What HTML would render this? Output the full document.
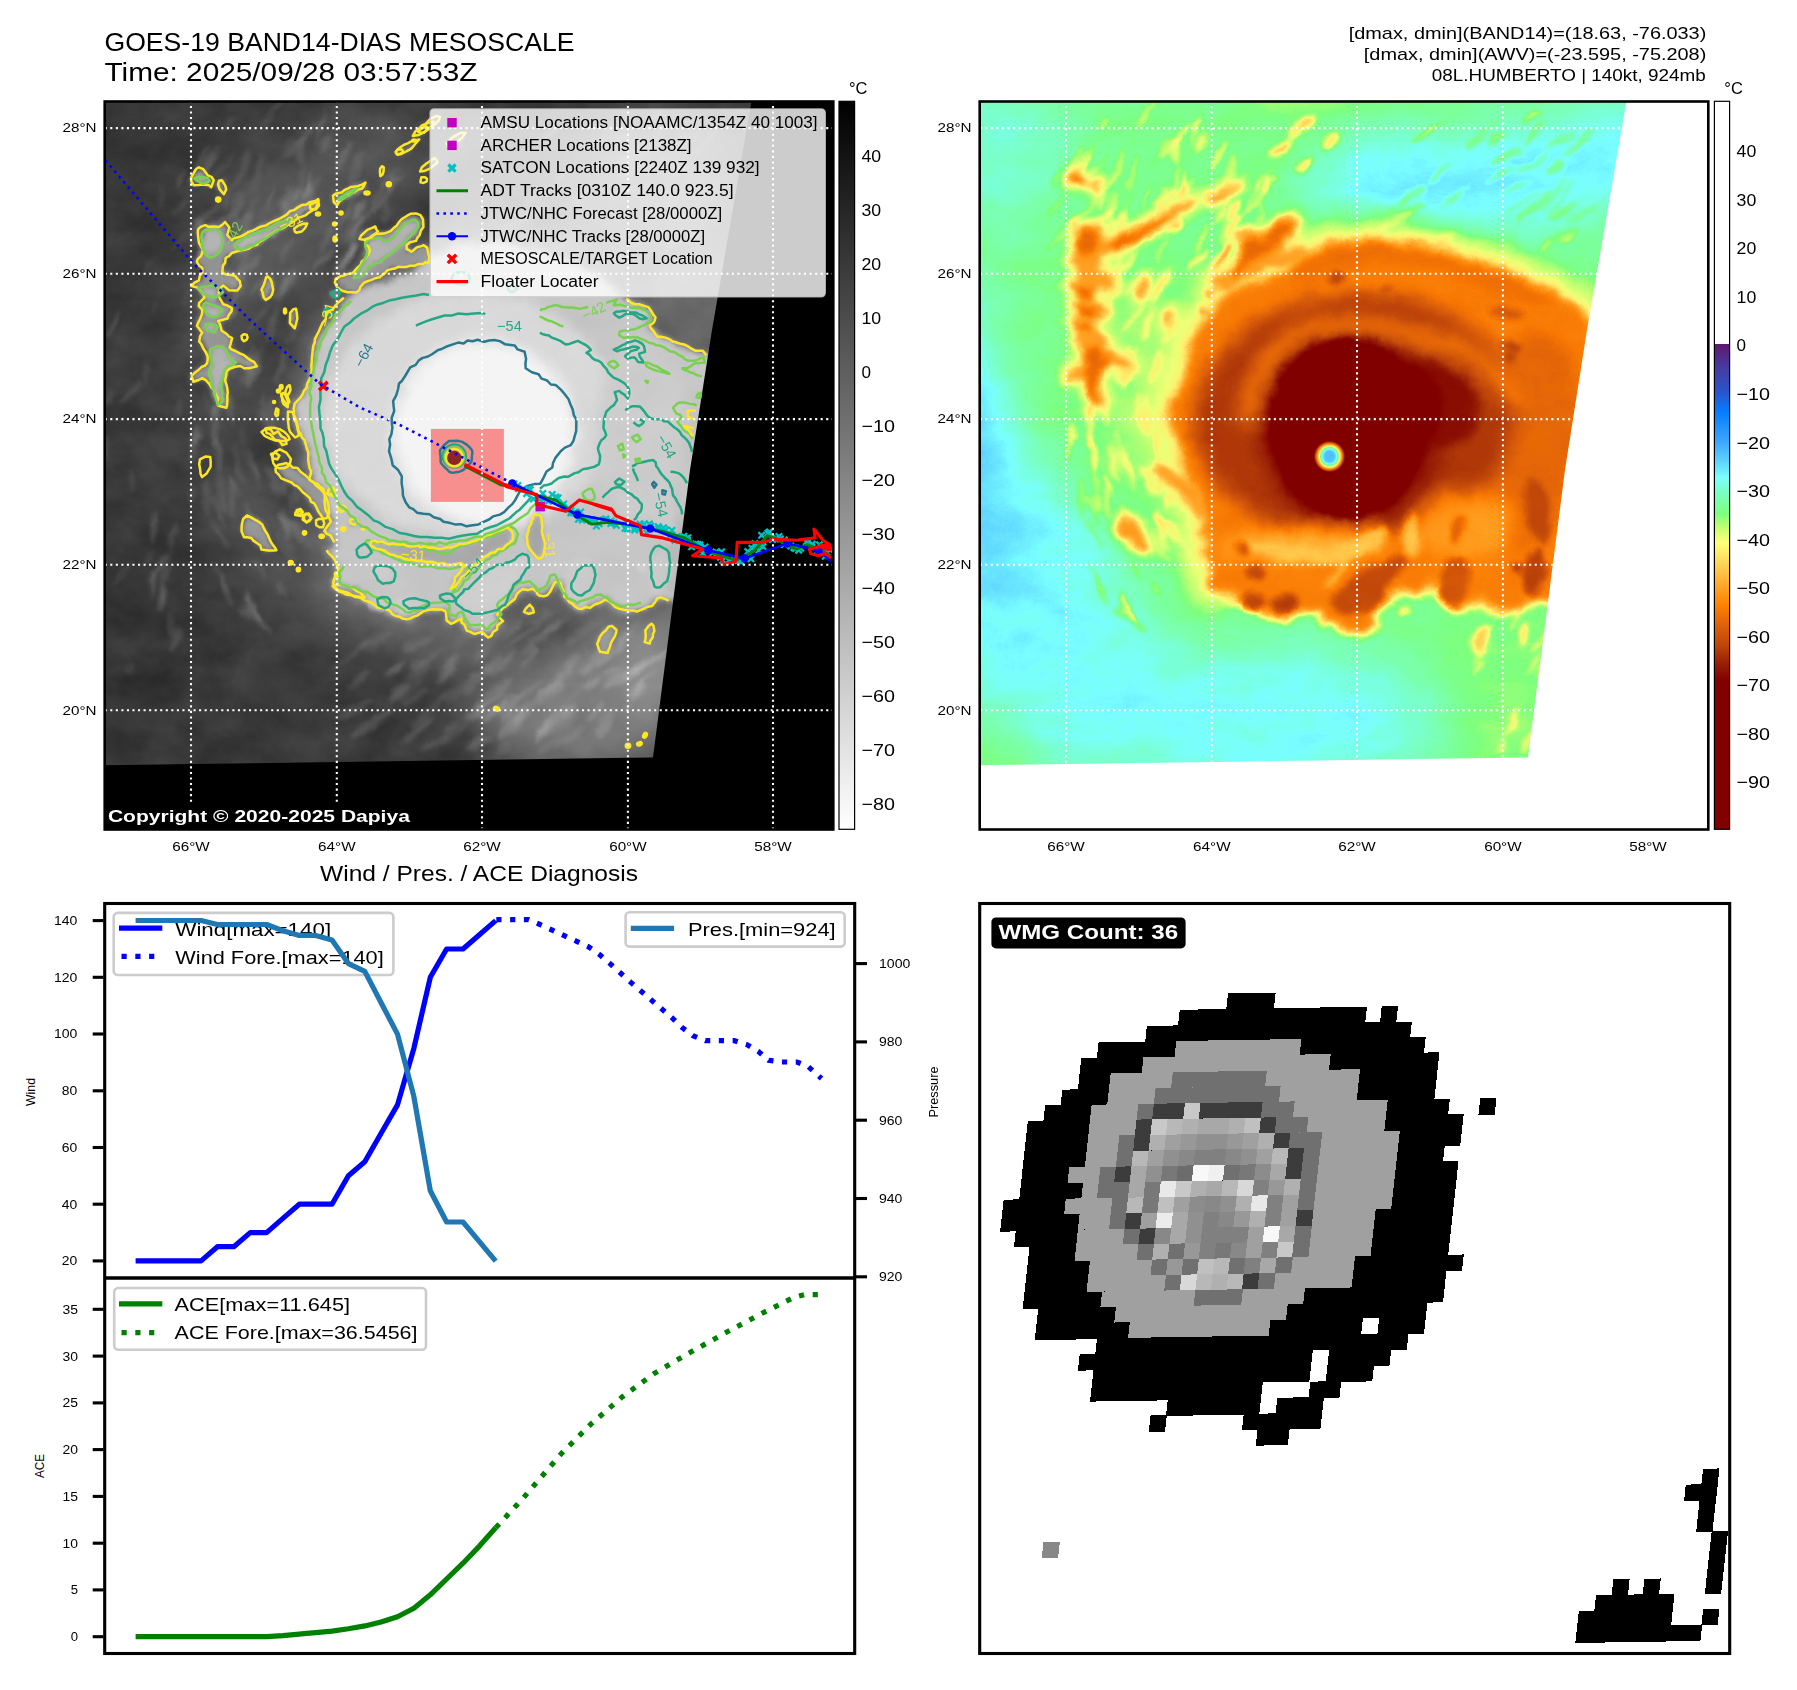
<!DOCTYPE html><html><head><meta charset="utf-8"><title>GOES-19 BAND14-DIAS MESOSCALE</title><style>html,body{margin:0;padding:0;background:#fff}svg{display:block;font-family:"Liberation Sans",sans-serif}</style></head><body>
<svg width="1797" height="1690" viewBox="0 0 1797 1690">
<rect width="1797" height="1690" fill="#fff"/>
<defs>
<filter id="bl1_5" x="-50%" y="-50%" width="200%" height="200%" color-interpolation-filters="sRGB"><feGaussianBlur stdDeviation="1.5"/></filter>
<filter id="bl1_9" x="-50%" y="-50%" width="200%" height="200%" color-interpolation-filters="sRGB"><feGaussianBlur stdDeviation="1.9"/></filter>
<filter id="bl2_2" x="-50%" y="-50%" width="200%" height="200%" color-interpolation-filters="sRGB"><feGaussianBlur stdDeviation="2.2"/></filter>
<filter id="bl2_5" x="-50%" y="-50%" width="200%" height="200%" color-interpolation-filters="sRGB"><feGaussianBlur stdDeviation="2.5"/></filter>
<filter id="bl3" x="-50%" y="-50%" width="200%" height="200%" color-interpolation-filters="sRGB"><feGaussianBlur stdDeviation="3"/></filter>
<filter id="bl3_5" x="-50%" y="-50%" width="200%" height="200%" color-interpolation-filters="sRGB"><feGaussianBlur stdDeviation="3.5"/></filter>
<filter id="bl5" x="-50%" y="-50%" width="200%" height="200%" color-interpolation-filters="sRGB"><feGaussianBlur stdDeviation="5"/></filter>
<filter id="bl6" x="-50%" y="-50%" width="200%" height="200%" color-interpolation-filters="sRGB"><feGaussianBlur stdDeviation="6"/></filter>
<filter id="bl7" x="-50%" y="-50%" width="200%" height="200%" color-interpolation-filters="sRGB"><feGaussianBlur stdDeviation="7"/></filter>
<filter id="bl9" x="-50%" y="-50%" width="200%" height="200%" color-interpolation-filters="sRGB"><feGaussianBlur stdDeviation="9"/></filter>
<filter id="bl12" x="-50%" y="-50%" width="200%" height="200%" color-interpolation-filters="sRGB"><feGaussianBlur stdDeviation="12"/></filter>
<filter id="bl13" x="-50%" y="-50%" width="200%" height="200%" color-interpolation-filters="sRGB"><feGaussianBlur stdDeviation="13"/></filter>
<filter id="bl24" x="-50%" y="-50%" width="200%" height="200%" color-interpolation-filters="sRGB"><feGaussianBlur stdDeviation="24"/></filter>
<filter id="bl30" x="-50%" y="-50%" width="200%" height="200%" color-interpolation-filters="sRGB"><feGaussianBlur stdDeviation="30"/></filter>
<clipPath id="axL"><rect x="104.7" y="101.5" width="728.6" height="728"/></clipPath>
<clipPath id="dat"><path d="M104.0,101.0 L751.5,101.0 L712.0,330.0 L690.0,470.0 L653.0,757.5 L104.0,765.3Z"/></clipPath>
<filter id="fxL" filterUnits="userSpaceOnUse" x="100" y="95" width="740" height="740" color-interpolation-filters="sRGB">
<feTurbulence type="fractalNoise" baseFrequency="0.022 0.03" numOctaves="4" seed="7" result="n"/>
<feColorMatrix in="n" type="matrix" values="1.6 0 0 0 -0.3  1.6 0 0 0 -0.3  1.6 0 0 0 -0.3  0 0 0 0 1" result="ng"/>
<feTurbulence type="fractalNoise" baseFrequency="0.045" numOctaves="3" seed="5" result="dn"/>
<feDisplacementMap in="SourceGraphic" in2="dn" scale="9" xChannelSelector="R" yChannelSelector="G" result="dp"/>
<feComposite in="dp" in2="ng" operator="arithmetic" k1="-0.1" k2="1.05" k3="0.1" k4="-0.05"/></filter>
<filter id="fxR" filterUnits="userSpaceOnUse" x="100" y="95" width="740" height="740" color-interpolation-filters="sRGB">
<feTurbulence type="fractalNoise" baseFrequency="0.02 0.035" numOctaves="4" seed="11" result="n"/>
<feColorMatrix in="n" type="matrix" values="1.6 0 0 0 -0.3  1.6 0 0 0 -0.3  1.6 0 0 0 -0.3  0 0 0 0 1" result="ng"/>
<feTurbulence type="fractalNoise" baseFrequency="0.045" numOctaves="3" seed="5" result="dn"/>
<feDisplacementMap in="SourceGraphic" in2="dn" scale="9" xChannelSelector="R" yChannelSelector="G" result="dp"/>
<feComposite in="dp" in2="ng" operator="arithmetic" k1="-0.04" k2="1.02" k3="0.04" k4="-0.02" result="s"/></filter>
<filter id="cm" filterUnits="userSpaceOnUse" x="100" y="95" width="740" height="740" color-interpolation-filters="sRGB">
<feComponentTransfer><feFuncR type="table" tableValues="0.056 0.145 0.235 0.314 0.392 0.478 0.478 0.484 0.490 0.735 0.928 1.000 1.000 1.000 1.000 1.000 0.968 0.887 0.808 0.725 0.627 0.551 0.502 0.502 0.502 0.502 0.502"/><feFuncG type="table" tableValues="0.516 0.582 0.647 0.755 0.863 1.000 1.000 1.000 1.000 1.000 1.000 0.941 0.843 0.745 0.647 0.556 0.471 0.392 0.325 0.255 0.157 0.067 0.000 0.000 0.000 0.000 0.000"/><feFuncB type="table" tableValues="1.000 1.000 1.000 1.000 1.000 1.000 0.804 0.647 0.490 0.448 0.465 0.431 0.353 0.255 0.157 0.059 0.010 0.034 0.039 0.037 0.025 0.011 0.000 0.000 0.000 0.000 0.000"/></feComponentTransfer></filter>
</defs>
<g clip-path="url(#axL)"><rect x="100" y="95" width="740" height="740" fill="#000"/>
<g clip-path="url(#dat)"><g filter="url(#fxL)"><g><rect x="100" y="95" width="740" height="740" fill="#3a3a3a"/></g>
<g filter="url(#bl24)"><ellipse cx="590.0" cy="705.0" rx="115.0" ry="70.0" fill="#7a7a7a" transform="rotate(-8 590 705)"/><ellipse cx="650.0" cy="640.0" rx="50.0" ry="90.0" fill="#8c8c8c"/><ellipse cx="470.0" cy="650.0" rx="70.0" ry="35.0" fill="#5a5a5a" transform="rotate(5 470 650)"/><ellipse cx="410.0" cy="628.0" rx="85.0" ry="24.0" fill="#626262" transform="rotate(12 410 628)"/><ellipse cx="285.0" cy="560.0" rx="35.0" ry="110.0" fill="#565656" transform="rotate(-38 285 560)"/><ellipse cx="320.0" cy="185.0" rx="130.0" ry="50.0" fill="#565656" transform="rotate(-25 320 185)"/><ellipse cx="285.0" cy="250.0" rx="60.0" ry="40.0" fill="#606060" transform="rotate(-30 285 250)"/><ellipse cx="225.0" cy="330.0" rx="40.0" ry="120.0" fill="#505050"/><ellipse cx="660.0" cy="200.0" rx="90.0" ry="80.0" fill="#646464"/><ellipse cx="140.0" cy="650.0" rx="60.0" ry="100.0" fill="#343434"/><ellipse cx="140.0" cy="200.0" rx="40.0" ry="100.0" fill="#363636"/></g>
<g filter="url(#bl2_2)"><ellipse cx="343.0" cy="155.9" rx="16.1" ry="3.5" fill="#fff" fill-opacity="0.13" transform="rotate(-62.2 343 156)"/><ellipse cx="358.9" cy="187.9" rx="8.0" ry="2.8" fill="#fff" fill-opacity="0.13" transform="rotate(-52.6 359 188)"/><ellipse cx="180.6" cy="207.5" rx="14.9" ry="2.1" fill="#fff" fill-opacity="0.1" transform="rotate(-46.2 181 207)"/><ellipse cx="271.3" cy="199.2" rx="12.2" ry="2.2" fill="#fff" fill-opacity="0.1" transform="rotate(-71.6 271 199)"/><ellipse cx="359.3" cy="210.2" rx="11.3" ry="4.5" fill="#fff" fill-opacity="0.14" transform="rotate(-56.9 359 210)"/><ellipse cx="201.6" cy="169.9" rx="20.8" ry="4.3" fill="#fff" fill-opacity="0.1" transform="rotate(-54.0 202 170)"/><ellipse cx="357.6" cy="230.7" rx="18.6" ry="4.1" fill="#fff" fill-opacity="0.14" transform="rotate(-69.1 358 231)"/><ellipse cx="286.2" cy="216.0" rx="12.4" ry="3.9" fill="#fff" fill-opacity="0.1" transform="rotate(-78.8 286 216)"/><ellipse cx="213.1" cy="208.8" rx="20.1" ry="2.6" fill="#fff" fill-opacity="0.1" transform="rotate(-54.7 213 209)"/><ellipse cx="286.9" cy="250.1" rx="15.1" ry="3.0" fill="#fff" fill-opacity="0.07" transform="rotate(-61.2 287 250)"/><ellipse cx="184.6" cy="236.6" rx="18.7" ry="2.7" fill="#fff" fill-opacity="0.08" transform="rotate(-44.6 185 237)"/><ellipse cx="285.5" cy="286.8" rx="17.7" ry="4.1" fill="#fff" fill-opacity="0.09" transform="rotate(-52.3 285 287)"/><ellipse cx="288.0" cy="281.4" rx="16.3" ry="2.3" fill="#fff" fill-opacity="0.11" transform="rotate(-59.2 288 281)"/><ellipse cx="347.4" cy="257.7" rx="21.3" ry="3.9" fill="#fff" fill-opacity="0.11" transform="rotate(-48.1 347 258)"/><ellipse cx="298.5" cy="186.7" rx="23.7" ry="3.2" fill="#fff" fill-opacity="0.08" transform="rotate(-78.0 298 187)"/><ellipse cx="286.0" cy="197.3" rx="14.2" ry="3.1" fill="#fff" fill-opacity="0.12" transform="rotate(-67.2 286 197)"/><ellipse cx="309.7" cy="192.5" rx="12.1" ry="2.0" fill="#fff" fill-opacity="0.12" transform="rotate(-79.0 310 192)"/><ellipse cx="364.4" cy="253.7" rx="22.7" ry="2.3" fill="#fff" fill-opacity="0.14" transform="rotate(-51.3 364 254)"/><ellipse cx="323.1" cy="125.0" rx="8.3" ry="3.8" fill="#fff" fill-opacity="0.09" transform="rotate(-79.4 323 125)"/><ellipse cx="199.1" cy="222.5" rx="9.3" ry="2.0" fill="#fff" fill-opacity="0.11" transform="rotate(-67.6 199 222)"/><ellipse cx="212.0" cy="159.1" rx="16.2" ry="2.5" fill="#fff" fill-opacity="0.11" transform="rotate(-54.4 212 159)"/><ellipse cx="180.2" cy="179.6" rx="11.4" ry="1.8" fill="#fff" fill-opacity="0.14" transform="rotate(-64.8 180 180)"/><ellipse cx="287.2" cy="147.6" rx="22.7" ry="1.6" fill="#fff" fill-opacity="0.07" transform="rotate(-58.2 287 148)"/><ellipse cx="207.2" cy="239.4" rx="20.7" ry="3.5" fill="#fff" fill-opacity="0.11" transform="rotate(-74.2 207 239)"/><ellipse cx="350.5" cy="203.0" rx="19.7" ry="2.7" fill="#fff" fill-opacity="0.11" transform="rotate(-72.0 351 203)"/><ellipse cx="245.7" cy="223.6" rx="13.4" ry="4.4" fill="#fff" fill-opacity="0.14" transform="rotate(-77.9 246 224)"/><ellipse cx="242.4" cy="264.5" rx="24.9" ry="3.7" fill="#fff" fill-opacity="0.1" transform="rotate(-68.8 242 265)"/><ellipse cx="300.5" cy="140.9" rx="25.5" ry="3.6" fill="#fff" fill-opacity="0.11" transform="rotate(-48.8 300 141)"/><ellipse cx="258.2" cy="172.4" rx="20.1" ry="2.8" fill="#fff" fill-opacity="0.08" transform="rotate(-72.6 258 172)"/><ellipse cx="198.0" cy="229.9" rx="17.0" ry="2.5" fill="#fff" fill-opacity="0.14" transform="rotate(-69.3 198 230)"/><ellipse cx="219.2" cy="169.0" rx="22.1" ry="2.5" fill="#fff" fill-opacity="0.08" transform="rotate(-44.5 219 169)"/><ellipse cx="323.4" cy="260.8" rx="14.2" ry="4.1" fill="#fff" fill-opacity="0.12" transform="rotate(-46.4 323 261)"/><ellipse cx="281.6" cy="287.4" rx="21.1" ry="1.8" fill="#fff" fill-opacity="0.08" transform="rotate(-71.6 282 287)"/><ellipse cx="342.0" cy="218.0" rx="14.6" ry="2.5" fill="#fff" fill-opacity="0.09" transform="rotate(-49.7 342 218)"/><ellipse cx="365.8" cy="218.7" rx="24.0" ry="1.9" fill="#fff" fill-opacity="0.11" transform="rotate(-45.6 366 219)"/><ellipse cx="348.4" cy="259.1" rx="19.1" ry="3.8" fill="#fff" fill-opacity="0.1" transform="rotate(-67.7 348 259)"/><ellipse cx="300.6" cy="150.3" rx="12.8" ry="4.2" fill="#fff" fill-opacity="0.11" transform="rotate(-77.1 301 150)"/><ellipse cx="378.5" cy="192.4" rx="22.2" ry="4.0" fill="#fff" fill-opacity="0.07" transform="rotate(-70.0 379 192)"/><ellipse cx="322.5" cy="126.5" rx="23.9" ry="1.6" fill="#fff" fill-opacity="0.09" transform="rotate(-75.9 322 127)"/><ellipse cx="392.4" cy="185.8" rx="11.0" ry="2.2" fill="#fff" fill-opacity="0.13" transform="rotate(-75.8 392 186)"/><ellipse cx="258.2" cy="284.6" rx="13.3" ry="2.3" fill="#fff" fill-opacity="0.11" transform="rotate(-47.3 258 285)"/><ellipse cx="197.0" cy="227.4" rx="8.2" ry="4.4" fill="#fff" fill-opacity="0.09" transform="rotate(-78.6 197 227)"/><ellipse cx="306.2" cy="191.0" rx="9.1" ry="4.2" fill="#fff" fill-opacity="0.15" transform="rotate(-68.7 306 191)"/><ellipse cx="222.3" cy="221.2" rx="17.8" ry="3.6" fill="#fff" fill-opacity="0.12" transform="rotate(-44.7 222 221)"/><ellipse cx="232.0" cy="207.5" rx="12.4" ry="1.7" fill="#fff" fill-opacity="0.09" transform="rotate(-68.9 232 207)"/><ellipse cx="391.3" cy="190.6" rx="19.6" ry="4.3" fill="#fff" fill-opacity="0.1" transform="rotate(-56.5 391 191)"/><ellipse cx="242.5" cy="168.9" rx="23.2" ry="4.2" fill="#fff" fill-opacity="0.09" transform="rotate(-68.6 242 169)"/><ellipse cx="248.6" cy="208.0" rx="18.7" ry="2.2" fill="#fff" fill-opacity="0.07" transform="rotate(-59.2 249 208)"/><ellipse cx="228.6" cy="123.0" rx="9.3" ry="1.7" fill="#fff" fill-opacity="0.12" transform="rotate(-60.2 229 123)"/><ellipse cx="239.0" cy="252.6" rx="23.5" ry="2.0" fill="#fff" fill-opacity="0.11" transform="rotate(-62.2 239 253)"/><ellipse cx="355.7" cy="167.6" rx="17.3" ry="4.3" fill="#fff" fill-opacity="0.09" transform="rotate(-76.2 356 168)"/><ellipse cx="244.5" cy="272.6" rx="24.3" ry="4.0" fill="#fff" fill-opacity="0.13" transform="rotate(-51.1 245 273)"/><ellipse cx="326.7" cy="142.1" rx="10.8" ry="3.6" fill="#fff" fill-opacity="0.12" transform="rotate(-64.4 327 142)"/><ellipse cx="295.8" cy="207.4" rx="16.2" ry="2.7" fill="#fff" fill-opacity="0.09" transform="rotate(-49.4 296 207)"/><ellipse cx="317.2" cy="185.0" rx="9.1" ry="2.6" fill="#fff" fill-opacity="0.08" transform="rotate(-59.5 317 185)"/><ellipse cx="202.5" cy="156.6" rx="15.2" ry="2.7" fill="#fff" fill-opacity="0.12" transform="rotate(-50.2 203 157)"/><ellipse cx="291.3" cy="200.2" rx="15.9" ry="3.6" fill="#fff" fill-opacity="0.13" transform="rotate(-56.6 291 200)"/><ellipse cx="227.4" cy="199.1" rx="12.1" ry="2.7" fill="#fff" fill-opacity="0.11" transform="rotate(-62.8 227 199)"/><ellipse cx="235.5" cy="226.4" rx="9.3" ry="3.0" fill="#fff" fill-opacity="0.14" transform="rotate(-78.3 236 226)"/><ellipse cx="210.1" cy="247.9" rx="13.6" ry="3.6" fill="#fff" fill-opacity="0.14" transform="rotate(-48.2 210 248)"/><ellipse cx="256.8" cy="236.2" rx="18.7" ry="4.1" fill="#fff" fill-opacity="0.14" transform="rotate(-53.5 257 236)"/><ellipse cx="386.2" cy="212.8" rx="12.5" ry="2.2" fill="#fff" fill-opacity="0.11" transform="rotate(-73.7 386 213)"/><ellipse cx="325.0" cy="239.1" rx="17.3" ry="2.0" fill="#fff" fill-opacity="0.13" transform="rotate(-67.5 325 239)"/><ellipse cx="352.7" cy="223.1" rx="24.4" ry="4.4" fill="#fff" fill-opacity="0.08" transform="rotate(-70.4 353 223)"/><ellipse cx="345.7" cy="261.5" rx="20.6" ry="2.8" fill="#fff" fill-opacity="0.14" transform="rotate(-56.3 346 262)"/><ellipse cx="388.7" cy="178.8" rx="15.8" ry="2.0" fill="#fff" fill-opacity="0.09" transform="rotate(-51.1 389 179)"/><ellipse cx="307.1" cy="183.5" rx="13.3" ry="2.2" fill="#fff" fill-opacity="0.13" transform="rotate(-75.7 307 183)"/><ellipse cx="271.5" cy="113.8" rx="18.9" ry="4.0" fill="#fff" fill-opacity="0.08" transform="rotate(-57.4 272 114)"/><ellipse cx="237.7" cy="207.6" rx="18.5" ry="2.3" fill="#fff" fill-opacity="0.12" transform="rotate(-70.2 238 208)"/><ellipse cx="349.0" cy="255.6" rx="17.8" ry="3.0" fill="#fff" fill-opacity="0.14" transform="rotate(-44.9 349 256)"/><ellipse cx="295.3" cy="530.2" rx="16.5" ry="3.3" fill="#fff" fill-opacity="0.11" transform="rotate(235.8 295 530)"/><ellipse cx="214.0" cy="426.4" rx="21.9" ry="4.3" fill="#fff" fill-opacity="0.11" transform="rotate(-82.5 214 426)"/><ellipse cx="248.4" cy="371.2" rx="14.5" ry="2.5" fill="#fff" fill-opacity="0.1" transform="rotate(-89.9 248 371)"/><ellipse cx="302.0" cy="458.8" rx="8.3" ry="2.5" fill="#fff" fill-opacity="0.08" transform="rotate(252.9 302 459)"/><ellipse cx="256.2" cy="619.6" rx="20.5" ry="3.9" fill="#fff" fill-opacity="0.13" transform="rotate(220.2 256 620)"/><ellipse cx="303.8" cy="539.4" rx="21.7" ry="4.4" fill="#fff" fill-opacity="0.08" transform="rotate(233.8 304 539)"/><ellipse cx="285.5" cy="523.2" rx="14.9" ry="4.3" fill="#fff" fill-opacity="0.11" transform="rotate(245.3 285 523)"/><ellipse cx="294.8" cy="400.3" rx="14.5" ry="3.2" fill="#fff" fill-opacity="0.14" transform="rotate(-68.9 295 400)"/><ellipse cx="281.9" cy="445.4" rx="17.8" ry="2.0" fill="#fff" fill-opacity="0.14" transform="rotate(260.3 282 445)"/><ellipse cx="227.2" cy="589.9" rx="17.9" ry="3.0" fill="#fff" fill-opacity="0.11" transform="rotate(251.4 227 590)"/><ellipse cx="273.2" cy="479.9" rx="15.2" ry="4.3" fill="#fff" fill-opacity="0.12" transform="rotate(247.7 273 480)"/><ellipse cx="282.1" cy="588.6" rx="8.8" ry="3.5" fill="#fff" fill-opacity="0.09" transform="rotate(238.6 282 589)"/><ellipse cx="222.2" cy="577.7" rx="20.0" ry="2.2" fill="#fff" fill-opacity="0.08" transform="rotate(240.9 222 578)"/><ellipse cx="300.7" cy="423.8" rx="13.1" ry="2.0" fill="#fff" fill-opacity="0.12" transform="rotate(-102.1 301 424)"/><ellipse cx="292.6" cy="333.4" rx="13.4" ry="1.6" fill="#fff" fill-opacity="0.15" transform="rotate(-57.0 293 333)"/><ellipse cx="236.3" cy="489.2" rx="12.7" ry="1.6" fill="#fff" fill-opacity="0.1" transform="rotate(244.7 236 489)"/><ellipse cx="286.9" cy="531.6" rx="20.1" ry="3.6" fill="#fff" fill-opacity="0.11" transform="rotate(249.9 287 532)"/><ellipse cx="222.1" cy="504.7" rx="14.3" ry="4.1" fill="#fff" fill-opacity="0.08" transform="rotate(241.9 222 505)"/><ellipse cx="265.2" cy="413.6" rx="21.4" ry="2.3" fill="#fff" fill-opacity="0.12" transform="rotate(-96.3 265 414)"/><ellipse cx="245.4" cy="286.1" rx="8.8" ry="1.6" fill="#fff" fill-opacity="0.08" transform="rotate(-69.3 245 286)"/><ellipse cx="206.5" cy="495.9" rx="21.1" ry="4.5" fill="#fff" fill-opacity="0.09" transform="rotate(271.0 207 496)"/><ellipse cx="248.4" cy="365.3" rx="19.2" ry="3.6" fill="#fff" fill-opacity="0.09" transform="rotate(-70.7 248 365)"/><ellipse cx="245.8" cy="458.9" rx="13.7" ry="1.8" fill="#fff" fill-opacity="0.13" transform="rotate(249.0 246 459)"/><ellipse cx="223.9" cy="313.9" rx="11.0" ry="3.1" fill="#fff" fill-opacity="0.11" transform="rotate(-73.7 224 314)"/><ellipse cx="232.2" cy="498.2" rx="21.5" ry="3.7" fill="#fff" fill-opacity="0.1" transform="rotate(266.8 232 498)"/><ellipse cx="256.4" cy="477.6" rx="15.4" ry="2.0" fill="#fff" fill-opacity="0.07" transform="rotate(255.5 256 478)"/><ellipse cx="291.3" cy="404.5" rx="16.5" ry="2.4" fill="#fff" fill-opacity="0.15" transform="rotate(-69.7 291 405)"/><ellipse cx="239.7" cy="286.5" rx="12.3" ry="4.0" fill="#fff" fill-opacity="0.12" transform="rotate(-71.1 240 286)"/><ellipse cx="196.9" cy="433.5" rx="10.9" ry="3.3" fill="#fff" fill-opacity="0.07" transform="rotate(268.9 197 433)"/><ellipse cx="229.1" cy="406.8" rx="18.6" ry="2.1" fill="#fff" fill-opacity="0.11" transform="rotate(-97.4 229 407)"/><ellipse cx="242.0" cy="437.5" rx="9.7" ry="1.9" fill="#fff" fill-opacity="0.07" transform="rotate(265.0 242 437)"/><ellipse cx="297.0" cy="497.9" rx="8.3" ry="3.5" fill="#fff" fill-opacity="0.13" transform="rotate(255.4 297 498)"/><ellipse cx="281.8" cy="449.3" rx="19.2" ry="2.3" fill="#fff" fill-opacity="0.11" transform="rotate(263.1 282 449)"/><ellipse cx="252.3" cy="604.6" rx="19.7" ry="2.4" fill="#fff" fill-opacity="0.09" transform="rotate(245.5 252 605)"/><ellipse cx="253.7" cy="368.2" rx="20.9" ry="3.3" fill="#fff" fill-opacity="0.13" transform="rotate(-69.4 254 368)"/><ellipse cx="206.5" cy="401.1" rx="13.8" ry="1.7" fill="#fff" fill-opacity="0.07" transform="rotate(-94.6 207 401)"/><ellipse cx="272.8" cy="323.7" rx="17.4" ry="3.5" fill="#fff" fill-opacity="0.1" transform="rotate(-70.9 273 324)"/><ellipse cx="257.9" cy="318.1" rx="18.6" ry="1.8" fill="#fff" fill-opacity="0.11" transform="rotate(-49.8 258 318)"/><ellipse cx="280.8" cy="367.5" rx="17.8" ry="2.7" fill="#fff" fill-opacity="0.15" transform="rotate(-73.7 281 367)"/><ellipse cx="288.9" cy="475.0" rx="8.4" ry="3.3" fill="#fff" fill-opacity="0.14" transform="rotate(255.0 289 475)"/><ellipse cx="216.7" cy="453.5" rx="17.9" ry="4.3" fill="#fff" fill-opacity="0.13" transform="rotate(262.1 217 453)"/><ellipse cx="251.7" cy="607.1" rx="17.2" ry="3.8" fill="#fff" fill-opacity="0.14" transform="rotate(239.6 252 607)"/><ellipse cx="222.0" cy="491.2" rx="21.7" ry="3.4" fill="#fff" fill-opacity="0.07" transform="rotate(261.7 222 491)"/><ellipse cx="250.7" cy="521.9" rx="19.4" ry="1.6" fill="#fff" fill-opacity="0.15" transform="rotate(252.7 251 522)"/><ellipse cx="282.5" cy="486.2" rx="9.4" ry="3.9" fill="#fff" fill-opacity="0.13" transform="rotate(265.7 283 486)"/><ellipse cx="218.9" cy="533.0" rx="19.3" ry="1.9" fill="#fff" fill-opacity="0.12" transform="rotate(239.2 219 533)"/><ellipse cx="247.1" cy="366.3" rx="10.9" ry="4.4" fill="#fff" fill-opacity="0.07" transform="rotate(-75.7 247 366)"/><ellipse cx="195.4" cy="445.0" rx="18.6" ry="3.0" fill="#fff" fill-opacity="0.12" transform="rotate(271.7 195 445)"/><ellipse cx="235.2" cy="370.8" rx="9.1" ry="3.8" fill="#fff" fill-opacity="0.08" transform="rotate(-90.6 235 371)"/><ellipse cx="285.0" cy="546.7" rx="19.0" ry="4.1" fill="#fff" fill-opacity="0.08" transform="rotate(244.3 285 547)"/><ellipse cx="214.5" cy="409.8" rx="8.1" ry="3.2" fill="#fff" fill-opacity="0.15" transform="rotate(-91.8 215 410)"/><ellipse cx="239.0" cy="462.9" rx="20.2" ry="2.4" fill="#fff" fill-opacity="0.12" transform="rotate(260.5 239 463)"/><ellipse cx="253.1" cy="463.1" rx="19.5" ry="2.4" fill="#fff" fill-opacity="0.12" transform="rotate(249.0 253 463)"/><ellipse cx="290.5" cy="502.2" rx="9.3" ry="3.4" fill="#fff" fill-opacity="0.1" transform="rotate(259.4 291 502)"/><ellipse cx="258.7" cy="569.3" rx="12.3" ry="2.2" fill="#fff" fill-opacity="0.1" transform="rotate(241.7 259 569)"/><ellipse cx="222.9" cy="374.3" rx="19.5" ry="2.6" fill="#fff" fill-opacity="0.1" transform="rotate(-89.4 223 374)"/><ellipse cx="233.2" cy="306.3" rx="14.2" ry="2.4" fill="#fff" fill-opacity="0.14" transform="rotate(-73.4 233 306)"/><ellipse cx="305.6" cy="430.3" rx="12.6" ry="1.8" fill="#fff" fill-opacity="0.09" transform="rotate(282.8 306 430)"/><ellipse cx="217.7" cy="510.7" rx="19.1" ry="2.2" fill="#fff" fill-opacity="0.13" transform="rotate(248.6 218 511)"/><ellipse cx="270.9" cy="416.1" rx="20.3" ry="4.3" fill="#fff" fill-opacity="0.11" transform="rotate(-90.9 271 416)"/><ellipse cx="410.9" cy="686.2" rx="20.1" ry="4.5" fill="#fff" fill-opacity="0.07" transform="rotate(-42.7 411 686)"/><ellipse cx="418.2" cy="642.8" rx="17.4" ry="5.3" fill="#fff" fill-opacity="0.11" transform="rotate(-20.2 418 643)"/><ellipse cx="547.3" cy="631.1" rx="25.4" ry="4.1" fill="#fff" fill-opacity="0.13" transform="rotate(-33.1 547 631)"/><ellipse cx="558.3" cy="619.0" rx="19.8" ry="3.2" fill="#fff" fill-opacity="0.07" transform="rotate(-28.7 558 619)"/><ellipse cx="624.3" cy="676.2" rx="25.6" ry="4.9" fill="#fff" fill-opacity="0.14" transform="rotate(-30.1 624 676)"/><ellipse cx="464.3" cy="722.1" rx="26.7" ry="5.5" fill="#fff" fill-opacity="0.07" transform="rotate(-40.0 464 722)"/><ellipse cx="376.2" cy="640.4" rx="16.7" ry="4.5" fill="#fff" fill-opacity="0.09" transform="rotate(-21.2 376 640)"/><ellipse cx="502.5" cy="664.0" rx="19.7" ry="4.3" fill="#fff" fill-opacity="0.14" transform="rotate(-43.4 502 664)"/><ellipse cx="561.9" cy="740.1" rx="27.8" ry="4.7" fill="#fff" fill-opacity="0.08" transform="rotate(-25.2 562 740)"/><ellipse cx="637.6" cy="689.7" rx="12.2" ry="5.3" fill="#fff" fill-opacity="0.11" transform="rotate(-30.3 638 690)"/><ellipse cx="426.9" cy="618.9" rx="27.8" ry="2.4" fill="#fff" fill-opacity="0.13" transform="rotate(-25.3 427 619)"/><ellipse cx="469.6" cy="631.1" rx="23.4" ry="5.5" fill="#fff" fill-opacity="0.07" transform="rotate(-45.4 470 631)"/><ellipse cx="538.9" cy="616.3" rx="14.6" ry="5.5" fill="#fff" fill-opacity="0.15" transform="rotate(-30.1 539 616)"/><ellipse cx="501.8" cy="749.8" rx="9.5" ry="4.4" fill="#fff" fill-opacity="0.07" transform="rotate(-44.9 502 750)"/><ellipse cx="397.1" cy="667.1" rx="11.1" ry="2.2" fill="#fff" fill-opacity="0.14" transform="rotate(-34.0 397 667)"/><ellipse cx="436.7" cy="744.2" rx="15.6" ry="3.8" fill="#fff" fill-opacity="0.11" transform="rotate(-23.7 437 744)"/><ellipse cx="548.9" cy="693.4" rx="20.4" ry="5.8" fill="#fff" fill-opacity="0.11" transform="rotate(-35.9 549 693)"/><ellipse cx="476.6" cy="710.8" rx="14.0" ry="5.9" fill="#fff" fill-opacity="0.11" transform="rotate(-47.4 477 711)"/><ellipse cx="516.5" cy="611.6" rx="19.6" ry="2.1" fill="#fff" fill-opacity="0.12" transform="rotate(-41.1 516 612)"/><ellipse cx="544.9" cy="618.4" rx="17.3" ry="4.7" fill="#fff" fill-opacity="0.1" transform="rotate(-33.4 545 618)"/><ellipse cx="570.4" cy="713.3" rx="9.2" ry="4.7" fill="#fff" fill-opacity="0.15" transform="rotate(-55.2 570 713)"/><ellipse cx="415.4" cy="673.9" rx="14.4" ry="3.5" fill="#fff" fill-opacity="0.09" transform="rotate(-34.7 415 674)"/><ellipse cx="455.5" cy="693.4" rx="15.5" ry="5.1" fill="#fff" fill-opacity="0.07" transform="rotate(-45.2 456 693)"/><ellipse cx="523.5" cy="712.9" rx="12.5" ry="5.2" fill="#fff" fill-opacity="0.09" transform="rotate(-44.8 524 713)"/><ellipse cx="393.7" cy="670.9" rx="10.0" ry="3.3" fill="#fff" fill-opacity="0.09" transform="rotate(-30.9 394 671)"/><ellipse cx="613.4" cy="671.4" rx="11.4" ry="3.3" fill="#fff" fill-opacity="0.12" transform="rotate(-25.2 613 671)"/><ellipse cx="630.9" cy="673.2" rx="10.4" ry="4.1" fill="#fff" fill-opacity="0.08" transform="rotate(-47.9 631 673)"/><ellipse cx="604.3" cy="727.4" rx="13.6" ry="5.2" fill="#fff" fill-opacity="0.12" transform="rotate(-49.4 604 727)"/><ellipse cx="604.1" cy="658.3" rx="13.8" ry="5.2" fill="#fff" fill-opacity="0.09" transform="rotate(-51.3 604 658)"/><ellipse cx="447.8" cy="668.4" rx="16.2" ry="5.7" fill="#fff" fill-opacity="0.08" transform="rotate(-40.9 448 668)"/><ellipse cx="477.7" cy="743.0" rx="12.4" ry="5.0" fill="#fff" fill-opacity="0.14" transform="rotate(-22.6 478 743)"/><ellipse cx="555.4" cy="682.7" rx="14.8" ry="2.9" fill="#fff" fill-opacity="0.07" transform="rotate(-45.6 555 683)"/><ellipse cx="530.2" cy="650.2" rx="8.9" ry="5.6" fill="#fff" fill-opacity="0.12" transform="rotate(-26.8 530 650)"/><ellipse cx="635.9" cy="690.8" rx="22.9" ry="2.7" fill="#fff" fill-opacity="0.09" transform="rotate(-55.5 636 691)"/><ellipse cx="555.4" cy="683.5" rx="26.8" ry="4.4" fill="#fff" fill-opacity="0.09" transform="rotate(-41.1 555 683)"/><ellipse cx="415.8" cy="730.6" rx="23.6" ry="3.4" fill="#fff" fill-opacity="0.08" transform="rotate(-38.8 416 731)"/><ellipse cx="511.8" cy="724.4" rx="23.8" ry="5.7" fill="#fff" fill-opacity="0.13" transform="rotate(-49.8 512 724)"/><ellipse cx="543.7" cy="730.8" rx="13.4" ry="3.1" fill="#fff" fill-opacity="0.11" transform="rotate(-54.2 544 731)"/><ellipse cx="473.8" cy="676.2" rx="8.0" ry="2.2" fill="#fff" fill-opacity="0.08" transform="rotate(-28.0 474 676)"/><ellipse cx="359.3" cy="680.3" rx="14.3" ry="3.4" fill="#fff" fill-opacity="0.12" transform="rotate(-44.6 359 680)"/><ellipse cx="529.4" cy="660.5" rx="14.6" ry="2.5" fill="#fff" fill-opacity="0.11" transform="rotate(-49.1 529 661)"/><ellipse cx="573.5" cy="663.2" rx="11.6" ry="3.5" fill="#fff" fill-opacity="0.12" transform="rotate(-53.1 573 663)"/><ellipse cx="596.1" cy="663.2" rx="20.5" ry="3.7" fill="#fff" fill-opacity="0.1" transform="rotate(-27.2 596 663)"/><ellipse cx="498.7" cy="708.4" rx="21.9" ry="3.8" fill="#fff" fill-opacity="0.09" transform="rotate(-40.9 499 708)"/><ellipse cx="512.2" cy="707.3" rx="16.5" ry="3.7" fill="#fff" fill-opacity="0.14" transform="rotate(-53.4 512 707)"/><ellipse cx="648.4" cy="662.4" rx="23.8" ry="3.0" fill="#fff" fill-opacity="0.1" transform="rotate(-23.7 648 662)"/><ellipse cx="371.9" cy="723.9" rx="25.7" ry="5.2" fill="#fff" fill-opacity="0.12" transform="rotate(-32.2 372 724)"/><ellipse cx="579.5" cy="688.9" rx="19.8" ry="2.0" fill="#fff" fill-opacity="0.08" transform="rotate(-52.3 579 689)"/><ellipse cx="629.4" cy="635.1" rx="24.8" ry="2.5" fill="#fff" fill-opacity="0.14" transform="rotate(-55.2 629 635)"/><ellipse cx="559.0" cy="727.1" rx="19.6" ry="5.2" fill="#fff" fill-opacity="0.07" transform="rotate(-21.7 559 727)"/><ellipse cx="590.9" cy="681.6" rx="10.1" ry="5.0" fill="#fff" fill-opacity="0.14" transform="rotate(-30.3 591 682)"/><ellipse cx="350.8" cy="655.4" rx="24.6" ry="3.0" fill="#fff" fill-opacity="0.08" transform="rotate(-35.7 351 655)"/><ellipse cx="415.0" cy="696.2" rx="15.9" ry="3.5" fill="#fff" fill-opacity="0.1" transform="rotate(-28.9 415 696)"/><ellipse cx="449.1" cy="668.6" rx="18.0" ry="5.9" fill="#fff" fill-opacity="0.1" transform="rotate(-53.0 449 669)"/><ellipse cx="584.1" cy="632.5" rx="23.1" ry="4.7" fill="#fff" fill-opacity="0.11" transform="rotate(-31.1 584 632)"/><ellipse cx="494.5" cy="700.0" rx="11.0" ry="2.4" fill="#fff" fill-opacity="0.13" transform="rotate(-23.7 494 700)"/><ellipse cx="641.6" cy="682.4" rx="22.4" ry="2.7" fill="#fff" fill-opacity="0.09" transform="rotate(-40.1 642 682)"/><ellipse cx="397.7" cy="692.0" rx="12.6" ry="4.8" fill="#fff" fill-opacity="0.15" transform="rotate(-44.7 398 692)"/><ellipse cx="430.6" cy="708.7" rx="25.1" ry="4.3" fill="#fff" fill-opacity="0.09" transform="rotate(-41.1 431 709)"/><ellipse cx="493.0" cy="663.6" rx="15.2" ry="3.3" fill="#fff" fill-opacity="0.13" transform="rotate(-49.8 493 664)"/><ellipse cx="493.1" cy="693.9" rx="24.7" ry="5.3" fill="#fff" fill-opacity="0.11" transform="rotate(-39.2 493 694)"/><ellipse cx="493.6" cy="710.9" rx="16.0" ry="4.9" fill="#fff" fill-opacity="0.15" transform="rotate(-25.2 494 711)"/><ellipse cx="488.9" cy="642.1" rx="22.4" ry="4.7" fill="#fff" fill-opacity="0.15" transform="rotate(-47.5 489 642)"/><ellipse cx="620.3" cy="643.9" rx="13.2" ry="2.7" fill="#fff" fill-opacity="0.13" transform="rotate(-49.2 620 644)"/><ellipse cx="416.7" cy="731.1" rx="16.5" ry="4.9" fill="#fff" fill-opacity="0.07" transform="rotate(-44.7 417 731)"/><ellipse cx="429.2" cy="659.9" rx="21.5" ry="2.0" fill="#fff" fill-opacity="0.09" transform="rotate(-35.1 429 660)"/><ellipse cx="478.3" cy="678.0" rx="19.7" ry="5.8" fill="#fff" fill-opacity="0.1" transform="rotate(-48.4 478 678)"/><ellipse cx="515.1" cy="626.7" rx="21.3" ry="2.5" fill="#fff" fill-opacity="0.14" transform="rotate(-46.1 515 627)"/><ellipse cx="650.0" cy="662.4" rx="23.1" ry="3.2" fill="#fff" fill-opacity="0.12" transform="rotate(-28.2 650 662)"/><ellipse cx="552.4" cy="722.8" rx="23.1" ry="5.8" fill="#fff" fill-opacity="0.12" transform="rotate(-46.4 552 723)"/><ellipse cx="512.3" cy="625.9" rx="15.0" ry="4.9" fill="#fff" fill-opacity="0.12" transform="rotate(-38.2 512 626)"/><ellipse cx="522.6" cy="635.5" rx="20.6" ry="2.7" fill="#fff" fill-opacity="0.14" transform="rotate(-32.8 523 635)"/><ellipse cx="552.8" cy="627.2" rx="10.8" ry="3.3" fill="#fff" fill-opacity="0.13" transform="rotate(-22.5 553 627)"/><ellipse cx="533.1" cy="687.7" rx="17.2" ry="3.2" fill="#fff" fill-opacity="0.08" transform="rotate(-32.7 533 688)"/><ellipse cx="353.3" cy="710.2" rx="18.9" ry="5.0" fill="#fff" fill-opacity="0.1" transform="rotate(-28.8 353 710)"/><ellipse cx="420.4" cy="663.7" rx="8.8" ry="4.0" fill="#fff" fill-opacity="0.09" transform="rotate(-24.6 420 664)"/><ellipse cx="591.4" cy="659.6" rx="16.1" ry="4.2" fill="#fff" fill-opacity="0.13" transform="rotate(-44.0 591 660)"/><ellipse cx="450.0" cy="728.6" rx="13.4" ry="2.4" fill="#fff" fill-opacity="0.08" transform="rotate(-52.0 450 729)"/><ellipse cx="594.9" cy="711.8" rx="11.8" ry="3.7" fill="#fff" fill-opacity="0.13" transform="rotate(-49.3 595 712)"/><ellipse cx="607.4" cy="714.8" rx="10.9" ry="3.6" fill="#fff" fill-opacity="0.08" transform="rotate(-34.7 607 715)"/><ellipse cx="561.9" cy="126.5" rx="10.5" ry="1.7" fill="#fff" fill-opacity="0.1" transform="rotate(-38.1 562 127)"/><ellipse cx="678.3" cy="145.5" rx="12.4" ry="1.9" fill="#fff" fill-opacity="0.07" transform="rotate(-33.9 678 146)"/><ellipse cx="692.4" cy="239.1" rx="11.1" ry="2.3" fill="#fff" fill-opacity="0.12" transform="rotate(-26.0 692 239)"/><ellipse cx="671.0" cy="246.7" rx="9.4" ry="3.0" fill="#fff" fill-opacity="0.12" transform="rotate(-23.6 671 247)"/><ellipse cx="621.3" cy="138.4" rx="9.4" ry="3.8" fill="#fff" fill-opacity="0.14" transform="rotate(-35.8 621 138)"/><ellipse cx="630.5" cy="158.0" rx="17.2" ry="3.7" fill="#fff" fill-opacity="0.14" transform="rotate(-22.7 630 158)"/><ellipse cx="621.8" cy="176.2" rx="14.9" ry="1.9" fill="#fff" fill-opacity="0.09" transform="rotate(-32.0 622 176)"/><ellipse cx="520.2" cy="210.2" rx="16.6" ry="2.7" fill="#fff" fill-opacity="0.09" transform="rotate(-41.6 520 210)"/><ellipse cx="600.8" cy="142.4" rx="12.4" ry="2.4" fill="#fff" fill-opacity="0.13" transform="rotate(-31.0 601 142)"/><ellipse cx="580.5" cy="199.4" rx="9.6" ry="1.7" fill="#fff" fill-opacity="0.09" transform="rotate(-22.9 581 199)"/><ellipse cx="678.3" cy="208.5" rx="13.3" ry="1.9" fill="#fff" fill-opacity="0.1" transform="rotate(-42.9 678 208)"/><ellipse cx="519.4" cy="221.6" rx="23.3" ry="3.3" fill="#fff" fill-opacity="0.15" transform="rotate(-23.1 519 222)"/><ellipse cx="600.3" cy="260.9" rx="21.1" ry="2.2" fill="#fff" fill-opacity="0.08" transform="rotate(-31.4 600 261)"/><ellipse cx="607.7" cy="131.8" rx="23.4" ry="2.3" fill="#fff" fill-opacity="0.07" transform="rotate(-38.6 608 132)"/><ellipse cx="682.4" cy="168.0" rx="9.6" ry="4.0" fill="#fff" fill-opacity="0.1" transform="rotate(-41.3 682 168)"/><ellipse cx="658.9" cy="133.9" rx="15.9" ry="2.1" fill="#fff" fill-opacity="0.15" transform="rotate(-48.8 659 134)"/><ellipse cx="536.9" cy="194.7" rx="14.5" ry="4.0" fill="#fff" fill-opacity="0.11" transform="rotate(-26.8 537 195)"/><ellipse cx="563.2" cy="175.7" rx="14.7" ry="2.1" fill="#fff" fill-opacity="0.14" transform="rotate(-48.9 563 176)"/><ellipse cx="692.8" cy="189.8" rx="12.1" ry="2.1" fill="#fff" fill-opacity="0.08" transform="rotate(-49.1 693 190)"/><ellipse cx="560.9" cy="249.2" rx="8.8" ry="3.8" fill="#fff" fill-opacity="0.11" transform="rotate(-45.7 561 249)"/><ellipse cx="708.2" cy="214.6" rx="19.9" ry="2.7" fill="#fff" fill-opacity="0.07" transform="rotate(-26.3 708 215)"/><ellipse cx="556.4" cy="249.8" rx="22.8" ry="2.3" fill="#fff" fill-opacity="0.12" transform="rotate(-23.0 556 250)"/><ellipse cx="685.9" cy="212.8" rx="16.4" ry="3.1" fill="#fff" fill-opacity="0.12" transform="rotate(-25.6 686 213)"/><ellipse cx="569.0" cy="257.6" rx="9.2" ry="3.9" fill="#fff" fill-opacity="0.15" transform="rotate(-21.3 569 258)"/><ellipse cx="657.0" cy="117.1" rx="10.0" ry="3.9" fill="#fff" fill-opacity="0.12" transform="rotate(-23.0 657 117)"/><ellipse cx="649.7" cy="201.1" rx="22.8" ry="2.0" fill="#fff" fill-opacity="0.07" transform="rotate(-27.6 650 201)"/><ellipse cx="688.2" cy="235.3" rx="16.8" ry="3.7" fill="#fff" fill-opacity="0.08" transform="rotate(-23.7 688 235)"/><ellipse cx="657.7" cy="162.9" rx="20.4" ry="2.7" fill="#fff" fill-opacity="0.11" transform="rotate(-23.2 658 163)"/><ellipse cx="640.8" cy="188.2" rx="17.7" ry="1.8" fill="#fff" fill-opacity="0.1" transform="rotate(-24.1 641 188)"/><ellipse cx="678.9" cy="193.7" rx="21.4" ry="3.6" fill="#fff" fill-opacity="0.07" transform="rotate(-49.7 679 194)"/><ellipse cx="629.5" cy="171.0" rx="13.0" ry="2.1" fill="#fff" fill-opacity="0.11" transform="rotate(-26.4 630 171)"/><ellipse cx="535.2" cy="209.4" rx="16.2" ry="2.6" fill="#fff" fill-opacity="0.14" transform="rotate(-23.4 535 209)"/><ellipse cx="703.9" cy="141.3" rx="21.4" ry="2.6" fill="#fff" fill-opacity="0.13" transform="rotate(-40.9 704 141)"/><ellipse cx="548.8" cy="133.9" rx="13.4" ry="2.9" fill="#fff" fill-opacity="0.14" transform="rotate(-35.2 549 134)"/><ellipse cx="578.6" cy="197.2" rx="19.4" ry="2.7" fill="#fff" fill-opacity="0.07" transform="rotate(-35.4 579 197)"/><ellipse cx="564.0" cy="245.6" rx="20.3" ry="4.0" fill="#fff" fill-opacity="0.12" transform="rotate(-39.3 564 246)"/><ellipse cx="658.9" cy="207.5" rx="22.6" ry="2.7" fill="#fff" fill-opacity="0.14" transform="rotate(-40.6 659 208)"/><ellipse cx="577.2" cy="248.8" rx="17.8" ry="2.6" fill="#fff" fill-opacity="0.08" transform="rotate(-26.4 577 249)"/><ellipse cx="679.6" cy="167.9" rx="10.1" ry="1.7" fill="#fff" fill-opacity="0.08" transform="rotate(-30.1 680 168)"/><ellipse cx="688.0" cy="138.4" rx="14.0" ry="2.9" fill="#fff" fill-opacity="0.1" transform="rotate(-22.9 688 138)"/><ellipse cx="161.1" cy="565.1" rx="15.4" ry="3.0" fill="#fff" fill-opacity="0.14" transform="rotate(-55.2 161 565)"/><ellipse cx="107.6" cy="399.4" rx="12.5" ry="3.3" fill="#fff" fill-opacity="0.08" transform="rotate(-47.8 108 399)"/><ellipse cx="147.2" cy="267.9" rx="11.7" ry="1.5" fill="#fff" fill-opacity="0.08" transform="rotate(-67.8 147 268)"/><ellipse cx="130.2" cy="669.8" rx="7.6" ry="3.1" fill="#fff" fill-opacity="0.08" transform="rotate(-56.7 130 670)"/><ellipse cx="160.6" cy="196.0" rx="14.7" ry="1.9" fill="#fff" fill-opacity="0.08" transform="rotate(-94.9 161 196)"/><ellipse cx="153.5" cy="526.7" rx="15.4" ry="2.9" fill="#fff" fill-opacity="0.15" transform="rotate(-84.8 154 527)"/><ellipse cx="185.4" cy="299.3" rx="7.7" ry="1.8" fill="#fff" fill-opacity="0.07" transform="rotate(-76.9 185 299)"/><ellipse cx="132.1" cy="481.9" rx="12.8" ry="2.2" fill="#fff" fill-opacity="0.09" transform="rotate(-94.8 132 482)"/><ellipse cx="178.7" cy="408.4" rx="10.8" ry="2.9" fill="#fff" fill-opacity="0.07" transform="rotate(-79.2 179 408)"/><ellipse cx="172.5" cy="626.9" rx="13.9" ry="2.2" fill="#fff" fill-opacity="0.11" transform="rotate(-94.1 172 627)"/><ellipse cx="122.7" cy="573.4" rx="15.4" ry="2.2" fill="#fff" fill-opacity="0.1" transform="rotate(-48.5 123 573)"/><ellipse cx="152.2" cy="585.4" rx="13.5" ry="3.1" fill="#fff" fill-opacity="0.14" transform="rotate(-89.6 152 585)"/><ellipse cx="113.2" cy="324.4" rx="15.2" ry="2.2" fill="#fff" fill-opacity="0.14" transform="rotate(-64.5 113 324)"/><ellipse cx="154.1" cy="307.5" rx="7.8" ry="1.7" fill="#fff" fill-opacity="0.08" transform="rotate(-79.2 154 307)"/><ellipse cx="193.8" cy="440.1" rx="8.4" ry="2.7" fill="#fff" fill-opacity="0.14" transform="rotate(-74.7 194 440)"/><ellipse cx="146.0" cy="373.1" rx="15.2" ry="1.6" fill="#fff" fill-opacity="0.11" transform="rotate(-92.2 146 373)"/><ellipse cx="161.7" cy="592.8" rx="10.3" ry="1.8" fill="#fff" fill-opacity="0.14" transform="rotate(-89.7 162 593)"/><ellipse cx="131.5" cy="391.9" rx="14.5" ry="3.5" fill="#fff" fill-opacity="0.1" transform="rotate(-45.0 132 392)"/><ellipse cx="148.9" cy="557.7" rx="8.9" ry="2.3" fill="#fff" fill-opacity="0.08" transform="rotate(-71.0 149 558)"/><ellipse cx="191.4" cy="496.2" rx="9.4" ry="1.7" fill="#fff" fill-opacity="0.09" transform="rotate(-70.0 191 496)"/><ellipse cx="175.4" cy="640.4" rx="13.9" ry="3.0" fill="#fff" fill-opacity="0.12" transform="rotate(-76.9 175 640)"/><ellipse cx="164.8" cy="575.8" rx="13.0" ry="2.1" fill="#fff" fill-opacity="0.11" transform="rotate(-76.8 165 576)"/><ellipse cx="174.3" cy="534.5" rx="15.5" ry="2.8" fill="#fff" fill-opacity="0.11" transform="rotate(-80.3 174 535)"/><ellipse cx="106.0" cy="448.2" rx="12.7" ry="2.4" fill="#fff" fill-opacity="0.13" transform="rotate(-82.5 106 448)"/><ellipse cx="163.3" cy="598.6" rx="12.4" ry="3.0" fill="#fff" fill-opacity="0.14" transform="rotate(-77.6 163 599)"/></g>
<g filter="url(#bl12)"><path d="M319.0,341.0C322.3,333.8 327.3,325.7 332.0,319.0C336.7,312.3 341.8,306.2 347.0,301.0C352.2,295.8 356.7,291.3 363.0,288.0C369.3,284.7 377.7,283.3 385.0,281.0C392.3,278.7 399.8,277.8 407.0,274.0C414.2,270.2 417.5,263.3 428.0,258.0C438.5,252.7 454.7,244.0 470.0,242.0C485.3,240.0 505.0,243.7 520.0,246.0C535.0,248.3 546.7,251.2 560.0,256.0C573.3,260.8 588.9,267.9 600.0,275.0C611.1,282.1 621.5,293.9 626.6,298.5C631.8,303.1 628.8,301.6 630.9,302.7C633.0,303.8 636.5,304.1 639.4,304.9C642.2,305.7 645.6,306.2 648.0,307.7C650.4,309.2 652.4,311.9 653.6,314.1C654.8,316.4 655.6,319.3 655.0,321.2C654.4,323.1 650.3,323.9 650.1,325.5C649.9,327.1 652.3,329.2 653.6,331.1C654.9,333.0 656.0,335.7 657.9,336.8C659.8,337.9 662.6,336.8 665.0,337.5C667.4,338.2 669.7,340.2 672.1,341.1C674.5,342.1 676.6,342.4 679.2,343.2C681.8,344.0 685.1,344.9 687.7,346.1C690.3,347.3 692.2,349.5 694.8,350.3C697.4,351.1 700.5,350.1 703.4,351.0C706.3,351.9 707.6,347.8 712.0,356.0C716.4,364.2 728.7,376.0 730.0,400.0C731.3,424.0 725.0,469.2 720.0,500.0C715.0,530.8 708.4,568.1 700.0,585.0C691.6,601.9 676.1,599.3 669.5,601.3C662.9,603.3 664.3,595.7 660.6,596.8C656.9,598.0 652.4,605.6 647.2,608.0C642.1,610.4 634.6,611.3 629.4,611.3C624.2,611.3 619.8,610.0 616.1,608.0C612.4,605.9 610.9,599.4 607.2,599.1C603.5,598.7 598.6,604.3 593.8,605.7C589.0,607.2 582.7,609.1 578.2,608.0C573.8,606.9 570.5,603.5 567.1,599.1C563.8,594.6 561.5,582.0 558.2,581.3C554.9,580.5 550.0,592.0 547.1,594.6C544.1,597.2 542.3,597.6 540.4,596.8C538.5,596.1 538.9,591.3 535.9,590.2C533.0,589.1 526.7,588.3 522.6,590.2C518.5,592.0 515.5,597.4 511.5,601.3C507.4,605.2 499.6,610.2 498.1,613.5C496.6,616.9 502.6,619.3 502.6,621.3C502.6,623.4 500.3,623.2 498.1,625.8C495.9,628.4 491.8,635.8 489.2,636.9C486.6,638.0 485.9,633.2 482.5,632.5C479.2,631.7 472.9,634.7 469.2,632.5C465.5,630.2 462.9,620.6 460.3,619.1C457.7,617.6 455.8,623.2 453.6,623.6C451.4,623.9 448.4,623.6 446.9,621.3C445.4,619.1 448.4,611.9 444.7,610.2C441.0,608.5 431.0,609.8 424.7,611.3C418.3,612.8 412.8,619.1 406.8,619.1C400.9,619.1 395.0,613.9 389.0,611.3C383.1,608.7 377.5,606.3 371.2,603.5C364.9,600.7 357.5,597.6 351.2,594.6C344.9,591.7 335.6,590.2 333.4,585.7C331.2,581.3 339.0,573.8 337.8,567.9C336.7,562.0 327.2,554.3 326.7,550.1C326.2,545.9 334.3,545.4 335.0,543.0C335.7,540.6 332.7,538.1 331.0,536.0C329.3,533.9 325.0,533.2 325.0,530.6C325.0,528.0 330.7,523.5 331.0,520.6C331.3,517.8 327.6,516.6 326.6,513.5C325.6,510.4 325.5,505.3 325.0,502.0C324.5,498.7 325.2,496.4 323.8,493.6C322.4,490.8 319.1,487.4 316.7,485.0C314.3,482.6 310.6,481.2 309.6,479.0C308.7,476.8 311.3,475.2 311.0,472.0C310.7,468.8 308.7,463.5 308.0,459.5C307.3,455.5 307.7,451.8 306.8,448.0C305.9,444.2 304.2,440.3 302.5,436.8C300.8,433.3 298.2,430.6 296.8,427.0C295.4,423.4 294.2,419.3 294.0,415.5C293.8,411.7 294.0,407.6 295.4,404.0C296.8,400.4 300.1,398.0 302.5,394.0C304.9,390.0 308.0,385.3 309.6,380.0C311.2,374.7 310.4,368.5 312.0,362.0C313.6,355.5 315.7,348.2 319.0,341.0Z" fill="none" stroke="#696969" stroke-width="34" stroke-linecap="round" stroke-linejoin="round"/></g>
<g filter="url(#bl3_5)"><path d="M319.0,341.0C322.3,333.8 327.3,325.7 332.0,319.0C336.7,312.3 341.8,306.2 347.0,301.0C352.2,295.8 356.7,291.3 363.0,288.0C369.3,284.7 377.7,283.3 385.0,281.0C392.3,278.7 399.8,277.8 407.0,274.0C414.2,270.2 417.5,263.3 428.0,258.0C438.5,252.7 454.7,244.0 470.0,242.0C485.3,240.0 505.0,243.7 520.0,246.0C535.0,248.3 546.7,251.2 560.0,256.0C573.3,260.8 588.9,267.9 600.0,275.0C611.1,282.1 621.5,293.9 626.6,298.5C631.8,303.1 628.8,301.6 630.9,302.7C633.0,303.8 636.5,304.1 639.4,304.9C642.2,305.7 645.6,306.2 648.0,307.7C650.4,309.2 652.4,311.9 653.6,314.1C654.8,316.4 655.6,319.3 655.0,321.2C654.4,323.1 650.3,323.9 650.1,325.5C649.9,327.1 652.3,329.2 653.6,331.1C654.9,333.0 656.0,335.7 657.9,336.8C659.8,337.9 662.6,336.8 665.0,337.5C667.4,338.2 669.7,340.2 672.1,341.1C674.5,342.1 676.6,342.4 679.2,343.2C681.8,344.0 685.1,344.9 687.7,346.1C690.3,347.3 692.2,349.5 694.8,350.3C697.4,351.1 700.5,350.1 703.4,351.0C706.3,351.9 707.6,347.8 712.0,356.0C716.4,364.2 728.7,376.0 730.0,400.0C731.3,424.0 725.0,469.2 720.0,500.0C715.0,530.8 708.4,568.1 700.0,585.0C691.6,601.9 676.1,599.3 669.5,601.3C662.9,603.3 664.3,595.7 660.6,596.8C656.9,598.0 652.4,605.6 647.2,608.0C642.1,610.4 634.6,611.3 629.4,611.3C624.2,611.3 619.8,610.0 616.1,608.0C612.4,605.9 610.9,599.4 607.2,599.1C603.5,598.7 598.6,604.3 593.8,605.7C589.0,607.2 582.7,609.1 578.2,608.0C573.8,606.9 570.5,603.5 567.1,599.1C563.8,594.6 561.5,582.0 558.2,581.3C554.9,580.5 550.0,592.0 547.1,594.6C544.1,597.2 542.3,597.6 540.4,596.8C538.5,596.1 538.9,591.3 535.9,590.2C533.0,589.1 526.7,588.3 522.6,590.2C518.5,592.0 515.5,597.4 511.5,601.3C507.4,605.2 499.6,610.2 498.1,613.5C496.6,616.9 502.6,619.3 502.6,621.3C502.6,623.4 500.3,623.2 498.1,625.8C495.9,628.4 491.8,635.8 489.2,636.9C486.6,638.0 485.9,633.2 482.5,632.5C479.2,631.7 472.9,634.7 469.2,632.5C465.5,630.2 462.9,620.6 460.3,619.1C457.7,617.6 455.8,623.2 453.6,623.6C451.4,623.9 448.4,623.6 446.9,621.3C445.4,619.1 448.4,611.9 444.7,610.2C441.0,608.5 431.0,609.8 424.7,611.3C418.3,612.8 412.8,619.1 406.8,619.1C400.9,619.1 395.0,613.9 389.0,611.3C383.1,608.7 377.5,606.3 371.2,603.5C364.9,600.7 357.5,597.6 351.2,594.6C344.9,591.7 335.6,590.2 333.4,585.7C331.2,581.3 339.0,573.8 337.8,567.9C336.7,562.0 327.2,554.3 326.7,550.1C326.2,545.9 334.3,545.4 335.0,543.0C335.7,540.6 332.7,538.1 331.0,536.0C329.3,533.9 325.0,533.2 325.0,530.6C325.0,528.0 330.7,523.5 331.0,520.6C331.3,517.8 327.6,516.6 326.6,513.5C325.6,510.4 325.5,505.3 325.0,502.0C324.5,498.7 325.2,496.4 323.8,493.6C322.4,490.8 319.1,487.4 316.7,485.0C314.3,482.6 310.6,481.2 309.6,479.0C308.7,476.8 311.3,475.2 311.0,472.0C310.7,468.8 308.7,463.5 308.0,459.5C307.3,455.5 307.7,451.8 306.8,448.0C305.9,444.2 304.2,440.3 302.5,436.8C300.8,433.3 298.2,430.6 296.8,427.0C295.4,423.4 294.2,419.3 294.0,415.5C293.8,411.7 294.0,407.6 295.4,404.0C296.8,400.4 300.1,398.0 302.5,394.0C304.9,390.0 308.0,385.3 309.6,380.0C311.2,374.7 310.4,368.5 312.0,362.0C313.6,355.5 315.7,348.2 319.0,341.0Z" fill="#c6c6c6"/></g>
<g filter="url(#bl6)"><ellipse cx="468.0" cy="415.0" rx="146.0" ry="123.0" fill="#d9d9d9" transform="rotate(-4 468 415)"/><ellipse cx="640.0" cy="430.0" rx="45.0" ry="90.0" fill="#cccccc" transform="rotate(5 640 430)"/><ellipse cx="706.0" cy="298.0" rx="55.0" ry="48.0" fill="#686868" transform="rotate(20 706 298)"/><ellipse cx="690.0" cy="560.0" rx="30.0" ry="40.0" fill="#b9b9b9"/></g>
<g filter="url(#bl7)"><ellipse cx="484.0" cy="433.0" rx="91.0" ry="93.0" fill="#f4f4f4"/></g>
<g filter="url(#bl2_5)"><path d="M192.0,176.6 L198.5,166.8 L204.0,170.1 L207.3,175.5 L213.8,179.9 L211.7,186.5 L202.9,184.3 L194.1,185.4Z" fill="#9d9d9d" fill-opacity="0.9"/><path d="M218.2,179.9 L222.6,181.0 L225.9,189.8 L223.7,194.1 L219.3,189.8Z" fill="#9d9d9d" fill-opacity="0.9"/><path d="M198.5,229.2 L205.1,225.9 L218.2,227.0 L224.8,222.6 L229.2,227.0 L227.0,235.7 L231.4,240.1 L248.9,231.4 L262.0,227.0 L275.1,220.4 L286.1,213.8 L297.0,207.3 L310.2,202.9 L318.9,198.5 L314.6,209.5 L301.4,216.0 L292.7,222.6 L275.1,231.4 L262.0,240.1 L253.3,246.7 L240.1,251.1 L231.4,253.3 L224.8,262.0 L222.6,273.0 L231.4,275.1 L240.1,281.7 L237.9,290.5 L229.2,290.5 L222.6,286.1 L218.2,292.7 L222.6,303.6 L231.4,308.0 L227.0,318.9 L218.2,321.1 L222.6,329.9 L231.4,338.6 L229.2,347.4 L240.1,354.0 L253.3,361.6 L257.6,366.0 L248.9,368.2 L235.7,366.0 L227.0,371.5 L225.9,384.6 L228.1,395.6 L225.9,408.7 L219.3,406.5 L216.0,393.4 L209.5,384.6 L202.9,378.0 L194.1,382.4 L192.0,375.9 L198.5,369.3 L207.3,362.7 L206.2,351.8 L198.5,340.8 L202.9,332.1 L196.3,325.5 L202.9,314.6 L198.5,303.6 L205.1,297.0 L196.3,288.3 L190.9,286.1 L198.5,279.5 L202.9,268.6 L196.3,262.0 L202.9,253.3 L198.5,242.3Z" fill="#9d9d9d" fill-opacity="0.9"/><path d="M334.3,202.9 L333.2,196.3 L340.8,192.0 L351.8,187.6 L364.9,183.2 L363.8,186.5 L354.0,192.0 L343.0,197.4 L336.4,205.1Z" fill="#9d9d9d" fill-opacity="0.9"/><path d="M335.4,278.4 L340.8,275.1 L351.8,273.0 L362.7,262.0 L369.3,251.1 L366.0,240.1 L375.9,233.5 L391.2,231.4 L402.1,219.3 L410.9,213.8 L419.6,216.0 L424.0,222.6 L421.8,231.4 L415.3,240.1 L406.5,244.5 L410.9,251.1 L424.0,244.5 L428.4,253.3 L428.4,262.0 L406.5,266.4 L391.2,268.6 L382.4,275.1 L371.5,279.5 L360.5,286.1 L356.2,292.7 L343.0,290.5 L336.4,286.1Z" fill="#9d9d9d" fill-opacity="0.9"/><path d="M264.2,281.7 L268.6,276.2 L273.0,286.1 L270.8,297.0 L265.3,300.3 L262.0,292.7Z" fill="#9d9d9d" fill-opacity="0.9"/><path d="M290.5,313.5 L295.9,309.1 L298.1,318.9 L294.9,327.7 L290.5,323.3Z" fill="#9d9d9d" fill-opacity="0.9"/><path d="M310.2,204.0 L318.9,202.5 L315.6,209.5 L310.6,209.0Z" fill="#9d9d9d" fill-opacity="0.9"/><path d="M241.7,527.5 L246.2,516.2 L255.2,519.6 L261.9,525.2 L267.5,534.2 L272.0,543.2 L276.5,551.1 L268.7,549.9 L261.9,548.8 L257.4,543.2 L250.7,538.7 L243.9,536.5Z" fill="#9d9d9d" fill-opacity="0.9"/><path d="M275.4,469.0 L282.1,463.4 L293.4,466.7 L302.4,473.5 L311.4,480.2 L322.6,489.2 L327.1,500.5 L329.4,514.0 L322.6,518.5 L315.9,507.2 L309.1,498.2 L300.1,489.2 L291.1,482.5 L282.1,478.0Z" fill="#9d9d9d" fill-opacity="0.9"/><path d="M281.2,394.2 L284.0,393.5 L288.3,401.3 L287.6,407.0 L284.0,404.1Z" fill="#979797" fill-opacity="0.7"/><path d="M265.6,428.3 L270.5,429.7 L274.1,434.0 L278.4,431.1 L281.2,436.1 L285.5,438.2 L286.9,443.9 L282.6,444.6 L279.8,440.4 L275.5,439.7 L272.0,436.1 L267.0,432.6Z" fill="#979797" fill-opacity="0.7"/><path d="M271.2,453.9 L275.5,452.4 L279.8,456.0 L277.6,459.5 L272.7,458.8Z" fill="#979797" fill-opacity="0.7"/><path d="M333.0,586.0 L342.3,584.5 L353.6,588.8 L362.2,594.5 L365.0,597.3 L353.6,595.9 L342.3,593.1 L335.2,588.8Z" fill="#979797" fill-opacity="0.7"/><path d="M296.1,510.7 L300.4,509.3 L302.5,512.8 L298.2,514.9Z" fill="#979797" fill-opacity="0.7"/><path d="M303.2,514.9 L308.9,513.5 L311.0,518.5 L306.8,522.0 L303.2,519.9Z" fill="#979797" fill-opacity="0.7"/><path d="M328.1,490.1 L332.3,488.0 L335.2,492.2 L332.3,495.1 L328.8,493.6Z" fill="#979797" fill-opacity="0.7"/><path d="M350.1,519.9 L355.1,518.5 L357.9,522.0 L354.3,524.9 L350.8,523.5Z" fill="#979797" fill-opacity="0.7"/><path d="M202.9,231.4 L218.2,230.3 L222.6,240.1 L220.4,251.1 L209.5,257.6 L202.9,248.9Z" fill="#b7b7b7" fill-opacity="0.9"/><path d="M233.5,244.5 L248.9,235.7 L266.4,229.2 L281.7,221.5 L292.7,218.2 L288.3,223.7 L273.0,233.5 L257.6,242.3 L242.3,250.0Z" fill="#b7b7b7" fill-opacity="0.9"/><path d="M198.5,288.3 L213.8,286.1 L222.6,292.7 L218.2,297.0 L205.1,294.9Z" fill="#b7b7b7" fill-opacity="0.9"/><path d="M209.5,349.6 L222.6,347.4 L229.2,358.3 L235.7,362.7 L224.8,369.3 L221.5,384.6 L222.6,402.1 L218.2,404.3 L213.8,391.2 L209.5,373.7 L211.7,362.7Z" fill="#b7b7b7" fill-opacity="0.9"/><path d="M202.9,303.6 L213.8,305.8 L222.6,310.2 L216.0,316.7 L207.3,314.6Z" fill="#b7b7b7" fill-opacity="0.9"/><path d="M205.1,323.3 L218.2,325.5 L213.8,332.1 L207.3,329.9Z" fill="#b7b7b7" fill-opacity="0.9"/><path d="M366.0,242.3 L375.9,237.9 L389.0,240.1 L404.3,224.8 L415.3,220.4 L418.5,227.0 L410.9,235.7 L402.1,244.5 L391.2,253.3 L380.2,262.0 L369.3,266.4 L362.7,275.1 L354.0,277.3 L360.5,266.4 L367.1,255.4Z" fill="#b7b7b7" fill-opacity="0.9"/><path d="M194.1,178.8 L202.9,176.6 L209.5,181.0 L202.9,183.2Z" fill="#b7b7b7" fill-opacity="0.9"/><path d="M337.5,199.6 L347.4,193.0 L358.3,187.6 L351.8,193.0 L340.8,199.6Z" fill="#b7b7b7" fill-opacity="0.9"/><ellipse cx="369.0" cy="233.5" rx="10.0" ry="3.0" fill="#8e8e8e" fill-opacity="0.8" transform="rotate(-30 369 234)"/><ellipse cx="424.0" cy="128.5" rx="12.0" ry="3.0" fill="#848484" fill-opacity="0.8" transform="rotate(-35 424 128)"/><ellipse cx="406.5" cy="148.0" rx="12.0" ry="3.0" fill="#848484" fill-opacity="0.8" transform="rotate(-35 406 148)"/><ellipse cx="432.8" cy="122.0" rx="8.0" ry="3.0" fill="#848484" fill-opacity="0.8" transform="rotate(-35 433 122)"/><ellipse cx="428.4" cy="165.7" rx="10.0" ry="3.0" fill="#7b7b7b" fill-opacity="0.8" transform="rotate(-35 428 166)"/><ellipse cx="455.0" cy="140.0" rx="10.0" ry="3.0" fill="#7b7b7b" fill-opacity="0.8" transform="rotate(-35 455 140)"/><ellipse cx="300.0" cy="228.0" rx="6.0" ry="3.0" fill="#848484" fill-opacity="0.8" transform="rotate(-30 300 228)"/><ellipse cx="366.7" cy="548.8" rx="8.0" ry="8.0" fill="#c8c8c8" fill-opacity="0.8"/><ellipse cx="381.5" cy="572.5" rx="10.0" ry="8.0" fill="#cccccc" fill-opacity="0.8"/><ellipse cx="340.0" cy="587.0" rx="4.0" ry="3.0" fill="#bdbdbd" fill-opacity="0.8"/><ellipse cx="378.6" cy="602.0" rx="14.0" ry="7.0" fill="#cccccc" fill-opacity="0.8" transform="rotate(10 379 602)"/><ellipse cx="411.0" cy="603.6" rx="14.0" ry="9.0" fill="#cccccc" fill-opacity="0.8"/><ellipse cx="579.7" cy="581.4" rx="16.0" ry="24.0" fill="#cccccc" fill-opacity="0.8" transform="rotate(10 580 581)"/><ellipse cx="641.9" cy="568.0" rx="5.0" ry="4.0" fill="#d4d4d4" fill-opacity="0.8"/><ellipse cx="659.6" cy="572.5" rx="11.0" ry="24.0" fill="#cccccc" fill-opacity="0.8" transform="rotate(8 660 572)"/><ellipse cx="662.6" cy="510.0" rx="13.0" ry="34.0" fill="#cccccc" fill-opacity="0.8" transform="rotate(-12 663 510)"/><ellipse cx="582.7" cy="528.0" rx="7.0" ry="14.0" fill="#c8c8c8" fill-opacity="0.8" transform="rotate(15 583 528)"/><ellipse cx="636.0" cy="347.6" rx="10.0" ry="5.0" fill="#d0d0d0" fill-opacity="0.8" transform="rotate(15 636 348)"/><ellipse cx="634.5" cy="358.0" rx="6.0" ry="4.0" fill="#d0d0d0" fill-opacity="0.8"/><ellipse cx="633.0" cy="313.6" rx="18.0" ry="5.0" fill="#cccccc" fill-opacity="0.8" transform="rotate(10 633 314)"/><ellipse cx="461.4" cy="278.0" rx="8.0" ry="5.0" fill="#d0d0d0" fill-opacity="0.8"/><ellipse cx="511.7" cy="288.5" rx="3.0" ry="3.0" fill="#d0d0d0" fill-opacity="0.8"/><ellipse cx="335.7" cy="294.4" rx="3.0" ry="3.0" fill="#c6c6c6" fill-opacity="0.8"/><ellipse cx="328.0" cy="311.5" rx="3.0" ry="3.0" fill="#c6c6c6" fill-opacity="0.8"/><path d="M371.2,541.2C373.8,540.5 383.1,542.7 389.0,543.4C395.0,544.2 400.9,545.1 406.8,545.6C412.8,546.2 418.7,546.2 424.7,546.8C430.6,547.3 437.3,549.2 442.5,549.0C447.7,548.8 451.4,546.6 455.8,545.6C460.3,544.7 464.7,544.7 469.2,543.4C473.6,542.1 478.1,539.7 482.5,537.9C487.0,536.0 491.8,534.0 495.9,532.3C500.0,530.6 504.0,527.5 507.0,527.8C510.0,528.2 513.3,531.9 513.7,534.5C514.1,537.1 511.8,540.8 509.2,543.4C506.6,546.0 502.2,547.9 498.1,550.1C494.0,552.3 488.5,554.6 484.8,556.8C481.0,559.0 479.2,560.5 475.8,563.5C472.5,566.4 468.1,570.9 464.7,574.6C461.4,578.3 458.0,583.5 455.8,585.7C453.6,587.9 451.4,589.4 451.4,587.9C451.4,586.5 453.6,580.5 455.8,576.8C458.0,573.1 464.7,567.9 464.7,565.7C464.7,563.5 458.8,563.6 455.8,563.5C452.8,563.3 450.6,564.8 446.9,564.6C443.2,564.4 438.7,562.9 433.6,562.3C428.4,561.8 421.7,562.2 415.7,561.2C409.8,560.3 403.1,558.4 397.9,556.8C392.7,555.1 388.7,552.7 384.6,551.2C380.5,549.7 375.7,549.5 373.5,547.9C371.2,546.2 368.6,541.9 371.2,541.2Z" fill="#a5a5a5" fill-opacity="0.9"/><path d="M533.7,514.5C532.1,516.7 530.4,523.4 529.3,527.8C528.2,532.3 526.3,536.7 527.0,541.2C527.8,545.6 531.5,551.6 533.7,554.6C535.9,557.5 538.5,560.1 540.4,559.0C542.3,557.9 544.5,552.0 544.9,547.9C545.2,543.8 543.2,538.6 542.6,534.5C542.1,530.4 542.1,526.7 541.5,523.4C541.0,520.1 540.6,516.0 539.3,514.5C538.0,513.0 535.4,512.3 533.7,514.5Z" fill="#a0a0a0" fill-opacity="0.9"/><path d="M455.8,601.3C456.2,604.3 461.0,608.2 464.7,610.2C468.4,612.2 473.3,613.4 478.1,613.5C482.9,613.7 488.8,613.4 493.7,611.3C498.5,609.3 504.0,605.2 507.0,601.3C510.0,597.4 509.2,591.7 511.5,587.9C513.7,584.2 517.4,583.1 520.4,579.0C523.3,575.0 528.2,567.5 529.3,563.5C530.4,559.4 528.9,555.7 527.0,554.6C525.2,553.4 521.5,555.3 518.1,556.8C514.8,558.3 510.7,562.0 507.0,563.5C503.3,564.9 500.0,563.8 495.9,565.7C491.8,567.5 486.2,571.6 482.5,574.6C478.8,577.6 477.0,580.5 473.6,583.5C470.3,586.5 465.5,589.4 462.5,592.4C459.5,595.4 455.4,598.3 455.8,601.3Z" fill="#d0d0d0" fill-opacity="0.8"/><path d="M597.2,643.6C597.5,640.3 600.3,635.4 602.7,632.5C605.1,629.5 609.4,626.2 611.6,625.8C613.9,625.4 616.1,627.3 616.1,630.2C616.1,633.2 613.1,639.7 611.6,643.6C610.1,647.5 609.0,652.1 607.2,653.6C605.3,655.1 602.2,654.2 600.5,652.5C598.8,650.8 596.8,646.9 597.2,643.6Z" fill="#9d9d9d" fill-opacity="0.85"/><path d="M645.0,641.4C644.5,639.1 645.0,633.2 646.1,630.2C647.2,627.3 650.4,623.6 651.7,623.6C653.0,623.6 654.3,626.9 653.9,630.2C653.6,633.6 651.0,641.7 649.5,643.6C648.0,645.4 645.6,643.6 645.0,641.4Z" fill="#9d9d9d" fill-opacity="0.85"/><path d="M523.7,612.4C523.0,611.1 527.6,604.6 529.3,604.6C530.9,604.7 534.7,611.6 533.7,612.9C532.8,614.2 524.4,613.8 523.7,612.4Z" fill="#9d9d9d" fill-opacity="0.85"/></g></g><g filter="url(#bl1_5)"><ellipse cx="454.5" cy="457.5" rx="6.0" ry="6.5" fill="#505050"/></g></g>
<rect x="430.9" y="428.9" width="73" height="73" fill="#ff0000" fill-opacity="0.41"/><path d="M191.3,177.3 L194.0,172.5 L196.1,169.0 L198.8,167.3 L203.3,169.2 L207.9,175.4 L211.4,176.8 L213.7,180.3 L211.2,187.3 L208.4,184.9 L202.0,184.4 L198.9,185.0 L193.6,185.2 L191.2,181.2Z" fill="none" stroke="#fde725" stroke-width="2.5" stroke-linejoin="round"/>
<path d="M219.0,180.7 L221.8,180.3 L225.3,185.6 L226.2,189.4 L223.9,194.3 L219.5,189.1 L218.1,184.3Z" fill="none" stroke="#fde725" stroke-width="2.5" stroke-linejoin="round"/>
<path d="M198.0,229.3 L200.7,226.8 L205.3,225.1 L208.3,226.7 L213.7,226.4 L219.1,226.9 L222.7,224.5 L225.0,222.0 L229.4,227.6 L228.1,231.8 L227.3,235.0 L231.8,240.3 L233.7,238.3 L238.3,237.3 L241.9,235.9 L245.8,233.8 L248.7,231.9 L253.5,230.4 L258.5,227.7 L261.4,226.5 L266.2,225.4 L268.9,223.5 L272.0,221.9 L274.9,220.6 L279.1,219.0 L282.9,216.8 L286.7,214.7 L290.0,211.0 L293.9,210.1 L297.8,207.4 L301.8,205.1 L306.6,204.4 L309.8,202.1 L316.3,200.6 L318.2,199.1 L318.6,200.6 L316.8,206.1 L315.2,208.6 L312.0,210.6 L308.7,212.7 L305.3,215.4 L301.4,216.9 L298.2,217.4 L296.2,219.4 L292.1,222.4 L289.8,223.6 L285.3,226.6 L281.9,228.6 L279.2,229.4 L275.1,231.4 L271.7,233.8 L268.1,236.1 L265.7,238.1 L261.9,240.5 L258.5,242.2 L257.2,244.8 L253.3,245.8 L248.9,248.5 L243.5,250.1 L240.4,250.3 L235.6,251.8 L231.7,253.0 L229.2,256.0 L225.7,257.9 L225.1,262.8 L222.9,265.7 L222.5,269.6 L222.4,272.6 L226.1,274.5 L231.0,274.9 L235.2,276.1 L238.1,279.6 L239.8,281.2 L240.7,286.0 L237.4,290.4 L234.2,290.6 L228.9,290.2 L226.2,287.8 L223.2,285.5 L219.4,288.7 L218.9,292.6 L218.4,295.5 L220.5,299.7 L223.2,304.2 L227.0,305.4 L231.9,308.2 L231.6,311.2 L228.6,315.3 L227.5,318.5 L221.8,320.0 L218.1,321.0 L220.1,324.5 L221.7,330.7 L226.3,333.7 L229.0,336.5 L232.1,338.1 L230.6,343.8 L229.5,347.4 L231.4,349.4 L235.3,351.0 L240.3,353.6 L244.0,355.1 L247.8,358.3 L251.3,360.6 L254.0,361.8 L256.8,366.4 L253.8,367.1 L249.2,368.2 L244.5,368.3 L240.2,366.0 L235.3,366.7 L230.6,368.3 L226.7,370.9 L226.0,375.9 L225.1,380.6 L226.6,385.2 L227.1,387.5 L227.8,392.5 L227.3,395.1 L227.4,400.4 L227.0,405.3 L226.4,407.8 L218.5,405.8 L217.4,402.0 L218.1,398.5 L215.3,393.4 L213.8,389.7 L211.5,387.5 L209.6,384.4 L205.8,380.2 L202.2,378.1 L198.6,380.0 L193.4,381.8 L191.7,376.0 L195.1,372.4 L199.1,369.5 L201.5,367.0 L205.0,365.6 L207.1,363.1 L207.8,358.9 L207.5,355.9 L205.4,351.6 L203.5,348.7 L201.2,344.1 L199.2,341.4 L200.2,336.1 L202.2,332.6 L199.8,329.6 L196.9,325.8 L198.4,322.3 L200.3,318.5 L202.0,313.9 L202.3,309.9 L198.8,306.2 L199.2,303.0 L201.2,300.8 L204.4,297.7 L203.5,294.6 L200.4,290.9 L196.9,287.4 L191.3,286.1 L194.5,282.6 L199.0,280.3 L199.8,275.7 L202.5,272.7 L202.4,268.0 L199.0,265.4 L196.8,261.8 L197.7,259.1 L200.8,256.3 L202.1,253.3 L202.9,249.7 L200.5,245.6 L198.9,242.8 L198.3,237.8 L197.8,233.2Z" fill="none" stroke="#fde725" stroke-width="2.5" stroke-linejoin="round"/>
<path d="M333.8,202.2 L333.0,195.7 L335.5,193.8 L341.6,192.5 L344.6,190.0 L347.9,188.6 L351.2,186.9 L356.0,186.6 L362.1,184.6 L365.5,182.6 L363.5,186.7 L361.6,188.8 L358.3,189.3 L354.2,192.3 L350.2,193.1 L346.3,194.7 L343.8,198.1 L339.3,201.4 L337.2,205.2Z" fill="none" stroke="#fde725" stroke-width="2.5" stroke-linejoin="round"/>
<path d="M335.6,278.9 L341.4,275.9 L344.5,275.4 L347.1,274.2 L352.6,273.2 L355.3,270.1 L357.5,267.6 L360.4,265.1 L361.8,261.5 L365.2,259.1 L368.5,254.1 L369.8,250.4 L368.6,246.6 L365.6,244.1 L365.5,239.6 L369.0,238.1 L371.3,236.1 L375.9,233.9 L378.9,233.7 L383.8,233.6 L388.2,232.1 L390.9,230.8 L393.6,228.1 L396.7,225.7 L398.8,222.4 L401.8,219.0 L407.2,215.7 L410.6,213.8 L415.9,213.4 L420.5,215.2 L423.0,219.5 L423.2,223.1 L423.4,227.0 L420.9,230.5 L419.5,235.3 L417.2,238.0 L416.0,240.9 L409.9,242.2 L406.6,245.0 L406.6,248.9 L411.4,251.7 L412.9,250.8 L416.7,247.4 L421.3,246.1 L423.7,245.3 L427.1,247.6 L428.1,252.7 L429.3,257.3 L428.7,262.9 L425.3,262.2 L423.4,263.9 L418.2,264.1 L414.3,265.8 L409.9,265.7 L405.7,267.1 L401.2,267.0 L398.6,266.7 L394.8,268.6 L391.4,269.1 L387.1,270.4 L384.6,273.6 L382.1,275.1 L379.8,277.3 L376.1,277.9 L371.5,279.9 L367.5,281.2 L363.5,283.2 L360.3,287.0 L359.3,290.2 L356.2,292.4 L351.4,292.3 L347.7,292.3 L342.8,291.0 L339.5,289.0 L336.7,286.6 L334.9,282.6Z" fill="none" stroke="#fde725" stroke-width="2.5" stroke-linejoin="round"/>
<path d="M264.7,282.3 L266.2,277.2 L267.7,276.5 L270.2,278.8 L271.8,282.6 L272.5,286.6 L273.2,289.8 L272.1,294.2 L270.2,297.1 L265.8,299.9 L263.7,297.7 L262.6,292.4 L261.5,289.6 L263.7,285.0Z" fill="none" stroke="#fde725" stroke-width="2.5" stroke-linejoin="round"/>
<path d="M290.2,312.8 L293.3,309.3 L296.0,308.8 L296.8,313.2 L297.3,318.8 L296.1,323.5 L294.7,328.3 L289.8,322.8 L290.1,319.2Z" fill="none" stroke="#fde725" stroke-width="2.5" stroke-linejoin="round"/>
<path d="M309.7,204.8 L314.1,202.8 L318.2,202.0 L319.1,205.4 L315.9,209.4 L310.5,209.0Z" fill="none" stroke="#fde725" stroke-width="2.5" stroke-linejoin="round"/>
<path d="M241.6,527.2 L241.9,524.0 L243.2,519.0 L246.9,515.5 L250.6,517.1 L254.3,519.4 L259.1,522.0 L262.3,524.6 L263.4,527.3 L265.8,531.8 L267.7,534.7 L269.6,539.2 L271.3,542.8 L275.4,548.2 L276.4,550.3 L272.9,550.6 L268.3,550.5 L261.4,549.5 L260.3,545.4 L257.2,543.2 L253.3,540.6 L251.4,538.0 L247.2,537.2 L244.1,537.2 L241.6,531.6Z" fill="none" stroke="#fde725" stroke-width="2.5" stroke-linejoin="round"/>
<path d="M275.5,468.9 L277.8,464.9 L282.7,464.0 L285.9,463.1 L289.7,464.7 L292.9,467.6 L297.4,467.9 L300.1,471.3 L302.2,473.1 L305.6,475.6 L308.5,478.1 L310.7,480.7 L315.1,483.1 L317.5,483.6 L319.3,486.1 L323.4,488.9 L324.5,493.4 L325.7,496.6 L327.0,499.7 L328.5,505.8 L328.7,509.6 L329.2,513.1 L326.6,518.3 L322.9,518.5 L321.0,515.2 L318.2,511.2 L316.1,506.5 L314.2,503.3 L310.9,501.7 L309.9,498.1 L306.1,494.7 L302.8,492.3 L299.6,488.5 L297.1,486.1 L294.4,485.1 L291.6,482.5 L286.2,480.3 L281.3,478.4 L278.9,474.9 L275.8,471.8Z" fill="none" stroke="#fde725" stroke-width="2.5" stroke-linejoin="round"/>
<path d="M281.1,394.3 L284.5,393.5 L286.4,397.1 L288.0,401.3 L287.7,407.3 L283.6,404.0 L282.4,401.3 L281.9,396.6Z" fill="none" stroke="#fde725" stroke-width="2.5" stroke-linejoin="round"/>
<path d="M265.5,428.5 L270.7,429.4 L273.6,433.9 L278.1,431.4 L281.4,436.2 L285.5,438.4 L286.5,443.9 L282.3,445.0 L279.3,440.7 L275.1,439.8 L271.8,436.0 L269.7,433.9 L266.5,433.0Z" fill="none" stroke="#fde725" stroke-width="2.5" stroke-linejoin="round"/>
<path d="M271.0,454.0 L275.7,452.8 L279.5,455.7 L277.3,459.3 L272.9,458.5Z" fill="none" stroke="#fde725" stroke-width="2.5" stroke-linejoin="round"/>
<path d="M332.6,586.2 L335.3,585.6 L338.4,584.3 L342.5,584.7 L344.8,585.4 L347.9,586.5 L350.6,587.2 L354.0,588.7 L356.7,591.0 L360.0,592.4 L362.2,594.7 L364.7,597.5 L361.9,597.1 L357.5,596.4 L354.1,595.8 L350.2,595.1 L345.9,594.5 L342.5,592.7 L338.2,591.1 L334.9,588.4Z" fill="none" stroke="#fde725" stroke-width="2.5" stroke-linejoin="round"/>
<path d="M296.6,510.2 L300.6,508.9 L303.0,512.3 L298.6,515.1Z" fill="none" stroke="#fde725" stroke-width="2.5" stroke-linejoin="round"/>
<path d="M303.1,514.9 L308.8,513.5 L310.9,518.7 L306.5,522.2 L302.7,519.7Z" fill="none" stroke="#fde725" stroke-width="2.5" stroke-linejoin="round"/>
<path d="M328.1,490.4 L332.8,487.7 L335.4,492.4 L332.5,494.7 L328.3,493.5Z" fill="none" stroke="#fde725" stroke-width="2.5" stroke-linejoin="round"/>
<path d="M349.8,520.1 L354.9,518.2 L357.9,522.0 L354.3,524.8 L350.6,523.2Z" fill="none" stroke="#fde725" stroke-width="2.5" stroke-linejoin="round"/>
<path d="M203.1,231.8 L205.9,229.7 L210.1,229.8 L214.5,228.9 L217.9,229.9 L220.5,232.4 L221.5,236.1 L222.3,240.2 L222.3,243.2 L221.6,247.8 L220.3,251.4 L217.7,254.0 L212.6,257.1 L209.8,257.5 L206.9,255.9 L205.0,253.5 L203.3,249.5 L201.9,245.7 L202.0,242.1 L201.3,237.1 L202.0,233.4Z" fill="none" stroke="#7ad151" stroke-width="2.5" stroke-linejoin="round"/>
<path d="M234.1,244.8 L235.4,243.5 L237.5,241.3 L242.0,239.8 L245.4,236.9 L248.8,236.4 L251.7,234.0 L256.5,232.9 L259.0,231.5 L263.6,230.3 L266.3,229.3 L270.9,227.2 L273.9,225.2 L277.6,222.6 L281.3,221.8 L286.0,220.0 L289.8,218.0 L292.0,218.5 L292.6,219.7 L287.9,223.0 L286.1,225.1 L282.4,227.6 L279.8,229.4 L275.7,231.8 L273.0,233.5 L269.4,236.0 L267.3,237.4 L264.5,239.0 L260.5,240.1 L257.8,242.3 L253.6,245.3 L250.0,246.5 L246.2,248.3 L242.5,249.7 L236.3,248.9Z" fill="none" stroke="#7ad151" stroke-width="2.5" stroke-linejoin="round"/>
<path d="M198.1,288.5 L201.2,287.2 L204.8,286.8 L210.4,285.9 L213.9,285.7 L217.0,287.5 L221.0,289.7 L223.0,292.3 L217.8,296.4 L214.9,297.3 L209.8,296.3 L204.4,294.6 L200.0,291.0Z" fill="none" stroke="#7ad151" stroke-width="2.5" stroke-linejoin="round"/>
<path d="M210.1,349.1 L212.3,348.3 L217.7,346.2 L222.8,347.2 L225.8,349.9 L227.9,354.4 L229.3,358.9 L233.8,361.4 L236.0,362.1 L233.6,364.5 L228.3,365.9 L225.3,369.4 L223.9,372.8 L223.0,376.4 L222.1,380.6 L221.2,385.3 L221.3,388.6 L222.5,392.4 L221.8,396.6 L222.9,399.1 L222.0,402.2 L217.6,404.9 L216.8,401.3 L215.2,396.7 L214.4,390.9 L212.7,388.0 L211.5,384.3 L210.8,380.3 L210.2,376.9 L208.9,374.4 L209.7,369.5 L210.9,366.9 L212.3,362.7 L210.5,357.5 L209.8,352.8Z" fill="none" stroke="#7ad151" stroke-width="2.5" stroke-linejoin="round"/>
<path d="M203.5,304.2 L206.0,302.7 L209.9,304.3 L213.9,305.3 L218.9,307.6 L222.2,310.1 L219.7,313.3 L216.3,316.6 L211.5,317.1 L207.1,313.9 L205.3,311.2 L203.3,306.8Z" fill="none" stroke="#7ad151" stroke-width="2.5" stroke-linejoin="round"/>
<path d="M205.4,323.8 L208.5,323.9 L214.1,324.4 L217.7,325.9 L216.8,329.3 L214.2,332.4 L207.2,330.4Z" fill="none" stroke="#7ad151" stroke-width="2.5" stroke-linejoin="round"/>
<path d="M365.8,242.9 L368.8,239.6 L372.4,238.8 L375.2,238.6 L379.6,238.5 L384.2,240.6 L388.5,240.4 L391.9,238.5 L394.5,236.1 L397.2,232.4 L399.3,229.7 L401.4,227.6 L404.5,224.2 L408.7,222.0 L411.9,220.2 L415.2,219.8 L418.2,222.9 L418.0,227.5 L416.2,229.3 L414.4,232.3 L410.8,235.8 L408.0,238.6 L405.3,241.6 L401.5,244.9 L399.2,246.1 L396.7,249.3 L394.1,251.0 L391.2,252.9 L388.6,255.3 L385.1,257.4 L382.4,260.4 L380.8,262.4 L376.0,263.1 L373.2,264.6 L368.8,266.5 L367.0,269.3 L364.8,272.3 L362.7,275.1 L357.8,277.4 L353.8,278.0 L354.5,275.0 L357.7,271.0 L360.8,266.5 L363.2,262.4 L364.8,259.6 L366.8,254.9 L367.3,251.0 L365.2,246.1Z" fill="none" stroke="#7ad151" stroke-width="2.5" stroke-linejoin="round"/>
<path d="M194.5,178.4 L197.1,177.3 L202.3,177.0 L207.5,177.9 L209.7,181.0 L203.1,183.8 L198.2,181.2Z" fill="none" stroke="#7ad151" stroke-width="2.5" stroke-linejoin="round"/>
<path d="M337.8,199.9 L340.5,197.4 L342.9,195.9 L347.2,192.9 L352.1,190.3 L356.5,188.5 L357.7,188.2 L356.5,189.0 L352.2,193.4 L348.5,195.6 L344.8,197.2 L341.5,199.8Z" fill="none" stroke="#7ad151" stroke-width="2.5" stroke-linejoin="round"/>
<ellipse cx="218.2" cy="199.6" rx="3.3" ry="3.3" fill="#fde725" transform="rotate(0 218.2 199.6)"/>
<path d="M247.6,337.4 L246.5,339.9 L243.7,341.3 L242.0,339.3 L241.5,335.9 L243.7,334.2 L246.7,334.7Z" fill="none" stroke="#fde725" stroke-width="2.5" stroke-linejoin="round"/>
<path d="M290.5,390.3 L288.3,394.6 L286.5,394.3 L285.1,392.4 L286.9,387.4 L288.8,385.2 L290.0,385.5Z" fill="none" stroke="#fde725" stroke-width="2.5" stroke-linejoin="round"/>
<ellipse cx="278.5" cy="391.0" rx="2.8" ry="2.8" fill="#fde725" transform="rotate(0 278.5 391.0)"/>
<ellipse cx="285.0" cy="311.0" rx="2.3" ry="3.8" fill="#fde725" transform="rotate(0 285.0 311.0)"/>
<path d="M383.6,171.5 L382.4,174.7 L380.3,176.1 L379.9,172.2 L380.1,168.7 L381.9,166.2 L383.7,167.1Z" fill="none" stroke="#fde725" stroke-width="2.5" stroke-linejoin="round"/>
<ellipse cx="388.8" cy="184.2" rx="3.3" ry="3.3" fill="#fde725" transform="rotate(0 388.8 184.2)"/>
<path d="M426.9,178.8 L426.7,181.3 L423.4,183.0 L420.5,182.4 L420.7,180.2 L421.4,177.3 L425.1,177.2Z" fill="none" stroke="#fde725" stroke-width="2.5" stroke-linejoin="round"/>
<path d="M402.2,149.8 L403.1,151.7 L400.1,153.8 L396.4,153.9 L395.7,152.1 L397.5,149.5 L400.4,149.2Z" fill="none" stroke="#fde725" stroke-width="2.5" stroke-linejoin="round"/>
<ellipse cx="414.0" cy="140.5" rx="2.8" ry="2.3" fill="#fde725" transform="rotate(0 414.0 140.5)"/>
<path d="M427.5,126.9 L426.7,129.5 L423.7,132.8 L420.6,132.5 L418.2,131.7 L420.7,128.9 L424.5,126.8Z" fill="none" stroke="#fde725" stroke-width="2.5" stroke-linejoin="round"/>
<ellipse cx="367.0" cy="193.0" rx="3.8" ry="2.8" fill="#fde725" transform="rotate(0 367.0 193.0)"/>
<ellipse cx="318.0" cy="214.0" rx="3.3" ry="2.8" fill="#fde725" transform="rotate(0 318.0 214.0)"/>
<ellipse cx="341.0" cy="213.0" rx="2.8" ry="2.8" fill="#fde725" transform="rotate(0 341.0 213.0)"/>
<ellipse cx="334.6" cy="224.0" rx="2.8" ry="2.8" fill="#fde725" transform="rotate(0 334.6 224.0)"/>
<ellipse cx="335.0" cy="239.0" rx="2.8" ry="3.8" fill="#fde725" transform="rotate(0 335.0 239.0)"/>
<path d="M287.5,396.5 L289.4,401.7 L287.4,404.8 L283.7,400.6 L281.4,396.3 L282.6,393.2 L284.4,392.8Z" fill="none" stroke="#fde725" stroke-width="2.5" stroke-linejoin="round"/>
<path d="M296.8,422.8 L297.7,427.4 L298.5,432.0 L298.8,435.7 L295.1,437.5 L290.0,431.8 L288.8,428.1 L288.3,423.0 L287.8,419.3 L288.0,411.6 L292.4,412.0 L293.6,414.3 L295.8,418.9Z" fill="none" stroke="#fde725" stroke-width="2.5" stroke-linejoin="round"/>
<path d="M289.6,439.1 L286.1,440.9 L280.5,440.9 L275.5,440.6 L269.7,438.3 L264.5,435.8 L261.5,431.9 L266.4,428.3 L270.2,427.7 L274.0,427.8 L279.6,429.1 L284.5,432.0 L288.3,436.0Z" fill="none" stroke="#fde725" stroke-width="2.5" stroke-linejoin="round"/>
<path d="M290.9,458.9 L290.1,462.9 L287.8,466.5 L283.4,468.3 L279.1,468.2 L275.8,466.8 L273.3,463.1 L272.5,459.1 L272.7,454.4 L275.6,451.3 L279.9,449.3 L286.6,452.9Z" fill="none" stroke="#fde725" stroke-width="2.5" stroke-linejoin="round"/>
<path d="M210.6,466.7 L206.7,473.4 L202.0,477.1 L200.6,474.0 L200.2,469.8 L199.2,464.2 L199.9,459.4 L205.8,456.4 L210.2,456.9 L210.7,461.7Z" fill="none" stroke="#fde725" stroke-width="2.5" stroke-linejoin="round"/>
<path d="M301.5,513.3 L300.8,515.9 L298.4,515.5 L295.1,515.0 L295.6,512.3 L298.5,511.1 L301.0,511.6Z" fill="none" stroke="#fde725" stroke-width="2.5" stroke-linejoin="round"/>
<path d="M311.5,517.8 L309.8,520.6 L306.5,522.5 L304.0,519.4 L304.1,516.0 L306.1,513.6 L309.9,515.3Z" fill="none" stroke="#fde725" stroke-width="2.5" stroke-linejoin="round"/>
<path d="M334.3,492.0 L333.2,495.4 L330.0,495.4 L327.2,493.9 L328.2,490.7 L330.1,488.1 L334.0,488.2Z" fill="none" stroke="#fde725" stroke-width="2.5" stroke-linejoin="round"/>
<path d="M346.1,508.6 L343.4,510.9 L341.0,512.1 L338.7,510.0 L338.1,507.4 L340.5,506.1 L344.2,505.8Z" fill="none" stroke="#fde725" stroke-width="2.5" stroke-linejoin="round"/>
<path d="M324.3,523.3 L322.9,527.3 L319.5,527.3 L316.2,525.3 L316.0,520.3 L318.8,519.0 L322.9,518.9Z" fill="none" stroke="#fde725" stroke-width="2.5" stroke-linejoin="round"/>
<ellipse cx="290.7" cy="563.0" rx="2.8" ry="2.8" fill="#fde725" transform="rotate(0 290.7 563.0)"/>
<ellipse cx="298.3" cy="569.7" rx="2.8" ry="2.8" fill="#fde725" transform="rotate(0 298.3 569.7)"/>
<ellipse cx="304.2" cy="533.0" rx="2.3" ry="2.8" fill="#fde725" transform="rotate(0 304.2 533.0)"/>
<ellipse cx="321.5" cy="536.5" rx="2.8" ry="2.8" fill="#fde725" transform="rotate(0 321.5 536.5)"/>
<ellipse cx="304.6" cy="532.7" rx="2.8" ry="2.8" fill="#fde725" transform="rotate(0 304.6 532.7)"/>
<ellipse cx="321.7" cy="536.2" rx="3.3" ry="2.6" fill="#fde725" transform="rotate(0 321.7 536.2)"/>
<ellipse cx="290.7" cy="562.5" rx="3.1" ry="2.8" fill="#fde725" transform="rotate(0 290.7 562.5)"/>
<ellipse cx="298.5" cy="569.2" rx="2.6" ry="2.8" fill="#fde725" transform="rotate(0 298.5 569.2)"/>
<ellipse cx="336.9" cy="574.3" rx="3.3" ry="3.3" fill="#fde725" transform="rotate(0 336.9 574.3)"/>
<ellipse cx="343.3" cy="528.9" rx="3.3" ry="2.8" fill="#fde725" transform="rotate(0 343.3 528.9)"/>
<ellipse cx="362.9" cy="528.9" rx="2.3" ry="2.0" fill="#fde725" transform="rotate(0 362.9 528.9)"/>
<ellipse cx="274.1" cy="402.0" rx="2.3" ry="2.3" fill="#fde725" transform="rotate(0 274.1 402.0)"/>
<path d="M278.2,412.6 L277.9,415.3 L276.3,416.0 L275.2,414.3 L275.7,411.3 L276.4,408.4 L278.4,409.5Z" fill="none" stroke="#fde725" stroke-width="2.5" stroke-linejoin="round"/>
<ellipse cx="281.2" cy="387.1" rx="2.6" ry="3.3" fill="#fde725" transform="rotate(0 281.2 387.1)"/>
<ellipse cx="496.5" cy="708.8" rx="3.8" ry="3.0" fill="#fde725" transform="rotate(20 496.5 708.8)"/>
<ellipse cx="628.0" cy="745.7" rx="3.4" ry="3.2" fill="#fde725" transform="rotate(0 628.0 745.7)"/>
<ellipse cx="639.4" cy="743.8" rx="3.6" ry="2.8" fill="#fde725" transform="rotate(-20 639.4 743.8)"/>
<ellipse cx="645.0" cy="735.3" rx="2.8" ry="3.8" fill="#fde725" transform="rotate(30 645.0 735.3)"/>
<path d="M376.2,229.1 L377.9,231.5 L374.8,234.3 L371.4,237.4 L364.0,239.7 L359.5,238.9 L361.3,235.3 L367.3,229.8 L371.6,228.1 L375.3,226.5Z" fill="none" stroke="#fde725" stroke-width="2.5" stroke-linejoin="round"/>
<path d="M433.4,121.8 L433.0,125.2 L430.1,128.3 L426.1,131.1 L421.4,133.6 L418.3,135.1 L412.8,136.1 L415.2,131.6 L418.6,129.1 L422.1,125.3 L426.3,124.0 L429.3,122.5Z" fill="none" stroke="#fde725" stroke-width="2.5" stroke-linejoin="round"/>
<path d="M419.3,139.4 L415.0,144.3 L411.8,148.1 L408.7,150.2 L401.3,154.0 L397.3,154.8 L395.8,151.8 L398.9,148.2 L403.7,145.0 L408.2,143.1 L412.1,140.9Z" fill="none" stroke="#fde725" stroke-width="2.5" stroke-linejoin="round"/>
<path d="M440.0,116.9 L438.7,120.7 L434.6,124.5 L428.5,128.6 L425.3,127.8 L425.5,124.2 L430.6,118.7 L436.6,115.9Z" fill="none" stroke="#fde725" stroke-width="2.5" stroke-linejoin="round"/>
<path d="M436.7,160.3 L437.4,162.5 L434.3,165.1 L429.9,168.6 L423.9,171.1 L420.1,171.5 L421.9,167.3 L426.8,163.2 L430.6,160.8 L434.4,158.0Z" fill="none" stroke="#fde725" stroke-width="2.5" stroke-linejoin="round"/>
<path d="M465.6,132.7 L461.9,138.1 L456.3,142.5 L452.9,145.5 L448.9,147.6 L447.5,145.7 L446.7,143.0 L452.5,137.4 L456.6,135.2 L459.8,133.0Z" fill="none" stroke="#fde725" stroke-width="2.5" stroke-linejoin="round"/>
<path d="M307.3,223.5 L305.1,228.0 L301.8,231.5 L296.1,232.7 L294.8,231.5 L294.3,228.6 L298.5,225.6 L303.0,223.8Z" fill="none" stroke="#fde725" stroke-width="2.5" stroke-linejoin="round"/>
<path d="M469.9,278.1 L469.0,281.8 L464.9,284.8 L458.9,284.5 L453.3,281.9 L451.2,279.0 L453.7,274.5 L457.4,272.2 L464.6,272.4 L467.9,274.7Z" fill="none" stroke="#22a884" stroke-width="2.5" stroke-linejoin="round"/>
<path d="M517.3,288.5 L515.1,290.6 L512.2,292.1 L509.9,291.3 L508.3,289.5 L508.1,287.7 L509.2,286.2 L511.5,285.6 L513.3,285.6 L514.8,287.5Z" fill="none" stroke="#22a884" stroke-width="2.5" stroke-linejoin="round"/>
<path d="M339.9,293.6 L338.0,296.2 L335.9,297.8 L335.4,297.9 L333.8,297.2 L330.7,293.4 L331.7,292.5 L334.4,291.3 L337.5,289.1 L339.5,291.9Z" fill="none" stroke="#22a884" stroke-width="2.5" stroke-linejoin="round"/>
<path d="M333.0,311.5 L332.2,313.9 L330.4,315.4 L326.7,314.6 L323.2,313.5 L324.2,310.9 L324.9,309.2 L326.3,308.6 L328.7,309.0 L330.4,308.9Z" fill="none" stroke="#22a884" stroke-width="2.5" stroke-linejoin="round"/>
<path d="M334.2,542.4 L333.2,540.1 L330.4,535.4 L326.9,533.9 L324.4,531.0 L326.8,526.9 L329.4,523.8 L330.9,521.4 L328.6,516.4 L327.3,513.3 L325.4,509.6 L325.2,506.5 L324.5,501.5 L324.9,497.7 L324.5,494.1 L321.6,490.2 L319.8,488.5 L315.9,485.4 L313.2,482.1 L309.1,479.5 L310.4,475.4 L311.2,471.6 L309.5,467.9 L308.8,463.6 L308.2,460.0 L308.3,456.3 L308.2,452.2 L306.5,447.5 L305.8,444.3 L304.4,439.8 L302.0,437.5 L300.8,433.8 L297.9,430.2 L297.5,427.2 L296.3,422.8 L294.4,419.9 L293.9,416.0 L294.0,411.0 L293.7,408.5 L294.8,403.5 L297.1,401.0 L300.5,397.5 L302.5,394.5 L304.0,390.7 L306.5,387.7 L307.4,383.3 L309.0,380.4 L310.7,377.5 L311.3,372.9 L311.7,370.4 L311.3,365.1 L311.8,361.7 L311.9,357.6 L312.3,354.8 L312.7,350.2 L313.4,345.5 L314.8,342.3 L314.6,340.2" fill="none" stroke="#fde725" stroke-width="2.5" stroke-linejoin="round"/>
<path d="M668.7,600.7 L665.5,599.2 L660.6,597.3 L656.9,598.7 L655.2,602.0 L651.9,606.1 L647.0,607.0 L644.4,608.5 L639.2,610.7 L637.1,611.5 L633.7,610.6 L628.6,610.6 L625.4,610.1 L619.4,608.8 L615.2,607.1 L612.7,604.2 L609.9,601.9 L606.5,599.7 L604.7,599.9 L601.1,602.3 L597.6,603.5 L593.5,605.2 L589.8,607.9 L585.7,607.0 L581.8,608.9 L578.1,608.4 L574.3,605.9 L572.6,603.9 L569.2,602.0 L566.5,598.1 L564.2,596.5 L563.9,592.0 L561.8,587.5 L560.8,583.2 L558.3,581.3 L554.9,582.4 L552.9,586.1 L550.3,591.4 L547.3,595.3 L543.6,596.3 L539.9,595.8 L537.6,594.5 L536.1,591.1 L532.6,588.9 L528.1,589.9 L522.5,589.3 L519.3,591.5 L516.8,594.1 L514.8,599.1 L510.9,601.9 L508.8,603.7 L506.2,606.1 L502.9,608.0 L500.6,610.7 L497.1,614.3 L500.2,618.3 L503.1,621.1 L497.3,625.4 L497.1,629.4 L493.3,631.8 L491.3,635.9 L488.2,637.6 L485.7,635.5 L481.8,631.6 L479.2,632.6 L474.5,634.0 L469.7,631.6 L466.8,630.6 L464.3,624.6 L461.6,622.5 L461.2,618.6 L456.4,621.1 L453.6,622.9 L450.9,623.7 L446.6,620.4 L446.5,618.3 L445.9,612.5 L445.1,611.0 L441.5,609.5 L438.1,609.5 L432.6,609.3 L428.2,609.9 L423.8,611.1 L420.4,613.4 L417.0,615.6 L414.5,616.3 L409.7,618.6 L406.8,619.2 L402.5,618.6 L400.2,617.0 L395.7,616.0 L392.2,614.1 L389.4,610.3 L385.4,609.1 L382.6,608.1 L377.7,607.6 L375.5,605.4 L371.4,602.7 L369.0,601.7 L364.7,600.6 L361.2,598.2 L358.6,597.6 L354.2,596.8 L351.9,595.1 L348.0,592.7 L342.1,591.2 L339.0,590.5 L336.0,588.3 L333.6,586.0 L333.3,581.8 L334.4,578.8 L335.3,575.7 L338.3,571.2 L338.2,568.2 L336.8,564.8 L334.4,559.1 L331.3,555.6 L328.3,552.9 L326.7,550.1" fill="none" stroke="#fde725" stroke-width="2.5" stroke-linejoin="round"/>
<path d="M641.1,603.0 L639.4,602.9 L634.7,604.7 L631.1,604.6 L626.9,605.2 L622.8,606.2 L619.8,605.8 L614.7,603.7 L610.3,601.4 L607.9,598.6 L604.1,596.7 L601.1,594.6 L599.0,594.7 L595.8,595.0 L592.7,597.4 L588.4,598.7 L583.8,600.3 L579.8,601.2 L578.0,603.2 L573.4,600.4 L570.1,599.0 L567.0,598.5 L565.4,594.3 L562.6,592.2 L560.5,588.0 L558.7,583.5 L557.7,580.4 L555.8,576.2 L554.8,574.4 L550.3,575.7 L549.4,579.0 L546.3,585.5 L544.2,587.5 L536.8,590.6 L535.7,587.2 L531.7,583.2 L529.5,581.2 L523.5,582.5 L520.1,582.4 L517.2,583.9 L514.1,586.3 L512.0,589.5 L510.6,594.7 L506.5,595.5 L502.7,598.9 L498.8,601.9 L497.1,604.5 L498.2,609.3 L501.3,614.5 L497.4,618.6 L495.2,621.7 L490.5,625.0 L487.8,629.0 L485.4,628.5 L481.6,623.5 L478.8,624.9 L472.7,624.9 L469.6,625.3 L468.0,622.6 L465.2,618.7 L463.1,613.0 L460.4,612.0 L458.4,613.0 L456.2,616.0 L448.1,614.0 L449.4,609.2 L449.6,605.3 L445.6,602.5 L444.6,601.8 L439.6,602.5 L434.8,602.7 L431.2,603.2 L427.6,603.3 L423.2,606.1 L420.4,606.8 L417.4,610.2 L412.7,611.1 L409.5,612.6 L405.8,612.3 L403.7,610.1 L400.3,607.7 L396.6,605.4 L393.0,604.8 L390.3,602.7 L386.9,602.5 L384.0,599.0 L379.8,598.0 L377.1,597.5 L373.0,596.3 L370.0,593.9 L367.7,592.1 L362.1,591.3 L359.1,590.1 L357.2,588.8 L354.2,587.1 L350.0,587.4 L345.0,585.5 L340.6,584.1 L339.5,580.3 L340.4,577.3 L339.1,572.4 L342.6,568.7 L343.8,564.8 L344.4,563.4" fill="none" stroke="#7ad151" stroke-width="2.5" stroke-linejoin="round"/>
<path d="M367.1,540.3 L369.5,540.3 L371.8,542.0 L375.7,541.9 L379.5,543.6 L385.0,542.6 L386.8,543.7 L391.2,544.8 L394.4,545.0 L397.6,544.7 L401.0,545.8 L405.4,546.3 L409.5,545.8 L411.7,546.4 L416.5,546.4 L419.3,547.2 L423.4,547.6 L426.0,549.6 L430.7,550.4 L433.5,550.9 L437.5,552.1 L442.7,554.0 L445.8,553.0 L449.9,553.0 L453.4,549.9 L457.7,547.4 L460.8,545.6 L466.1,544.8 L469.0,543.2 L474.4,542.4 L477.8,541.3 L480.9,540.0 L484.4,537.9 L487.3,537.3 L490.4,536.5 L495.2,534.9 L498.5,533.4 L500.9,531.9 L504.6,528.3 L509.4,528.0 L511.4,526.4 L515.7,529.8 L518.0,534.4 L516.6,538.4 L514.8,543.3 L510.4,544.9 L507.6,547.3 L502.7,550.7 L499.4,551.5 L496.8,554.7 L492.9,555.4 L489.6,559.0 L486.3,559.9 L484.3,562.5 L480.3,565.1 L478.7,568.3 L475.5,570.5 L472.6,573.1 L470.3,574.9 L468.4,578.9 L464.1,581.0 L462.7,584.7 L459.1,588.5 L458.6,590.1 L452.8,592.9 L453.6,590.2 L456.3,586.4 L458.8,581.7 L461.3,578.5 L464.7,574.8 L467.7,570.4 L467.9,569.2 L465.0,566.6 L459.4,566.7 L456.4,567.5 L453.4,568.4 L449.5,568.9 L445.5,568.3 L440.8,568.2 L437.1,568.2 L432.0,566.3 L428.0,566.0 L423.1,566.4 L419.8,566.5 L416.3,563.9 L412.5,564.1 L408.7,562.6 L403.8,562.3 L399.6,560.5 L396.1,559.1 L393.2,558.1 L390.1,556.0 L385.4,554.4 L381.7,552.8 L379.3,551.0 L375.4,549.6 L372.0,550.4 L368.7,547.5 L364.8,543.3Z" fill="none" stroke="#7ad151" stroke-width="2.5" stroke-linejoin="round"/>
<path d="M371.4,541.5 L374.1,540.6 L377.2,542.2 L381.8,541.5 L385.5,543.1 L389.0,544.4 L392.7,543.8 L397.0,544.6 L399.3,544.5 L403.3,544.4 L407.1,546.1 L410.3,546.6 L414.8,546.2 L417.9,545.5 L420.2,547.4 L424.2,546.2 L429.1,547.7 L431.2,547.5 L435.1,548.0 L438.2,548.9 L442.1,548.8 L446.6,547.5 L450.6,547.6 L456.3,545.8 L459.5,544.2 L464.0,544.0 L468.3,543.0 L471.9,541.7 L476.2,540.8 L479.1,539.0 L482.6,538.4 L485.5,535.6 L489.3,534.8 L493.3,532.8 L496.6,531.3 L500.0,530.2 L503.3,529.2 L507.4,527.2 L511.3,530.6 L512.8,533.7 L512.8,539.4 L509.2,543.3 L506.1,545.3 L503.0,548.9 L498.1,549.1 L494.6,552.4 L490.9,552.7 L487.2,555.5 L485.0,556.4 L481.8,559.4 L479.7,561.6 L475.7,564.1 L474.0,566.7 L470.8,568.9 L467.4,572.4 L465.0,575.0 L461.7,576.8 L459.4,580.9 L457.8,583.0 L455.2,586.6 L450.5,588.8 L452.6,585.4 L454.7,581.4 L454.8,577.7 L458.0,574.7 L461.7,570.0 L462.7,566.9 L465.3,566.3 L460.8,563.0 L455.5,564.1 L452.1,564.7 L447.8,565.1 L443.6,563.1 L437.5,563.9 L433.8,562.0 L429.5,561.8 L426.4,562.0 L423.0,561.3 L418.5,561.1 L415.0,560.4 L411.9,559.8 L409.0,559.8 L404.7,559.1 L400.7,556.8 L397.1,556.5 L394.0,554.9 L390.5,554.6 L386.7,552.4 L384.4,550.8 L380.8,549.5 L375.5,548.5 L374.4,547.6 L369.8,545.1Z" fill="none" stroke="#fde725" stroke-width="2.5" stroke-linejoin="round"/>
<path d="M533.8,514.6 L533.0,517.5 L531.9,520.1 L530.9,524.1 L529.0,527.2 L528.1,531.7 L526.7,536.9 L527.5,541.6 L527.4,544.0 L529.4,548.5 L532.4,552.3 L534.4,554.7 L537.4,558.0 L540.1,558.5 L542.4,556.7 L544.1,552.2 L544.7,547.5 L545.1,543.6 L543.9,539.4 L542.3,533.9 L541.9,531.2 L542.4,526.7 L542.0,523.1 L541.3,517.6 L539.7,515.3Z" fill="none" stroke="#fde725" stroke-width="2.5" stroke-linejoin="round"/>
<path d="M597.2,644.0 L598.6,640.5 L600.0,636.7 L602.8,632.9 L606.0,630.2 L608.5,626.8 L612.0,625.9 L616.5,630.0 L616.3,632.2 L614.8,636.4 L612.2,640.6 L610.9,643.2 L609.9,647.0 L608.3,650.5 L607.7,652.9 L600.0,651.8 L598.7,648.7Z" fill="none" stroke="#fde725" stroke-width="2.5" stroke-linejoin="round"/>
<path d="M644.7,642.1 L645.5,638.8 L645.7,634.5 L645.3,630.4 L648.4,626.2 L651.6,623.7 L653.5,625.8 L654.4,631.0 L653.0,634.0 L652.7,637.3 L650.1,641.2 L649.9,643.6Z" fill="none" stroke="#fde725" stroke-width="2.5" stroke-linejoin="round"/>
<path d="M524.0,611.8 L525.8,608.5 L529.8,604.7 L532.7,608.1 L533.8,612.2 L528.9,613.8Z" fill="none" stroke="#fde725" stroke-width="2.5" stroke-linejoin="round"/>
<path d="M455.7,602.1 L456.5,604.0 L461.8,608.0 L464.0,609.9 L469.5,611.8 L472.4,613.8 L477.3,613.8 L482.1,613.5 L486.8,612.6 L490.1,611.8 L494.6,610.6 L497.4,610.1 L501.8,606.2 L505.1,604.9 L506.6,601.8 L508.1,597.4 L508.8,594.2 L510.9,591.0 L512.4,588.7 L513.5,584.8 L516.4,582.5 L520.6,579.2 L521.5,576.5 L523.7,573.6 L526.4,568.7 L529.2,567.1 L528.9,564.3 L528.8,558.0 L527.2,555.1 L522.3,553.8 L517.4,556.5 L515.2,559.3 L510.0,561.9 L506.4,562.5 L503.3,565.1 L500.6,564.5 L496.5,565.1 L491.9,568.4 L489.4,569.1 L485.3,572.7 L481.6,574.0 L479.9,577.0 L476.4,580.4 L473.6,583.1 L470.4,586.3 L468.4,588.8 L464.1,589.5 L463.2,592.0 L459.9,595.0 L456.5,598.7Z" fill="none" stroke="#22a884" stroke-width="2.5" stroke-linejoin="round"/>
<path d="M356.6,549.7 L359.6,546.4 L364.7,543.7 L367.4,545.2 L370.2,549.2 L371.7,552.6 L367.3,556.7 L362.2,557.5 L359.3,557.4 L357.1,554.7Z" fill="none" stroke="#22a884" stroke-width="2.5" stroke-linejoin="round"/>
<path d="M374.8,567.1 L378.5,565.4 L385.0,566.0 L389.3,566.5 L392.8,568.9 L395.3,572.4 L395.2,576.6 L393.7,581.3 L389.8,583.0 L386.6,582.9 L382.8,583.8 L378.1,580.3 L376.4,576.5 L373.4,571.4Z" fill="none" stroke="#22a884" stroke-width="2.5" stroke-linejoin="round"/>
<path d="M377.2,599.4 L381.5,597.1 L387.1,597.3 L389.9,599.8 L390.5,603.4 L388.4,606.9 L384.7,608.4 L380.7,606.4 L378.5,605.1Z" fill="none" stroke="#22a884" stroke-width="2.5" stroke-linejoin="round"/>
<path d="M403.4,601.4 L406.8,599.5 L410.5,598.5 L415.1,598.3 L420.2,599.7 L426.7,601.2 L428.9,602.3 L429.0,605.1 L424.0,608.5 L421.5,607.9 L416.2,608.1 L413.3,607.9 L409.3,608.7 L403.8,604.6Z" fill="none" stroke="#22a884" stroke-width="2.5" stroke-linejoin="round"/>
<path d="M439.9,595.7 L442.4,594.5 L446.9,593.5 L451.0,594.0 L454.7,597.7 L455.1,600.4 L452.4,601.6 L448.9,601.1 L445.2,601.6 L440.4,598.5Z" fill="none" stroke="#22a884" stroke-width="2.5" stroke-linejoin="round"/>
<path d="M574.4,578.9 L575.7,575.7 L577.3,571.1 L580.6,568.6 L583.4,565.2 L588.0,565.5 L592.1,565.1 L594.3,569.1 L595.5,574.9 L594.3,579.8 L593.9,582.6 L591.9,586.3 L589.8,590.2 L585.3,592.5 L581.8,595.5 L577.9,595.1 L573.8,592.1 L571.3,588.5 L571.3,583.4Z" fill="none" stroke="#22a884" stroke-width="2.5" stroke-linejoin="round"/>
<path d="M650.3,556.7 L651.7,552.0 L653.7,548.6 L655.4,546.6 L659.0,545.7 L663.6,548.2 L667.2,550.2 L669.1,553.4 L669.2,555.9 L669.6,560.0 L670.4,563.5 L669.3,568.2 L669.1,572.3 L668.4,576.1 L667.2,581.1 L664.3,583.2 L660.4,587.2 L656.2,587.5 L654.4,586.3 L653.5,582.3 L651.2,577.2 L651.6,573.4 L651.0,568.6 L650.8,564.1 L650.4,559.9Z" fill="none" stroke="#22a884" stroke-width="2.5" stroke-linejoin="round"/>
<path d="M343.9,297.7 L342.9,298.5 L337.3,303.4 L332.7,309.6 L326.2,312.2 L325.8,318.8 L322.4,323.3 L318.5,332.0 L315.3,338.1 L314.6,340.2" fill="none" stroke="#fde725" stroke-width="2.5" stroke-linejoin="round"/>
<path d="M351.0,300.9 L348.7,303.6 L345.5,305.4 L339.2,311.7 L335.4,314.7 L333.5,320.4 L330.5,324.4 L327.5,327.8 L325.1,334.3 L322.5,338.8 L320.8,341.9 L319.2,348.4 L316.2,352.0 L316.3,358.6 L314.6,365.2 L313.5,371.0 L311.6,376.4 L311.0,382.5 L311.6,385.9 L309.2,392.0 L311.3,398.2 L310.3,403.6 L310.2,409.5 L310.1,415.8 L311.2,422.3 L312.1,428.0 L313.4,433.5 L313.7,436.5 L315.2,443.8 L316.4,447.8 L317.2,451.7 L318.9,457.7 L318.9,461.1 L322.1,468.6 L321.8,472.9 L324.6,476.1 L326.3,482.7 L330.1,485.6 L331.7,490.2 L334.5,495.5 L337.5,501.4 L339.7,505.8 L342.6,507.2 L347.0,510.7 L349.6,515.2 L354.7,517.8 L357.1,522.9 L361.9,526.4 L367.7,527.8 L370.8,531.1 L375.8,534.0 L380.1,536.4 L385.8,538.1 L389.2,540.4 L393.6,540.5 L400.7,542.1 L404.7,541.5 L409.6,543.6 L413.9,544.1 L420.4,542.8 L425.4,544.0 L430.7,543.6 L435.9,544.4 L439.1,542.2 L446.0,544.3 L449.6,542.4 L456.0,541.3 L460.6,540.4 L465.8,540.2 L470.7,538.5 L476.9,536.4 L481.1,537.0 L486.1,533.9 L492.9,532.0 L496.5,530.6 L503.0,527.5 L506.7,525.8 L513.7,523.0 L519.0,518.9 L522.3,516.8 L528.0,513.0 L530.9,507.9 L535.4,504.1 L537.9,502.2" fill="none" stroke="#7ad151" stroke-width="2.5" stroke-linejoin="round"/>
<path d="M429.0,294.9 L423.8,294.1 L416.2,295.5 L409.6,296.5 L401.9,297.8 L395.8,299.3 L390.4,300.2 L383.7,302.7 L376.8,304.7 L372.1,306.9 L366.4,310.9 L360.9,313.7 L354.1,318.5 L350.4,322.2 L344.4,326.5 L341.3,332.0 L338.0,338.5 L333.0,344.9 L330.1,352.0 L328.5,357.7 L325.7,364.8 L324.2,372.4 L321.2,378.3 L321.2,385.3 L320.4,391.9 L320.5,399.8 L318.9,407.1 L319.4,413.2 L320.3,420.0 L320.5,428.5 L322.4,432.7 L323.7,438.6 L324.1,446.2 L326.3,450.9 L327.6,456.9 L329.1,463.8 L331.3,468.4 L335.2,474.0 L338.5,479.4 L341.5,486.2 L344.2,491.5 L347.3,496.3 L352.6,501.2 L356.9,506.8 L362.1,510.4 L368.3,515.2 L373.6,520.3 L379.1,522.4 L385.5,526.9 L392.6,529.1 L399.6,533.0 L406.0,534.0 L414.1,536.0 L419.9,536.9 L427.4,537.0 L434.3,537.7 L442.1,537.8 L449.0,538.7 L456.8,536.7 L463.4,535.5 L469.9,534.4 L477.2,533.7 L483.5,529.6 L490.7,527.0 L496.2,525.5 L502.1,522.4 L509.3,518.5 L516.0,512.3 L519.7,509.7 L527.1,501.9 L531.3,497.0" fill="none" stroke="#22a884" stroke-width="2.5" stroke-linejoin="round"/>
<path d="M415.9,325.6 L420.3,323.6 L426.0,321.4 L432.1,319.2 L437.9,317.5 L444.6,315.5 L452.1,315.4 L458.4,313.5 L466.4,314.3 L474.0,313.4 L481.4,313.1 L485.3,313.9" fill="none" stroke="#22a884" stroke-width="2.5" stroke-linejoin="round"/>
<path d="M626.2,298.9 L628.6,300.2 L630.9,302.7 L635.1,304.2 L638.9,304.3 L644.3,305.9 L648.3,307.1 L651.2,310.9 L653.3,314.6 L655.5,317.2 L654.5,321.2 L653.0,323.3 L649.7,325.4 L650.7,327.9 L653.6,331.1 L655.2,334.0 L657.6,336.8 L661.0,336.7 L665.4,337.6 L668.7,338.8 L672.7,341.5 L675.1,342.0 L679.5,343.5 L684.0,344.4 L688.1,346.3 L691.0,348.4 L695.3,350.7 L699.4,350.8 L702.8,350.7 L706.2,355.3" fill="none" stroke="#fde725" stroke-width="2.5" stroke-linejoin="round"/>
<path d="M540.5,311.1 L541.4,309.3 L545.1,308.9 L548.0,307.1 L551.3,306.3 L554.3,305.2 L557.7,305.5 L561.8,306.9 L565.6,307.2 L568.3,307.4 L572.0,307.6 L576.3,308.2 L579.6,308.9 L584.8,307.8 L588.3,307.0" fill="none" stroke="#7ad151" stroke-width="2.5" stroke-linejoin="round"/>
<path d="M606.4,302.8 L610.9,301.4 L616.9,299.4 L614.7,303.1 L613.6,305.2 L620.1,304.8 L623.9,305.8 L628.2,306.6 L631.9,307.9 L635.8,308.0 L639.6,307.9 L643.0,309.6 L645.4,310.4 L648.4,312.6 L650.5,316.7 L651.1,320.3 L648.4,322.4 L645.0,324.6 L642.3,325.8 L637.6,328.0 L635.4,329.1 L631.5,329.7 L628.1,330.3 L623.1,330.8 L619.6,331.6 L619.1,335.2 L624.2,338.1 L627.0,337.0 L630.8,337.5 L634.2,336.9 L638.2,337.6 L642.7,339.7 L644.6,340.1 L648.0,342.2 L650.0,343.1 L653.5,343.5 L656.1,345.3 L659.7,345.5 L662.4,346.7 L665.4,348.2 L668.3,350.2 L670.9,351.6 L673.5,351.9 L676.5,353.3 L678.8,355.2 L682.3,356.5 L684.6,359.0 L687.8,360.6 L691.0,360.8 L694.4,360.8 L697.8,359.7 L700.9,358.2 L703.9,357.4 L704.7,362.7 L701.9,362.8 L698.9,363.3 L694.9,363.2 L690.9,366.1 L687.2,368.2 L682.2,368.3 L683.9,369.7 L687.2,370.8 L690.8,372.6 L692.9,372.9 L697.0,375.2 L699.5,375.8 L701.9,376.6" fill="none" stroke="#7ad151" stroke-width="2.5" stroke-linejoin="round"/>
<path d="M539.7,316.5 L542.1,317.4 L544.8,319.0 L549.0,320.8 L551.8,321.4 L554.4,322.7 L556.7,323.6 L560.4,325.8 L563.4,326.2" fill="none" stroke="#7ad151" stroke-width="2.5" stroke-linejoin="round"/>
<path d="M697.8,393.9 L700.9,392.7 L700.1,398.4 L696.4,397.1Z" fill="none" stroke="#7ad151" stroke-width="2.5" stroke-linejoin="round"/>
<path d="M696.6,405.4 L694.0,404.2 L690.1,403.9 L687.0,403.1 L683.3,402.6 L680.4,402.5 L677.5,403.3 L674.9,405.8 L673.2,407.9 L674.5,410.6 L676.7,413.7 L680.1,414.7 L681.6,416.7 L680.3,418.9 L677.3,421.7 L679.1,424.1 L681.6,426.9 L683.1,429.3 L685.7,431.7 L689.0,433.1 L690.7,435.1 L692.7,439.1" fill="none" stroke="#7ad151" stroke-width="2.5" stroke-linejoin="round"/>
<path d="M696.0,411.0 L692.1,410.2 L687.8,410.5 L687.9,416.4 L691.5,418.4 L695.5,419.9" fill="none" stroke="#fde725" stroke-width="2.5" stroke-linejoin="round"/>
<path d="M693.8,428.3 L690.3,427.4 L685.7,426.1 L684.1,426.0 L685.5,427.9 L689.1,430.6 L691.3,434.1 L693.4,436.2" fill="none" stroke="#fde725" stroke-width="2.5" stroke-linejoin="round"/>
<path d="M540.0,332.4 L541.8,333.9 L544.8,334.8 L549.0,335.6 L551.4,337.4 L553.7,338.3 L557.3,339.6 L560.2,340.8 L562.5,342.4 L565.6,344.4 L569.4,343.9 L572.5,342.8 L577.9,340.8 L582.1,343.1 L585.4,344.8 L588.7,347.2 L590.9,350.0 L586.5,352.9 L589.4,354.6 L592.4,358.1 L594.7,359.7 L598.8,360.9 L601.2,362.6 L604.3,366.7 L606.4,368.9 L608.2,372.4 L610.4,374.7 L613.6,377.6 L616.6,378.9 L619.7,380.4 L623.5,382.7 L626.8,385.7 L629.0,389.4 L629.3,393.7 L627.8,398.5 L624.4,394.6 L621.9,393.2 L619.2,390.9 L614.7,392.1 L616.1,396.4 L617.0,400.2 L613.7,405.4 L611.2,406.9 L608.1,409.8 L606.2,411.8 L605.0,416.2 L604.0,419.6 L603.7,423.9 L603.4,427.9 L605.2,432.0 L606.2,435.2 L604.6,437.7 L601.3,440.2 L599.5,443.8 L597.9,448.2 L598.7,451.6 L600.1,456.0 L599.8,460.4 L598.7,464.4 L594.1,466.9 L589.3,468.0 L587.6,468.6 L583.5,469.0 L580.8,470.5 L578.5,472.3 L574.7,473.1 L571.6,474.9 L567.9,476.8 L564.3,476.5 L559.8,477.7 L557.3,478.9 L554.6,480.9 L551.6,483.5 L548.0,484.7 L543.8,485.4 L540.0,488.8" fill="none" stroke="#22a884" stroke-width="2.5" stroke-linejoin="round"/>
<path d="M613.9,313.3 L616.0,311.8 L619.9,311.6 L623.1,310.8 L626.9,311.2 L630.6,312.5 L635.6,312.4 L639.4,314.4 L642.1,315.3 L646.7,318.3 L642.5,319.3 L639.3,318.2 L637.3,316.7 L633.9,314.3 L628.7,313.5 L625.8,313.9 L622.0,316.4 L619.3,317.7 L615.2,315.0Z" fill="none" stroke="#22a884" stroke-width="2.5" stroke-linejoin="round"/>
<path d="M613.8,349.7 L616.5,348.3 L619.6,346.9 L621.7,345.4 L625.2,344.1 L627.6,342.3 L630.9,341.9 L635.1,340.4 L638.6,341.6 L642.0,343.6 L644.0,346.2 L645.1,351.9 L639.1,353.6 L639.8,356.6 L642.2,360.0 L643.7,362.6 L638.0,361.9 L635.8,358.7 L634.3,357.3 L631.2,357.8 L627.8,358.5 L625.0,356.2 L627.7,353.8 L631.3,350.9 L636.5,349.8 L638.8,347.8 L637.4,347.1 L632.9,346.6 L627.6,348.2 L624.1,349.3 L619.4,350.4 L617.3,351.3Z" fill="none" stroke="#22a884" stroke-width="2.5" stroke-linejoin="round"/>
<path d="M625.2,410.2 L628.5,407.8 L631.7,406.3 L635.7,406.2 L639.7,406.5 L642.4,409.1 L644.7,412.0 L647.3,415.7 L650.3,418.2 L653.4,419.0 L657.3,419.2 L661.1,419.3 L663.9,421.3 L667.9,421.6 L670.8,424.2 L672.1,425.5 L674.5,427.5 L677.5,429.5 L679.9,431.8 L681.7,435.2 L684.5,437.5 L687.2,440.4 L689.0,442.8 L691.3,448.7 L692.0,451.9" fill="none" stroke="#22a884" stroke-width="2.5" stroke-linejoin="round"/>
<path d="M633.5,422.3 L636.5,424.9 L639.1,426.0 L641.8,424.3 L644.0,421.6 L639.4,419.2" fill="none" stroke="#22a884" stroke-width="2.5" stroke-linejoin="round"/>
<path d="M631.9,466.3 L634.8,465.3 L637.7,462.9 L642.5,462.2 L646.3,461.3 L650.2,460.4 L653.2,460.1 L655.7,462.4 L656.2,466.2 L658.1,468.5 L659.7,471.5 L661.1,473.7 L663.1,475.8 L664.9,478.0 L667.9,480.7 L669.8,483.3 L670.8,486.4 L672.1,488.9 L672.6,492.9 L673.1,495.4 L675.8,498.8 L677.0,501.5 L678.9,504.8 L680.5,507.5 L681.8,511.3 L682.0,514.4" fill="none" stroke="#22a884" stroke-width="2.5" stroke-linejoin="round"/>
<path d="M632.9,468.3 L633.9,471.8 L635.8,475.4 L638.0,481.0" fill="none" stroke="#22a884" stroke-width="2.5" stroke-linejoin="round"/>
<path d="M670.5,471.7 L674.5,472.1 L679.1,473.4 L682.2,476.0 L684.3,478.6 L687.0,483.1" fill="none" stroke="#22a884" stroke-width="2.5" stroke-linejoin="round"/>
<path d="M602.5,497.7 L605.4,494.5 L608.5,491.9 L611.1,489.4 L613.3,488.2 L617.0,487.1 L620.3,487.3 L624.2,489.3 L626.0,490.9 L627.9,492.7 L631.4,494.1 L634.1,496.9 L637.5,498.9 L639.5,502.0 L641.8,504.2 L641.8,507.8 L640.6,511.4 L637.6,514.7 L636.0,518.2 L633.8,520.1" fill="none" stroke="#22a884" stroke-width="2.5" stroke-linejoin="round"/>
<path d="M614.9,481.9 L619.3,478.5 L624.5,481.7 L620.9,485.2 L616.4,484.3Z" fill="none" stroke="#22a884" stroke-width="2.5" stroke-linejoin="round"/>
<path d="M653.7,481.9 L656.5,484.6 L654.3,487.7 L652.1,484.3Z" fill="none" stroke="#2a788e" stroke-width="2.5" stroke-linejoin="round"/>
<path d="M662.4,490.3 L665.9,491.2 L664.9,494.6 L662.4,494.0Z" fill="none" stroke="#2a788e" stroke-width="2.5" stroke-linejoin="round"/>
<path d="M608.2,363.7 L610.1,361.9 L613.7,360.8 L616.6,362.8 L618.4,365.2 L614.2,368.4 L610.2,366.0Z" fill="none" stroke="#7ad151" stroke-width="2.5" stroke-linejoin="round"/>
<path d="M632.0,437.4 L634.7,435.8 L637.8,434.6 L640.7,439.2 L636.4,442.1 L633.9,439.9Z" fill="none" stroke="#7ad151" stroke-width="2.5" stroke-linejoin="round"/>
<path d="M617.9,446.0 L622.3,443.6 L623.8,449.2 L620.0,450.5Z" fill="none" stroke="#7ad151" stroke-width="2.5" stroke-linejoin="round"/>
<path d="M645.2,362.5 L648.9,363.1 L653.7,365.5 L656.8,366.4 L659.5,368.1 L662.2,369.8 L666.7,371.9 L669.5,373.8 L666.6,373.4 L662.2,372.1 L658.0,371.1 L653.6,369.7 L649.9,368.2 L646.6,366.4Z" fill="none" stroke="#7ad151" stroke-width="2.5" stroke-linejoin="round"/>
<path d="M582.6,493.1 L584.9,491.2 L588.4,489.0 L591.4,488.8 L593.0,491.1 L594.5,495.3 L594.6,498.8 L591.4,500.7 L586.6,499.9 L583.6,497.0Z" fill="none" stroke="#7ad151" stroke-width="2.5" stroke-linejoin="round"/>
<path d="M623.1,454.2 L625.4,455.6 L623.7,457.8Z" fill="none" stroke="#7ad151" stroke-width="2.5" stroke-linejoin="round"/>
<path d="M635.1,459.3 L639.7,458.5 L640.3,461.3 L636.3,461.9Z" fill="none" stroke="#7ad151" stroke-width="2.5" stroke-linejoin="round"/>
<path d="M645.5,380.6 L648.0,381.3 L647.4,383.0Z" fill="none" stroke="#7ad151" stroke-width="2.5" stroke-linejoin="round"/>
<text x="662.2" y="449.0" font-size="14.5" fill="#22a884" text-anchor="middle" transform="rotate(60 662.2 449.0)">−54</text>
<text x="655.8" y="505.9" font-size="14.5" fill="#22a884" text-anchor="middle" transform="rotate(78 655.8 505.9)">−54</text>
<text x="596.1" y="315.5" font-size="14.5" fill="#7ad151" text-anchor="middle" transform="rotate(-27 596.1 315.5)">−42</text>
<path d="M392.4,427.4 L391.9,424.0 L391.7,417.7 L394.2,411.0 L393.7,406.9 L393.1,401.2 L396.2,395.4 L398.1,389.0 L399.0,383.5 L402.1,380.7 L405.1,376.0 L407.5,372.0 L410.2,367.3 L415.7,364.9 L418.8,360.4 L422.6,357.9 L427.1,356.8 L431.6,354.5 L438.1,350.0 L441.7,349.0 L445.9,346.8 L453.5,344.1 L458.1,342.6 L463.6,343.4 L467.6,340.4 L472.5,341.2 L477.6,339.7 L484.2,341.7 L489.1,340.5 L494.4,340.0 L499.8,341.1 L505.3,344.3 L508.9,344.8 L514.8,345.5 L517.6,349.4 L524.6,351.7 L526.1,358.9 L525.4,363.7 L525.7,368.3 L531.8,372.2 L538.6,374.2 L541.5,378.6 L546.7,380.2 L550.9,384.5 L555.6,384.9 L561.1,389.9 L564.6,394.0 L568.4,398.9 L570.4,404.2 L572.7,409.4 L573.9,415.4 L576.3,419.4 L576.3,424.4 L576.2,430.8 L574.3,437.7 L573.5,440.6 L570.8,445.2 L564.9,447.6 L560.7,451.2 L555.4,457.9 L553.0,463.1 L552.3,467.5 L546.5,471.5 L543.5,477.8 L540.3,483.7 L534.1,484.1 L528.3,485.6 L521.5,489.2 L519.2,492.5 L515.4,499.7 L512.3,504.1 L508.8,507.1 L504.1,512.1 L499.9,514.6 L493.0,516.4 L489.0,519.5 L483.7,521.9 L478.5,524.4 L470.9,525.5 L466.6,526.3 L460.9,524.2 L455.7,524.6 L450.4,523.1 L443.5,521.7 L440.2,519.0 L433.8,517.2 L429.5,514.2 L423.4,513.8 L417.0,512.7 L413.2,509.2 L409.2,507.3 L405.6,502.3 L402.9,495.5 L402.7,490.1 L401.6,482.9 L401.8,476.3 L397.9,469.7 L392.7,465.3 L391.4,458.8 L389.0,451.2 L390.1,444.5 L389.3,439.2 L391.4,434.3Z" fill="none" stroke="#2a788e" stroke-width="2.5" stroke-linejoin="round"/>
<text x="509.4" y="331.4" font-size="14.5" fill="#22a884" text-anchor="middle" transform="rotate(0 509.4 331.4)">−54</text>
<text x="368.0" y="357.7" font-size="14.5" fill="#2a788e" text-anchor="middle" transform="rotate(-62 368.0 357.7)">−64</text>
<text x="332.1" y="316.1" font-size="14.5" fill="#fde725" text-anchor="middle" transform="rotate(-75 332.1 316.1)">−31</text>
<text x="413.1" y="560.0" font-size="14.5" fill="#fde725" text-anchor="middle" transform="rotate(5 413.1 560.0)">−31</text>
<text x="544.4" y="546.0" font-size="14.5" fill="#fde725" text-anchor="middle" transform="rotate(85 544.4 546.0)">−31</text>
<text x="476.6" y="572.3" font-size="14.5" fill="#22a884" text-anchor="middle" transform="rotate(-45 476.6 572.3)">−54</text>
<text x="292.7" y="226.4" font-size="14.5" fill="#fde725" text-anchor="middle" transform="rotate(-25 292.7 226.4)">−31</text>
<text x="237.5" y="236.0" font-size="14.5" fill="#7ad151" text-anchor="middle" transform="rotate(-62 237.5 236.0)">−42</text><path d="M319.0,381.7L327.6,390.3M319.0,390.3L327.6,381.7" stroke="#ff0000" stroke-width="3.4"/>
<path d="M471.9,456.2 L471.8,459.5 L471.2,462.0 L466.8,467.4 L464.7,468.6 L462.8,470.4 L459.5,471.7 L456.0,472.2 L452.7,472.9 L449.5,472.0 L447.2,469.5 L445.1,467.7 L442.0,464.5 L440.6,462.0 L440.6,456.6 L440.1,453.5 L440.0,450.2 L442.2,447.4 L445.3,443.9 L449.0,441.1 L453.0,440.9 L456.0,440.8 L459.3,441.1 L462.3,441.9 L467.0,444.9 L469.7,447.4 L472.0,450.3 L472.4,452.6Z" fill="none" stroke="#2a788e" stroke-width="2.5" stroke-linejoin="round"/>
<circle cx="454.3" cy="455.9" r="11.6" fill="none" stroke="#22a884" stroke-width="2.2"/>
<circle cx="454.3" cy="456.9" r="10.2" fill="none" stroke="#7ad151" stroke-width="1.6"/>
<circle cx="454.3" cy="457.5" r="8.5" fill="none" stroke="#fde725" stroke-width="2.6"/>
<circle cx="454.3" cy="457.9" r="7.1" fill="#8e2528"/>
<path d="M512.3,483.4 L425.9,438.3 L400.0,425.0 L360.0,407.5 L320.0,384.0 L250.0,320.0 L192.5,262.5 L150.0,212.5 L106.0,161.0 L100.0,154.0" fill="none" stroke="#0000ff" stroke-width="2.6" stroke-dasharray="2.6 4.3"/><path d="M510.8,480.8l6.4,6.4m0,-6.4l-6.4,6.4M514.6,482.3l6.4,6.4m0,-6.4l-6.4,6.4M515.3,485.6l6.4,6.4m0,-6.4l-6.4,6.4M523.4,490.5l6.4,6.4m0,-6.4l-6.4,6.4M525.3,485.8l6.4,6.4m0,-6.4l-6.4,6.4M526.6,487.3l6.4,6.4m0,-6.4l-6.4,6.4M527.1,486.6l6.4,6.4m0,-6.4l-6.4,6.4M530.2,495.7l6.4,6.4m0,-6.4l-6.4,6.4M536.8,495.5l6.4,6.4m0,-6.4l-6.4,6.4M539.6,490.2l6.4,6.4m0,-6.4l-6.4,6.4M539.5,495.2l6.4,6.4m0,-6.4l-6.4,6.4M545.1,498.1l6.4,6.4m0,-6.4l-6.4,6.4M549.0,491.4l6.4,6.4m0,-6.4l-6.4,6.4M550.2,497.8l6.4,6.4m0,-6.4l-6.4,6.4M552.6,493.7l6.4,6.4m0,-6.4l-6.4,6.4M554.9,494.8l6.4,6.4m0,-6.4l-6.4,6.4M560.3,504.3l6.4,6.4m0,-6.4l-6.4,6.4M560.5,500.7l6.4,6.4m0,-6.4l-6.4,6.4M565.3,505.2l6.4,6.4m0,-6.4l-6.4,6.4M567.7,509.8l6.4,6.4m0,-6.4l-6.4,6.4M567.9,507.5l6.4,6.4m0,-6.4l-6.4,6.4M571.0,509.6l6.4,6.4m0,-6.4l-6.4,6.4M570.8,509.9l6.4,6.4m0,-6.4l-6.4,6.4M577.4,508.8l6.4,6.4m0,-6.4l-6.4,6.4M575.2,516.1l6.4,6.4m0,-6.4l-6.4,6.4M579.2,516.7l6.4,6.4m0,-6.4l-6.4,6.4M582.9,516.3l6.4,6.4m0,-6.4l-6.4,6.4M588.7,516.4l6.4,6.4m0,-6.4l-6.4,6.4M587.6,518.0l6.4,6.4m0,-6.4l-6.4,6.4M592.0,518.5l6.4,6.4m0,-6.4l-6.4,6.4M593.2,522.8l6.4,6.4m0,-6.4l-6.4,6.4M595.9,520.6l6.4,6.4m0,-6.4l-6.4,6.4M602.6,515.8l6.4,6.4m0,-6.4l-6.4,6.4M600.3,516.8l6.4,6.4m0,-6.4l-6.4,6.4M607.6,520.3l6.4,6.4m0,-6.4l-6.4,6.4M607.7,517.9l6.4,6.4m0,-6.4l-6.4,6.4M610.6,519.5l6.4,6.4m0,-6.4l-6.4,6.4M613.1,522.2l6.4,6.4m0,-6.4l-6.4,6.4M621.8,525.1l6.4,6.4m0,-6.4l-6.4,6.4M624.1,525.5l6.4,6.4m0,-6.4l-6.4,6.4M623.0,519.3l6.4,6.4m0,-6.4l-6.4,6.4M631.9,524.7l6.4,6.4m0,-6.4l-6.4,6.4M631.5,526.9l6.4,6.4m0,-6.4l-6.4,6.4M635.9,526.3l6.4,6.4m0,-6.4l-6.4,6.4M636.9,520.8l6.4,6.4m0,-6.4l-6.4,6.4M640.8,520.9l6.4,6.4m0,-6.4l-6.4,6.4M643.5,529.6l6.4,6.4m0,-6.4l-6.4,6.4M646.2,520.8l6.4,6.4m0,-6.4l-6.4,6.4M647.5,523.0l6.4,6.4m0,-6.4l-6.4,6.4M655.1,525.5l6.4,6.4m0,-6.4l-6.4,6.4M655.1,523.5l6.4,6.4m0,-6.4l-6.4,6.4M662.4,527.3l6.4,6.4m0,-6.4l-6.4,6.4M660.4,524.6l6.4,6.4m0,-6.4l-6.4,6.4M662.2,526.5l6.4,6.4m0,-6.4l-6.4,6.4M668.8,527.1l6.4,6.4m0,-6.4l-6.4,6.4M667.7,531.3l6.4,6.4m0,-6.4l-6.4,6.4M671.7,537.1l6.4,6.4m0,-6.4l-6.4,6.4M673.7,533.4l6.4,6.4m0,-6.4l-6.4,6.4M680.6,533.0l6.4,6.4m0,-6.4l-6.4,6.4M684.7,534.5l6.4,6.4m0,-6.4l-6.4,6.4M682.8,535.5l6.4,6.4m0,-6.4l-6.4,6.4M684.3,537.3l6.4,6.4m0,-6.4l-6.4,6.4M688.4,543.6l6.4,6.4m0,-6.4l-6.4,6.4M694.8,541.4l6.4,6.4m0,-6.4l-6.4,6.4M692.6,540.7l6.4,6.4m0,-6.4l-6.4,6.4M696.7,541.9l6.4,6.4m0,-6.4l-6.4,6.4M699.5,550.0l6.4,6.4m0,-6.4l-6.4,6.4M701.7,543.7l6.4,6.4m0,-6.4l-6.4,6.4M709.5,549.6l6.4,6.4m0,-6.4l-6.4,6.4M712.8,548.9l6.4,6.4m0,-6.4l-6.4,6.4M715.1,552.3l6.4,6.4m0,-6.4l-6.4,6.4M717.3,554.1l6.4,6.4m0,-6.4l-6.4,6.4M718.3,548.6l6.4,6.4m0,-6.4l-6.4,6.4M719.5,557.1l6.4,6.4m0,-6.4l-6.4,6.4M726.7,558.5l6.4,6.4m0,-6.4l-6.4,6.4M726.0,556.8l6.4,6.4m0,-6.4l-6.4,6.4M731.8,557.5l6.4,6.4m0,-6.4l-6.4,6.4M734.8,557.3l6.4,6.4m0,-6.4l-6.4,6.4M736.8,557.3l6.4,6.4m0,-6.4l-6.4,6.4M737.3,558.2l6.4,6.4m0,-6.4l-6.4,6.4M744.6,548.4l6.4,6.4m0,-6.4l-6.4,6.4M747.7,555.6l6.4,6.4m0,-6.4l-6.4,6.4M748.7,545.1l6.4,6.4m0,-6.4l-6.4,6.4M753.1,544.4l6.4,6.4m0,-6.4l-6.4,6.4M755.5,547.5l6.4,6.4m0,-6.4l-6.4,6.4M751.7,540.4l6.4,6.4m0,-6.4l-6.4,6.4M757.2,542.1l6.4,6.4m0,-6.4l-6.4,6.4M759.8,543.4l6.4,6.4m0,-6.4l-6.4,6.4M758.4,532.1l6.4,6.4m0,-6.4l-6.4,6.4M764.7,530.0l6.4,6.4m0,-6.4l-6.4,6.4M766.4,528.8l6.4,6.4m0,-6.4l-6.4,6.4M769.3,536.4l6.4,6.4m0,-6.4l-6.4,6.4M773.0,535.2l6.4,6.4m0,-6.4l-6.4,6.4M775.7,533.2l6.4,6.4m0,-6.4l-6.4,6.4M777.1,535.8l6.4,6.4m0,-6.4l-6.4,6.4M781.1,541.4l6.4,6.4m0,-6.4l-6.4,6.4M781.2,540.3l6.4,6.4m0,-6.4l-6.4,6.4M781.1,536.9l6.4,6.4m0,-6.4l-6.4,6.4M787.6,542.8l6.4,6.4m0,-6.4l-6.4,6.4M792.3,545.4l6.4,6.4m0,-6.4l-6.4,6.4M790.7,544.5l6.4,6.4m0,-6.4l-6.4,6.4M797.4,545.0l6.4,6.4m0,-6.4l-6.4,6.4M795.5,547.0l6.4,6.4m0,-6.4l-6.4,6.4M803.3,538.5l6.4,6.4m0,-6.4l-6.4,6.4M804.3,540.3l6.4,6.4m0,-6.4l-6.4,6.4M809.0,540.9l6.4,6.4m0,-6.4l-6.4,6.4M808.7,544.0l6.4,6.4m0,-6.4l-6.4,6.4M816.3,541.5l6.4,6.4m0,-6.4l-6.4,6.4M814.1,547.9l6.4,6.4m0,-6.4l-6.4,6.4M822.1,548.2l6.4,6.4m0,-6.4l-6.4,6.4M822.0,553.1l6.4,6.4m0,-6.4l-6.4,6.4M826.9,546.8l6.4,6.4m0,-6.4l-6.4,6.4" stroke="#00bfbf" stroke-width="2.3" fill="none"/>
<rect x="535.5" y="502" width="9.4" height="9.4" fill="#bf00bf"/>
<path d="M464.5,465.6 L500.1,484.5 L515.7,487.9 L537.9,495.6 L555.7,500.1 L573.6,513.5 L591.4,524.1 L609.2,522.4 L629.2,524.6 L662.6,531.3 L684.9,537.9 L707.1,551.3 L736.0,560.2 L753.9,551.3 L767.2,535.7 L773.9,537.9 L787.2,544.6 L796.1,549.1 L807.3,544.6 L822.9,551.3 L831.1,555.7" fill="none" stroke="#008000" stroke-width="2.9" stroke-linejoin="round"/>
<path d="M512.3,483.4 L577.3,514.6 L650.4,528.6 L708.2,550.2 L744.5,558.4 L787.2,543.5 L818.4,550.2 L831.1,561.3" fill="none" stroke="#0000ff" stroke-width="2.6"/>
<circle cx="512.3" cy="483.4" r="4.2" fill="#0000ff"/>
<circle cx="577.3" cy="514.6" r="4.2" fill="#0000ff"/>
<circle cx="650.4" cy="528.6" r="4.2" fill="#0000ff"/>
<circle cx="708.2" cy="550.2" r="4.2" fill="#0000ff"/>
<circle cx="744.5" cy="558.4" r="4.2" fill="#0000ff"/>
<circle cx="787.2" cy="543.5" r="4.2" fill="#0000ff"/>
<circle cx="818.4" cy="550.2" r="4.2" fill="#0000ff"/>
<path d="M464.5,464.5 L500.1,482.3 L506.8,486.7 L526.8,492.3 L536.8,494.5 L536.8,504.6 L565.8,511.2 L579.1,500.1 L595.8,504.6 L611.4,509.0 L615.8,515.7 L640.3,525.7 L641.4,534.6 L662.6,537.9 L702.7,549.1 L692.6,555.7 L721.6,558.0 L722.7,564.7 L736.0,561.3 L737.2,542.4 L762.8,542.4 L772.8,539.1 L796.1,540.2 L815.1,537.9 L814.0,529.0 L822.9,540.2 L829.5,544.6 L830.7,549.1 L818.4,546.8 L809.5,549.1 L810.6,553.5 L818.4,555.7 L825.1,553.5 L831.1,558.0" fill="none" stroke="#ff0000" stroke-width="3.1" stroke-linejoin="round"/>
<path d="M499.0,481.2 L513.5,485.6 L506.8,487.9Z" fill="#ff0000"/>
<path d="M579.1,499.7 L595.8,503.4 L612.5,508.6 L611.4,511.7 L595.8,506.8Z" fill="#ff0000"/>
<path d="M818.4,543.5 L831.1,543.5 L831.1,551.3 L822.9,550.2Z" fill="#ff0000"/><g stroke="#fff" stroke-width="2.1" stroke-dasharray="2.1 3.45" fill="none"><path d="M191.0,829.5V101.5"/><path d="M336.8,829.5V101.5"/><path d="M482.0,829.5V101.5"/><path d="M627.9,829.5V101.5"/><path d="M773.0,829.5V101.5"/><path d="M104.7,128.1H833.3"/><path d="M104.7,273.7H833.3"/><path d="M104.7,419.1H833.3"/><path d="M104.7,564.7H833.3"/><path d="M104.7,710.3H833.3"/></g><rect x="430.2" y="109" width="395" height="187.8" rx="4" fill="#fff" fill-opacity="0.8" stroke="#ccc" stroke-opacity="0.8" stroke-width="1.6"/><text x="480.6" y="128.0" font-size="15.8" text-anchor="start" fill="#000" textLength="337.0" lengthAdjust="spacingAndGlyphs">AMSU Locations [NOAAMC/1354Z 40 1003]</text><text x="480.6" y="150.7" font-size="15.8" text-anchor="start" fill="#000" textLength="211.0" lengthAdjust="spacingAndGlyphs">ARCHER Locations [2138Z]</text><text x="480.6" y="173.4" font-size="15.8" text-anchor="start" fill="#000" textLength="279.0" lengthAdjust="spacingAndGlyphs">SATCON Locations [2240Z 139 932]</text><text x="480.6" y="196.1" font-size="15.8" text-anchor="start" fill="#000" textLength="253.0" lengthAdjust="spacingAndGlyphs">ADT Tracks [0310Z 140.0 923.5]</text><text x="480.6" y="218.8" font-size="15.8" text-anchor="start" fill="#000" textLength="241.5" lengthAdjust="spacingAndGlyphs">JTWC/NHC Forecast [28/0000Z]</text><text x="480.6" y="241.5" font-size="15.8" text-anchor="start" fill="#000" textLength="224.5" lengthAdjust="spacingAndGlyphs">JTWC/NHC Tracks [28/0000Z]</text><text x="480.6" y="264.2" font-size="15.8" text-anchor="start" fill="#000" textLength="232.0" lengthAdjust="spacingAndGlyphs">MESOSCALE/TARGET Location</text><text x="480.6" y="286.9" font-size="15.8" text-anchor="start" fill="#000" textLength="118.0" lengthAdjust="spacingAndGlyphs">Floater Locater</text><rect x="447.3" y="118.0" width="9.4" height="9.4" fill="#bf00bf"/><rect x="447.3" y="140.7" width="9.4" height="9.4" fill="#bf00bf"/><path d="M448.4,164.5L455.6,171.7M448.4,171.7L455.6,164.5" stroke="#00bfbf" stroke-width="3.2"/><path d="M436.5,190.8H468" stroke="#008000" stroke-width="2.9"/><path d="M436.5,213.5H468" stroke="#0000ff" stroke-width="2.6" stroke-dasharray="2.6 4.3"/><path d="M436.5,236.2H468" stroke="#0000ff" stroke-width="2.1"/><circle cx="452" cy="236.2" r="4.2" fill="#0000ff"/><path d="M447.8,254.7L456.2,263.09999999999997M447.8,263.09999999999997L456.2,254.7" stroke="#ff0000" stroke-width="3.4"/><path d="M436.5,281.6H468" stroke="#ff0000" stroke-width="3.1"/><rect x="101.8" y="802" width="312" height="30" rx="4" fill="#000"/><text x="107.9" y="821.6" font-size="16.9" text-anchor="start" fill="#fff" font-weight="bold" textLength="302.0" lengthAdjust="spacingAndGlyphs">Copyright © 2020-2025 Dapiya</text>
</g>
<rect x="104.7" y="101.5" width="728.6" height="728" fill="none" stroke="#000" stroke-width="2.6"/>
<g transform="translate(875 0)"><g clip-path="url(#axL)">
<g clip-path="url(#dat)"><g filter="url(#cm)"><g filter="url(#fxR)"><g><rect x="100" y="95" width="740" height="740" fill="#4b4b4b"/></g>
<g filter="url(#bl30)"><ellipse cx="95.0" cy="520.0" rx="55.0" ry="200.0" fill="#313131" transform="rotate(-8 95 520)"/><ellipse cx="98.0" cy="450.0" rx="22.0" ry="170.0" fill="#181818" transform="rotate(-6 98 450)"/><ellipse cx="200.0" cy="700.0" rx="110.0" ry="90.0" fill="#313131" transform="rotate(-35 200 700)"/><ellipse cx="185.0" cy="560.0" rx="55.0" ry="95.0" fill="#313131" transform="rotate(-25 185 560)"/><ellipse cx="400.0" cy="720.0" rx="170.0" ry="70.0" fill="#313131"/><ellipse cx="620.0" cy="165.0" rx="190.0" ry="70.0" fill="#2d2d2d" transform="rotate(-8 620 165)"/><ellipse cx="540.0" cy="92.0" rx="190.0" ry="30.0" fill="#565656"/><ellipse cx="130.0" cy="150.0" rx="70.0" ry="80.0" fill="#3b3b3b"/><ellipse cx="110.0" cy="780.0" rx="70.0" ry="60.0" fill="#4e4e4e"/><ellipse cx="630.0" cy="700.0" rx="50.0" ry="100.0" fill="#525252"/><ellipse cx="270.0" cy="390.0" rx="45.0" ry="130.0" fill="#585858"/></g>
<g filter="url(#bl2_2)"><ellipse cx="343.0" cy="155.9" rx="16.1" ry="3.5" fill="#fff" fill-opacity="0.13" transform="rotate(-62.2 343 156)"/><ellipse cx="358.9" cy="187.9" rx="8.0" ry="2.8" fill="#fff" fill-opacity="0.13" transform="rotate(-52.6 359 188)"/><ellipse cx="180.6" cy="207.5" rx="14.9" ry="2.1" fill="#fff" fill-opacity="0.1" transform="rotate(-46.2 181 207)"/><ellipse cx="271.3" cy="199.2" rx="12.2" ry="2.2" fill="#fff" fill-opacity="0.1" transform="rotate(-71.6 271 199)"/><ellipse cx="359.3" cy="210.2" rx="11.3" ry="4.5" fill="#fff" fill-opacity="0.14" transform="rotate(-56.9 359 210)"/><ellipse cx="201.6" cy="169.9" rx="20.8" ry="4.3" fill="#fff" fill-opacity="0.1" transform="rotate(-54.0 202 170)"/><ellipse cx="357.6" cy="230.7" rx="18.6" ry="4.1" fill="#fff" fill-opacity="0.14" transform="rotate(-69.1 358 231)"/><ellipse cx="286.2" cy="216.0" rx="12.4" ry="3.9" fill="#fff" fill-opacity="0.1" transform="rotate(-78.8 286 216)"/><ellipse cx="213.1" cy="208.8" rx="20.1" ry="2.6" fill="#fff" fill-opacity="0.1" transform="rotate(-54.7 213 209)"/><ellipse cx="286.9" cy="250.1" rx="15.1" ry="3.0" fill="#fff" fill-opacity="0.07" transform="rotate(-61.2 287 250)"/><ellipse cx="184.6" cy="236.6" rx="18.7" ry="2.7" fill="#fff" fill-opacity="0.08" transform="rotate(-44.6 185 237)"/><ellipse cx="285.5" cy="286.8" rx="17.7" ry="4.1" fill="#fff" fill-opacity="0.09" transform="rotate(-52.3 285 287)"/><ellipse cx="288.0" cy="281.4" rx="16.3" ry="2.3" fill="#fff" fill-opacity="0.11" transform="rotate(-59.2 288 281)"/><ellipse cx="347.4" cy="257.7" rx="21.3" ry="3.9" fill="#fff" fill-opacity="0.11" transform="rotate(-48.1 347 258)"/><ellipse cx="298.5" cy="186.7" rx="23.7" ry="3.2" fill="#fff" fill-opacity="0.08" transform="rotate(-78.0 298 187)"/><ellipse cx="286.0" cy="197.3" rx="14.2" ry="3.1" fill="#fff" fill-opacity="0.12" transform="rotate(-67.2 286 197)"/><ellipse cx="309.7" cy="192.5" rx="12.1" ry="2.0" fill="#fff" fill-opacity="0.12" transform="rotate(-79.0 310 192)"/><ellipse cx="364.4" cy="253.7" rx="22.7" ry="2.3" fill="#fff" fill-opacity="0.14" transform="rotate(-51.3 364 254)"/><ellipse cx="323.1" cy="125.0" rx="8.3" ry="3.8" fill="#fff" fill-opacity="0.09" transform="rotate(-79.4 323 125)"/><ellipse cx="199.1" cy="222.5" rx="9.3" ry="2.0" fill="#fff" fill-opacity="0.11" transform="rotate(-67.6 199 222)"/><ellipse cx="212.0" cy="159.1" rx="16.2" ry="2.5" fill="#fff" fill-opacity="0.11" transform="rotate(-54.4 212 159)"/><ellipse cx="180.2" cy="179.6" rx="11.4" ry="1.8" fill="#fff" fill-opacity="0.14" transform="rotate(-64.8 180 180)"/><ellipse cx="287.2" cy="147.6" rx="22.7" ry="1.6" fill="#fff" fill-opacity="0.07" transform="rotate(-58.2 287 148)"/><ellipse cx="207.2" cy="239.4" rx="20.7" ry="3.5" fill="#fff" fill-opacity="0.11" transform="rotate(-74.2 207 239)"/><ellipse cx="350.5" cy="203.0" rx="19.7" ry="2.7" fill="#fff" fill-opacity="0.11" transform="rotate(-72.0 351 203)"/><ellipse cx="245.7" cy="223.6" rx="13.4" ry="4.4" fill="#fff" fill-opacity="0.14" transform="rotate(-77.9 246 224)"/><ellipse cx="242.4" cy="264.5" rx="24.9" ry="3.7" fill="#fff" fill-opacity="0.1" transform="rotate(-68.8 242 265)"/><ellipse cx="300.5" cy="140.9" rx="25.5" ry="3.6" fill="#fff" fill-opacity="0.11" transform="rotate(-48.8 300 141)"/><ellipse cx="258.2" cy="172.4" rx="20.1" ry="2.8" fill="#fff" fill-opacity="0.08" transform="rotate(-72.6 258 172)"/><ellipse cx="198.0" cy="229.9" rx="17.0" ry="2.5" fill="#fff" fill-opacity="0.14" transform="rotate(-69.3 198 230)"/><ellipse cx="219.2" cy="169.0" rx="22.1" ry="2.5" fill="#fff" fill-opacity="0.08" transform="rotate(-44.5 219 169)"/><ellipse cx="323.4" cy="260.8" rx="14.2" ry="4.1" fill="#fff" fill-opacity="0.12" transform="rotate(-46.4 323 261)"/><ellipse cx="281.6" cy="287.4" rx="21.1" ry="1.8" fill="#fff" fill-opacity="0.08" transform="rotate(-71.6 282 287)"/><ellipse cx="342.0" cy="218.0" rx="14.6" ry="2.5" fill="#fff" fill-opacity="0.09" transform="rotate(-49.7 342 218)"/><ellipse cx="365.8" cy="218.7" rx="24.0" ry="1.9" fill="#fff" fill-opacity="0.11" transform="rotate(-45.6 366 219)"/><ellipse cx="348.4" cy="259.1" rx="19.1" ry="3.8" fill="#fff" fill-opacity="0.1" transform="rotate(-67.7 348 259)"/><ellipse cx="300.6" cy="150.3" rx="12.8" ry="4.2" fill="#fff" fill-opacity="0.11" transform="rotate(-77.1 301 150)"/><ellipse cx="378.5" cy="192.4" rx="22.2" ry="4.0" fill="#fff" fill-opacity="0.07" transform="rotate(-70.0 379 192)"/><ellipse cx="322.5" cy="126.5" rx="23.9" ry="1.6" fill="#fff" fill-opacity="0.09" transform="rotate(-75.9 322 127)"/><ellipse cx="392.4" cy="185.8" rx="11.0" ry="2.2" fill="#fff" fill-opacity="0.13" transform="rotate(-75.8 392 186)"/><ellipse cx="258.2" cy="284.6" rx="13.3" ry="2.3" fill="#fff" fill-opacity="0.11" transform="rotate(-47.3 258 285)"/><ellipse cx="197.0" cy="227.4" rx="8.2" ry="4.4" fill="#fff" fill-opacity="0.09" transform="rotate(-78.6 197 227)"/><ellipse cx="306.2" cy="191.0" rx="9.1" ry="4.2" fill="#fff" fill-opacity="0.15" transform="rotate(-68.7 306 191)"/><ellipse cx="222.3" cy="221.2" rx="17.8" ry="3.6" fill="#fff" fill-opacity="0.12" transform="rotate(-44.7 222 221)"/><ellipse cx="232.0" cy="207.5" rx="12.4" ry="1.7" fill="#fff" fill-opacity="0.09" transform="rotate(-68.9 232 207)"/><ellipse cx="391.3" cy="190.6" rx="19.6" ry="4.3" fill="#fff" fill-opacity="0.1" transform="rotate(-56.5 391 191)"/><ellipse cx="242.5" cy="168.9" rx="23.2" ry="4.2" fill="#fff" fill-opacity="0.09" transform="rotate(-68.6 242 169)"/><ellipse cx="248.6" cy="208.0" rx="18.7" ry="2.2" fill="#fff" fill-opacity="0.07" transform="rotate(-59.2 249 208)"/><ellipse cx="228.6" cy="123.0" rx="9.3" ry="1.7" fill="#fff" fill-opacity="0.12" transform="rotate(-60.2 229 123)"/><ellipse cx="239.0" cy="252.6" rx="23.5" ry="2.0" fill="#fff" fill-opacity="0.11" transform="rotate(-62.2 239 253)"/><ellipse cx="355.7" cy="167.6" rx="17.3" ry="4.3" fill="#fff" fill-opacity="0.09" transform="rotate(-76.2 356 168)"/><ellipse cx="244.5" cy="272.6" rx="24.3" ry="4.0" fill="#fff" fill-opacity="0.13" transform="rotate(-51.1 245 273)"/><ellipse cx="326.7" cy="142.1" rx="10.8" ry="3.6" fill="#fff" fill-opacity="0.12" transform="rotate(-64.4 327 142)"/><ellipse cx="295.8" cy="207.4" rx="16.2" ry="2.7" fill="#fff" fill-opacity="0.09" transform="rotate(-49.4 296 207)"/><ellipse cx="317.2" cy="185.0" rx="9.1" ry="2.6" fill="#fff" fill-opacity="0.08" transform="rotate(-59.5 317 185)"/><ellipse cx="202.5" cy="156.6" rx="15.2" ry="2.7" fill="#fff" fill-opacity="0.12" transform="rotate(-50.2 203 157)"/><ellipse cx="291.3" cy="200.2" rx="15.9" ry="3.6" fill="#fff" fill-opacity="0.13" transform="rotate(-56.6 291 200)"/><ellipse cx="227.4" cy="199.1" rx="12.1" ry="2.7" fill="#fff" fill-opacity="0.11" transform="rotate(-62.8 227 199)"/><ellipse cx="235.5" cy="226.4" rx="9.3" ry="3.0" fill="#fff" fill-opacity="0.14" transform="rotate(-78.3 236 226)"/><ellipse cx="210.1" cy="247.9" rx="13.6" ry="3.6" fill="#fff" fill-opacity="0.14" transform="rotate(-48.2 210 248)"/><ellipse cx="256.8" cy="236.2" rx="18.7" ry="4.1" fill="#fff" fill-opacity="0.14" transform="rotate(-53.5 257 236)"/><ellipse cx="386.2" cy="212.8" rx="12.5" ry="2.2" fill="#fff" fill-opacity="0.11" transform="rotate(-73.7 386 213)"/><ellipse cx="325.0" cy="239.1" rx="17.3" ry="2.0" fill="#fff" fill-opacity="0.13" transform="rotate(-67.5 325 239)"/><ellipse cx="352.7" cy="223.1" rx="24.4" ry="4.4" fill="#fff" fill-opacity="0.08" transform="rotate(-70.4 353 223)"/><ellipse cx="345.7" cy="261.5" rx="20.6" ry="2.8" fill="#fff" fill-opacity="0.14" transform="rotate(-56.3 346 262)"/><ellipse cx="388.7" cy="178.8" rx="15.8" ry="2.0" fill="#fff" fill-opacity="0.09" transform="rotate(-51.1 389 179)"/><ellipse cx="307.1" cy="183.5" rx="13.3" ry="2.2" fill="#fff" fill-opacity="0.13" transform="rotate(-75.7 307 183)"/><ellipse cx="271.5" cy="113.8" rx="18.9" ry="4.0" fill="#fff" fill-opacity="0.08" transform="rotate(-57.4 272 114)"/><ellipse cx="237.7" cy="207.6" rx="18.5" ry="2.3" fill="#fff" fill-opacity="0.12" transform="rotate(-70.2 238 208)"/><ellipse cx="349.0" cy="255.6" rx="17.8" ry="3.0" fill="#fff" fill-opacity="0.14" transform="rotate(-44.9 349 256)"/><ellipse cx="295.3" cy="530.2" rx="16.5" ry="3.3" fill="#fff" fill-opacity="0.11" transform="rotate(235.8 295 530)"/><ellipse cx="214.0" cy="426.4" rx="21.9" ry="4.3" fill="#fff" fill-opacity="0.11" transform="rotate(-82.5 214 426)"/><ellipse cx="248.4" cy="371.2" rx="14.5" ry="2.5" fill="#fff" fill-opacity="0.1" transform="rotate(-89.9 248 371)"/><ellipse cx="302.0" cy="458.8" rx="8.3" ry="2.5" fill="#fff" fill-opacity="0.08" transform="rotate(252.9 302 459)"/><ellipse cx="256.2" cy="619.6" rx="20.5" ry="3.9" fill="#fff" fill-opacity="0.13" transform="rotate(220.2 256 620)"/><ellipse cx="303.8" cy="539.4" rx="21.7" ry="4.4" fill="#fff" fill-opacity="0.08" transform="rotate(233.8 304 539)"/><ellipse cx="285.5" cy="523.2" rx="14.9" ry="4.3" fill="#fff" fill-opacity="0.11" transform="rotate(245.3 285 523)"/><ellipse cx="294.8" cy="400.3" rx="14.5" ry="3.2" fill="#fff" fill-opacity="0.14" transform="rotate(-68.9 295 400)"/><ellipse cx="281.9" cy="445.4" rx="17.8" ry="2.0" fill="#fff" fill-opacity="0.14" transform="rotate(260.3 282 445)"/><ellipse cx="227.2" cy="589.9" rx="17.9" ry="3.0" fill="#fff" fill-opacity="0.11" transform="rotate(251.4 227 590)"/><ellipse cx="273.2" cy="479.9" rx="15.2" ry="4.3" fill="#fff" fill-opacity="0.12" transform="rotate(247.7 273 480)"/><ellipse cx="282.1" cy="588.6" rx="8.8" ry="3.5" fill="#fff" fill-opacity="0.09" transform="rotate(238.6 282 589)"/><ellipse cx="222.2" cy="577.7" rx="20.0" ry="2.2" fill="#fff" fill-opacity="0.08" transform="rotate(240.9 222 578)"/><ellipse cx="300.7" cy="423.8" rx="13.1" ry="2.0" fill="#fff" fill-opacity="0.12" transform="rotate(-102.1 301 424)"/><ellipse cx="292.6" cy="333.4" rx="13.4" ry="1.6" fill="#fff" fill-opacity="0.15" transform="rotate(-57.0 293 333)"/><ellipse cx="236.3" cy="489.2" rx="12.7" ry="1.6" fill="#fff" fill-opacity="0.1" transform="rotate(244.7 236 489)"/><ellipse cx="286.9" cy="531.6" rx="20.1" ry="3.6" fill="#fff" fill-opacity="0.11" transform="rotate(249.9 287 532)"/><ellipse cx="222.1" cy="504.7" rx="14.3" ry="4.1" fill="#fff" fill-opacity="0.08" transform="rotate(241.9 222 505)"/><ellipse cx="265.2" cy="413.6" rx="21.4" ry="2.3" fill="#fff" fill-opacity="0.12" transform="rotate(-96.3 265 414)"/><ellipse cx="245.4" cy="286.1" rx="8.8" ry="1.6" fill="#fff" fill-opacity="0.08" transform="rotate(-69.3 245 286)"/><ellipse cx="206.5" cy="495.9" rx="21.1" ry="4.5" fill="#fff" fill-opacity="0.09" transform="rotate(271.0 207 496)"/><ellipse cx="248.4" cy="365.3" rx="19.2" ry="3.6" fill="#fff" fill-opacity="0.09" transform="rotate(-70.7 248 365)"/><ellipse cx="245.8" cy="458.9" rx="13.7" ry="1.8" fill="#fff" fill-opacity="0.13" transform="rotate(249.0 246 459)"/><ellipse cx="223.9" cy="313.9" rx="11.0" ry="3.1" fill="#fff" fill-opacity="0.11" transform="rotate(-73.7 224 314)"/><ellipse cx="232.2" cy="498.2" rx="21.5" ry="3.7" fill="#fff" fill-opacity="0.1" transform="rotate(266.8 232 498)"/><ellipse cx="256.4" cy="477.6" rx="15.4" ry="2.0" fill="#fff" fill-opacity="0.07" transform="rotate(255.5 256 478)"/><ellipse cx="291.3" cy="404.5" rx="16.5" ry="2.4" fill="#fff" fill-opacity="0.15" transform="rotate(-69.7 291 405)"/><ellipse cx="239.7" cy="286.5" rx="12.3" ry="4.0" fill="#fff" fill-opacity="0.12" transform="rotate(-71.1 240 286)"/><ellipse cx="196.9" cy="433.5" rx="10.9" ry="3.3" fill="#fff" fill-opacity="0.07" transform="rotate(268.9 197 433)"/><ellipse cx="229.1" cy="406.8" rx="18.6" ry="2.1" fill="#fff" fill-opacity="0.11" transform="rotate(-97.4 229 407)"/><ellipse cx="242.0" cy="437.5" rx="9.7" ry="1.9" fill="#fff" fill-opacity="0.07" transform="rotate(265.0 242 437)"/><ellipse cx="297.0" cy="497.9" rx="8.3" ry="3.5" fill="#fff" fill-opacity="0.13" transform="rotate(255.4 297 498)"/><ellipse cx="281.8" cy="449.3" rx="19.2" ry="2.3" fill="#fff" fill-opacity="0.11" transform="rotate(263.1 282 449)"/><ellipse cx="252.3" cy="604.6" rx="19.7" ry="2.4" fill="#fff" fill-opacity="0.09" transform="rotate(245.5 252 605)"/><ellipse cx="253.7" cy="368.2" rx="20.9" ry="3.3" fill="#fff" fill-opacity="0.13" transform="rotate(-69.4 254 368)"/><ellipse cx="206.5" cy="401.1" rx="13.8" ry="1.7" fill="#fff" fill-opacity="0.07" transform="rotate(-94.6 207 401)"/><ellipse cx="272.8" cy="323.7" rx="17.4" ry="3.5" fill="#fff" fill-opacity="0.1" transform="rotate(-70.9 273 324)"/><ellipse cx="257.9" cy="318.1" rx="18.6" ry="1.8" fill="#fff" fill-opacity="0.11" transform="rotate(-49.8 258 318)"/><ellipse cx="280.8" cy="367.5" rx="17.8" ry="2.7" fill="#fff" fill-opacity="0.15" transform="rotate(-73.7 281 367)"/><ellipse cx="288.9" cy="475.0" rx="8.4" ry="3.3" fill="#fff" fill-opacity="0.14" transform="rotate(255.0 289 475)"/><ellipse cx="216.7" cy="453.5" rx="17.9" ry="4.3" fill="#fff" fill-opacity="0.13" transform="rotate(262.1 217 453)"/><ellipse cx="251.7" cy="607.1" rx="17.2" ry="3.8" fill="#fff" fill-opacity="0.14" transform="rotate(239.6 252 607)"/><ellipse cx="222.0" cy="491.2" rx="21.7" ry="3.4" fill="#fff" fill-opacity="0.07" transform="rotate(261.7 222 491)"/><ellipse cx="250.7" cy="521.9" rx="19.4" ry="1.6" fill="#fff" fill-opacity="0.15" transform="rotate(252.7 251 522)"/><ellipse cx="282.5" cy="486.2" rx="9.4" ry="3.9" fill="#fff" fill-opacity="0.13" transform="rotate(265.7 283 486)"/><ellipse cx="218.9" cy="533.0" rx="19.3" ry="1.9" fill="#fff" fill-opacity="0.12" transform="rotate(239.2 219 533)"/><ellipse cx="247.1" cy="366.3" rx="10.9" ry="4.4" fill="#fff" fill-opacity="0.07" transform="rotate(-75.7 247 366)"/><ellipse cx="195.4" cy="445.0" rx="18.6" ry="3.0" fill="#fff" fill-opacity="0.12" transform="rotate(271.7 195 445)"/><ellipse cx="235.2" cy="370.8" rx="9.1" ry="3.8" fill="#fff" fill-opacity="0.08" transform="rotate(-90.6 235 371)"/><ellipse cx="285.0" cy="546.7" rx="19.0" ry="4.1" fill="#fff" fill-opacity="0.08" transform="rotate(244.3 285 547)"/><ellipse cx="214.5" cy="409.8" rx="8.1" ry="3.2" fill="#fff" fill-opacity="0.15" transform="rotate(-91.8 215 410)"/><ellipse cx="239.0" cy="462.9" rx="20.2" ry="2.4" fill="#fff" fill-opacity="0.12" transform="rotate(260.5 239 463)"/><ellipse cx="253.1" cy="463.1" rx="19.5" ry="2.4" fill="#fff" fill-opacity="0.12" transform="rotate(249.0 253 463)"/><ellipse cx="290.5" cy="502.2" rx="9.3" ry="3.4" fill="#fff" fill-opacity="0.1" transform="rotate(259.4 291 502)"/><ellipse cx="258.7" cy="569.3" rx="12.3" ry="2.2" fill="#fff" fill-opacity="0.1" transform="rotate(241.7 259 569)"/><ellipse cx="222.9" cy="374.3" rx="19.5" ry="2.6" fill="#fff" fill-opacity="0.1" transform="rotate(-89.4 223 374)"/><ellipse cx="233.2" cy="306.3" rx="14.2" ry="2.4" fill="#fff" fill-opacity="0.14" transform="rotate(-73.4 233 306)"/><ellipse cx="305.6" cy="430.3" rx="12.6" ry="1.8" fill="#fff" fill-opacity="0.09" transform="rotate(282.8 306 430)"/><ellipse cx="217.7" cy="510.7" rx="19.1" ry="2.2" fill="#fff" fill-opacity="0.13" transform="rotate(248.6 218 511)"/><ellipse cx="270.9" cy="416.1" rx="20.3" ry="4.3" fill="#fff" fill-opacity="0.11" transform="rotate(-90.9 271 416)"/><ellipse cx="561.9" cy="126.5" rx="10.5" ry="1.7" fill="#fff" fill-opacity="0.1" transform="rotate(-38.1 562 127)"/><ellipse cx="678.3" cy="145.5" rx="12.4" ry="1.9" fill="#fff" fill-opacity="0.07" transform="rotate(-33.9 678 146)"/><ellipse cx="692.4" cy="239.1" rx="11.1" ry="2.3" fill="#fff" fill-opacity="0.12" transform="rotate(-26.0 692 239)"/><ellipse cx="671.0" cy="246.7" rx="9.4" ry="3.0" fill="#fff" fill-opacity="0.12" transform="rotate(-23.6 671 247)"/><ellipse cx="621.3" cy="138.4" rx="9.4" ry="3.8" fill="#fff" fill-opacity="0.14" transform="rotate(-35.8 621 138)"/><ellipse cx="630.5" cy="158.0" rx="17.2" ry="3.7" fill="#fff" fill-opacity="0.14" transform="rotate(-22.7 630 158)"/><ellipse cx="621.8" cy="176.2" rx="14.9" ry="1.9" fill="#fff" fill-opacity="0.09" transform="rotate(-32.0 622 176)"/><ellipse cx="520.2" cy="210.2" rx="16.6" ry="2.7" fill="#fff" fill-opacity="0.09" transform="rotate(-41.6 520 210)"/><ellipse cx="600.8" cy="142.4" rx="12.4" ry="2.4" fill="#fff" fill-opacity="0.13" transform="rotate(-31.0 601 142)"/><ellipse cx="580.5" cy="199.4" rx="9.6" ry="1.7" fill="#fff" fill-opacity="0.09" transform="rotate(-22.9 581 199)"/><ellipse cx="678.3" cy="208.5" rx="13.3" ry="1.9" fill="#fff" fill-opacity="0.1" transform="rotate(-42.9 678 208)"/><ellipse cx="519.4" cy="221.6" rx="23.3" ry="3.3" fill="#fff" fill-opacity="0.15" transform="rotate(-23.1 519 222)"/><ellipse cx="600.3" cy="260.9" rx="21.1" ry="2.2" fill="#fff" fill-opacity="0.08" transform="rotate(-31.4 600 261)"/><ellipse cx="607.7" cy="131.8" rx="23.4" ry="2.3" fill="#fff" fill-opacity="0.07" transform="rotate(-38.6 608 132)"/><ellipse cx="682.4" cy="168.0" rx="9.6" ry="4.0" fill="#fff" fill-opacity="0.1" transform="rotate(-41.3 682 168)"/><ellipse cx="658.9" cy="133.9" rx="15.9" ry="2.1" fill="#fff" fill-opacity="0.15" transform="rotate(-48.8 659 134)"/><ellipse cx="536.9" cy="194.7" rx="14.5" ry="4.0" fill="#fff" fill-opacity="0.11" transform="rotate(-26.8 537 195)"/><ellipse cx="563.2" cy="175.7" rx="14.7" ry="2.1" fill="#fff" fill-opacity="0.14" transform="rotate(-48.9 563 176)"/><ellipse cx="692.8" cy="189.8" rx="12.1" ry="2.1" fill="#fff" fill-opacity="0.08" transform="rotate(-49.1 693 190)"/><ellipse cx="560.9" cy="249.2" rx="8.8" ry="3.8" fill="#fff" fill-opacity="0.11" transform="rotate(-45.7 561 249)"/><ellipse cx="708.2" cy="214.6" rx="19.9" ry="2.7" fill="#fff" fill-opacity="0.07" transform="rotate(-26.3 708 215)"/><ellipse cx="556.4" cy="249.8" rx="22.8" ry="2.3" fill="#fff" fill-opacity="0.12" transform="rotate(-23.0 556 250)"/><ellipse cx="685.9" cy="212.8" rx="16.4" ry="3.1" fill="#fff" fill-opacity="0.12" transform="rotate(-25.6 686 213)"/><ellipse cx="569.0" cy="257.6" rx="9.2" ry="3.9" fill="#fff" fill-opacity="0.15" transform="rotate(-21.3 569 258)"/><ellipse cx="657.0" cy="117.1" rx="10.0" ry="3.9" fill="#fff" fill-opacity="0.12" transform="rotate(-23.0 657 117)"/><ellipse cx="649.7" cy="201.1" rx="22.8" ry="2.0" fill="#fff" fill-opacity="0.07" transform="rotate(-27.6 650 201)"/><ellipse cx="688.2" cy="235.3" rx="16.8" ry="3.7" fill="#fff" fill-opacity="0.08" transform="rotate(-23.7 688 235)"/><ellipse cx="657.7" cy="162.9" rx="20.4" ry="2.7" fill="#fff" fill-opacity="0.11" transform="rotate(-23.2 658 163)"/><ellipse cx="640.8" cy="188.2" rx="17.7" ry="1.8" fill="#fff" fill-opacity="0.1" transform="rotate(-24.1 641 188)"/><ellipse cx="678.9" cy="193.7" rx="21.4" ry="3.6" fill="#fff" fill-opacity="0.07" transform="rotate(-49.7 679 194)"/><ellipse cx="629.5" cy="171.0" rx="13.0" ry="2.1" fill="#fff" fill-opacity="0.11" transform="rotate(-26.4 630 171)"/><ellipse cx="535.2" cy="209.4" rx="16.2" ry="2.6" fill="#fff" fill-opacity="0.14" transform="rotate(-23.4 535 209)"/><ellipse cx="703.9" cy="141.3" rx="21.4" ry="2.6" fill="#fff" fill-opacity="0.13" transform="rotate(-40.9 704 141)"/><ellipse cx="548.8" cy="133.9" rx="13.4" ry="2.9" fill="#fff" fill-opacity="0.14" transform="rotate(-35.2 549 134)"/><ellipse cx="578.6" cy="197.2" rx="19.4" ry="2.7" fill="#fff" fill-opacity="0.07" transform="rotate(-35.4 579 197)"/><ellipse cx="564.0" cy="245.6" rx="20.3" ry="4.0" fill="#fff" fill-opacity="0.12" transform="rotate(-39.3 564 246)"/><ellipse cx="658.9" cy="207.5" rx="22.6" ry="2.7" fill="#fff" fill-opacity="0.14" transform="rotate(-40.6 659 208)"/><ellipse cx="577.2" cy="248.8" rx="17.8" ry="2.6" fill="#fff" fill-opacity="0.08" transform="rotate(-26.4 577 249)"/><ellipse cx="679.6" cy="167.9" rx="10.1" ry="1.7" fill="#fff" fill-opacity="0.08" transform="rotate(-30.1 680 168)"/><ellipse cx="688.0" cy="138.4" rx="14.0" ry="2.9" fill="#fff" fill-opacity="0.1" transform="rotate(-22.9 688 138)"/><ellipse cx="663.5" cy="731.5" rx="8.6" ry="1.5" fill="#fff" fill-opacity="0.12" transform="rotate(-60.4 663 732)"/><ellipse cx="637.6" cy="721.6" rx="13.7" ry="2.0" fill="#fff" fill-opacity="0.13" transform="rotate(-63.8 638 722)"/><ellipse cx="658.4" cy="666.2" rx="12.8" ry="1.9" fill="#fff" fill-opacity="0.11" transform="rotate(-58.9 658 666)"/><ellipse cx="664.4" cy="642.5" rx="12.9" ry="3.2" fill="#fff" fill-opacity="0.09" transform="rotate(-50.9 664 642)"/><ellipse cx="664.4" cy="671.2" rx="8.0" ry="2.8" fill="#fff" fill-opacity="0.09" transform="rotate(-72.2 664 671)"/><ellipse cx="676.1" cy="694.2" rx="12.6" ry="2.2" fill="#fff" fill-opacity="0.14" transform="rotate(-69.0 676 694)"/><ellipse cx="672.8" cy="682.3" rx="13.0" ry="3.1" fill="#fff" fill-opacity="0.15" transform="rotate(-55.7 673 682)"/><ellipse cx="602.3" cy="657.8" rx="9.0" ry="2.7" fill="#fff" fill-opacity="0.07" transform="rotate(-56.9 602 658)"/><ellipse cx="670.4" cy="684.0" rx="12.6" ry="2.1" fill="#fff" fill-opacity="0.08" transform="rotate(-71.5 670 684)"/><ellipse cx="638.7" cy="622.1" rx="14.7" ry="2.9" fill="#fff" fill-opacity="0.07" transform="rotate(-68.7 639 622)"/><ellipse cx="626.6" cy="744.7" rx="9.1" ry="2.3" fill="#fff" fill-opacity="0.1" transform="rotate(-56.4 627 745)"/><ellipse cx="604.3" cy="667.7" rx="10.0" ry="3.5" fill="#fff" fill-opacity="0.09" transform="rotate(-52.6 604 668)"/><ellipse cx="653.6" cy="742.3" rx="14.3" ry="3.1" fill="#fff" fill-opacity="0.11" transform="rotate(-61.6 654 742)"/><ellipse cx="637.7" cy="712.9" rx="6.9" ry="3.0" fill="#fff" fill-opacity="0.09" transform="rotate(-62.7 638 713)"/><ellipse cx="639.0" cy="725.4" rx="6.2" ry="1.7" fill="#fff" fill-opacity="0.12" transform="rotate(-69.8 639 725)"/></g>
<g filter="url(#bl6)"><path d="M192.0,176.6 L198.5,166.8 L204.0,170.1 L207.3,175.5 L213.8,179.9 L211.7,186.5 L202.9,184.3 L194.1,185.4Z" fill="#6e6e6e" stroke="#6e6e6e" stroke-width="12" stroke-linejoin="round" fill-opacity="0.9" stroke-opacity="0.9"/><path d="M218.2,179.9 L222.6,181.0 L225.9,189.8 L223.7,194.1 L219.3,189.8Z" fill="#6e6e6e" stroke="#6e6e6e" stroke-width="12" stroke-linejoin="round" fill-opacity="0.9" stroke-opacity="0.9"/><path d="M198.5,229.2 L205.1,225.9 L218.2,227.0 L224.8,222.6 L229.2,227.0 L227.0,235.7 L231.4,240.1 L248.9,231.4 L262.0,227.0 L275.1,220.4 L286.1,213.8 L297.0,207.3 L310.2,202.9 L318.9,198.5 L314.6,209.5 L301.4,216.0 L292.7,222.6 L275.1,231.4 L262.0,240.1 L253.3,246.7 L240.1,251.1 L231.4,253.3 L224.8,262.0 L222.6,273.0 L231.4,275.1 L240.1,281.7 L237.9,290.5 L229.2,290.5 L222.6,286.1 L218.2,292.7 L222.6,303.6 L231.4,308.0 L227.0,318.9 L218.2,321.1 L222.6,329.9 L231.4,338.6 L229.2,347.4 L240.1,354.0 L253.3,361.6 L257.6,366.0 L248.9,368.2 L235.7,366.0 L227.0,371.5 L225.9,384.6 L228.1,395.6 L225.9,408.7 L219.3,406.5 L216.0,393.4 L209.5,384.6 L202.9,378.0 L194.1,382.4 L192.0,375.9 L198.5,369.3 L207.3,362.7 L206.2,351.8 L198.5,340.8 L202.9,332.1 L196.3,325.5 L202.9,314.6 L198.5,303.6 L205.1,297.0 L196.3,288.3 L190.9,286.1 L198.5,279.5 L202.9,268.6 L196.3,262.0 L202.9,253.3 L198.5,242.3Z" fill="#6e6e6e" stroke="#6e6e6e" stroke-width="12" stroke-linejoin="round" fill-opacity="0.9" stroke-opacity="0.9"/><path d="M334.3,202.9 L333.2,196.3 L340.8,192.0 L351.8,187.6 L364.9,183.2 L363.8,186.5 L354.0,192.0 L343.0,197.4 L336.4,205.1Z" fill="#6e6e6e" stroke="#6e6e6e" stroke-width="12" stroke-linejoin="round" fill-opacity="0.9" stroke-opacity="0.9"/><path d="M335.4,278.4 L340.8,275.1 L351.8,273.0 L362.7,262.0 L369.3,251.1 L366.0,240.1 L375.9,233.5 L391.2,231.4 L402.1,219.3 L410.9,213.8 L419.6,216.0 L424.0,222.6 L421.8,231.4 L415.3,240.1 L406.5,244.5 L410.9,251.1 L424.0,244.5 L428.4,253.3 L428.4,262.0 L406.5,266.4 L391.2,268.6 L382.4,275.1 L371.5,279.5 L360.5,286.1 L356.2,292.7 L343.0,290.5 L336.4,286.1Z" fill="#6e6e6e" stroke="#6e6e6e" stroke-width="12" stroke-linejoin="round" fill-opacity="0.9" stroke-opacity="0.9"/><path d="M264.2,281.7 L268.6,276.2 L273.0,286.1 L270.8,297.0 L265.3,300.3 L262.0,292.7Z" fill="#6e6e6e" stroke="#6e6e6e" stroke-width="12" stroke-linejoin="round" fill-opacity="0.9" stroke-opacity="0.9"/><path d="M290.5,313.5 L295.9,309.1 L298.1,318.9 L294.9,327.7 L290.5,323.3Z" fill="#6e6e6e" stroke="#6e6e6e" stroke-width="12" stroke-linejoin="round" fill-opacity="0.9" stroke-opacity="0.9"/><path d="M310.2,204.0 L318.9,202.5 L315.6,209.5 L310.6,209.0Z" fill="#6e6e6e" stroke="#6e6e6e" stroke-width="12" stroke-linejoin="round" fill-opacity="0.9" stroke-opacity="0.9"/><path d="M241.7,527.5 L246.2,516.2 L255.2,519.6 L261.9,525.2 L267.5,534.2 L272.0,543.2 L276.5,551.1 L268.7,549.9 L261.9,548.8 L257.4,543.2 L250.7,538.7 L243.9,536.5Z" fill="#6e6e6e" stroke="#6e6e6e" stroke-width="12" stroke-linejoin="round" fill-opacity="0.9" stroke-opacity="0.9"/><path d="M275.4,469.0 L282.1,463.4 L293.4,466.7 L302.4,473.5 L311.4,480.2 L322.6,489.2 L327.1,500.5 L329.4,514.0 L322.6,518.5 L315.9,507.2 L309.1,498.2 L300.1,489.2 L291.1,482.5 L282.1,478.0Z" fill="#6e6e6e" stroke="#6e6e6e" stroke-width="12" stroke-linejoin="round" fill-opacity="0.9" stroke-opacity="0.9"/></g>
<g filter="url(#bl13)"><path d="M333.4,585.7C334.1,582.7 339.0,573.8 337.8,567.9C336.7,562.0 327.2,554.3 326.7,550.1C326.2,545.9 334.3,545.4 335.0,543.0C335.7,540.6 332.7,538.1 331.0,536.0C329.3,533.9 325.0,533.2 325.0,530.6C325.0,528.0 330.7,523.5 331.0,520.6C331.3,517.8 327.6,516.6 326.6,513.5C325.6,510.4 325.5,505.3 325.0,502.0C324.5,498.7 325.2,496.4 323.8,493.6C322.4,490.8 319.1,487.4 316.7,485.0C314.3,482.6 310.6,481.2 309.6,479.0C308.7,476.8 311.3,475.2 311.0,472.0C310.7,468.8 308.7,463.5 308.0,459.5C307.3,455.5 307.7,451.8 306.8,448.0C305.9,444.2 304.2,440.3 302.5,436.8C300.8,433.3 298.2,430.6 296.8,427.0C295.4,423.4 294.2,419.3 294.0,415.5C293.8,411.7 294.0,407.6 295.4,404.0C296.8,400.4 300.1,398.0 302.5,394.0C304.9,390.0 308.0,385.3 309.6,380.0C311.2,374.7 310.4,368.5 312.0,362.0C313.6,355.5 315.7,348.2 319.0,341.0C322.3,333.8 327.3,325.7 332.0,319.0C336.7,312.3 341.8,306.2 347.0,301.0C352.2,295.8 356.7,291.3 363.0,288.0C369.3,284.7 377.7,283.3 385.0,281.0C392.3,278.7 399.8,277.8 407.0,274.0C414.2,270.2 417.5,263.3 428.0,258.0C438.5,252.7 454.7,244.5 470.0,242.0C485.3,239.5 505.0,241.7 520.0,243.0C535.0,244.3 546.7,246.8 560.0,250.0C573.3,253.2 588.8,258.5 600.0,262.0C611.2,265.5 617.0,267.2 627.0,271.0C637.0,274.8 650.5,280.7 660.0,285.0C669.5,289.3 675.3,291.3 684.0,297.0C692.7,302.7 707.3,315.3 712.0,319.0" fill="none" stroke="#6a6a6a" stroke-width="42" stroke-linecap="round" stroke-linejoin="round"/></g>
<g filter="url(#bl6)"><path d="M319.0,341.0C322.3,333.8 327.3,325.7 332.0,319.0C336.7,312.3 341.8,306.2 347.0,301.0C352.2,295.8 356.7,291.3 363.0,288.0C369.3,284.7 377.7,283.3 385.0,281.0C392.3,278.7 399.8,277.8 407.0,274.0C414.2,270.2 417.5,263.3 428.0,258.0C438.5,252.7 454.7,244.5 470.0,242.0C485.3,239.5 505.0,241.7 520.0,243.0C535.0,244.3 546.7,246.8 560.0,250.0C573.3,253.2 588.8,258.5 600.0,262.0C611.2,265.5 617.0,267.2 627.0,271.0C637.0,274.8 650.5,280.7 660.0,285.0C669.5,289.3 675.3,291.3 684.0,297.0C692.7,302.7 704.3,301.8 712.0,319.0C719.7,336.2 728.7,369.8 730.0,400.0C731.3,430.2 725.0,469.2 720.0,500.0C715.0,530.8 708.4,568.1 700.0,585.0C691.6,601.9 676.1,599.3 669.5,601.3C662.9,603.3 664.3,595.7 660.6,596.8C656.9,598.0 652.4,605.6 647.2,608.0C642.1,610.4 634.6,611.3 629.4,611.3C624.2,611.3 619.8,610.0 616.1,608.0C612.4,605.9 610.9,599.4 607.2,599.1C603.5,598.7 598.6,604.3 593.8,605.7C589.0,607.2 582.7,609.1 578.2,608.0C573.8,606.9 570.5,603.5 567.1,599.1C563.8,594.6 561.5,582.0 558.2,581.3C554.9,580.5 550.0,592.0 547.1,594.6C544.1,597.2 542.3,597.6 540.4,596.8C538.5,596.1 538.9,591.3 535.9,590.2C533.0,589.1 526.7,588.3 522.6,590.2C518.5,592.0 515.5,597.4 511.5,601.3C507.4,605.2 499.6,610.2 498.1,613.5C496.6,616.9 502.6,619.3 502.6,621.3C502.6,623.4 500.3,623.2 498.1,625.8C495.9,628.4 491.8,635.8 489.2,636.9C486.6,638.0 485.9,633.2 482.5,632.5C479.2,631.7 472.9,634.7 469.2,632.5C465.5,630.2 462.9,620.6 460.3,619.1C457.7,617.6 455.8,623.2 453.6,623.6C451.4,623.9 448.4,623.6 446.9,621.3C445.4,619.1 448.4,611.9 444.7,610.2C441.0,608.5 431.0,609.8 424.7,611.3C418.3,612.8 412.8,619.1 406.8,619.1C400.9,619.1 395.0,613.9 389.0,611.3C383.1,608.7 377.5,606.3 371.2,603.5C364.9,600.7 357.5,597.6 351.2,594.6C344.9,591.7 335.6,590.2 333.4,585.7C331.2,581.3 339.0,573.8 337.8,567.9C336.7,562.0 327.2,554.3 326.7,550.1C326.2,545.9 334.3,545.4 335.0,543.0C335.7,540.6 332.7,538.1 331.0,536.0C329.3,533.9 325.0,533.2 325.0,530.6C325.0,528.0 330.7,523.5 331.0,520.6C331.3,517.8 327.6,516.6 326.6,513.5C325.6,510.4 325.5,505.3 325.0,502.0C324.5,498.7 325.2,496.4 323.8,493.6C322.4,490.8 319.1,487.4 316.7,485.0C314.3,482.6 310.6,481.2 309.6,479.0C308.7,476.8 311.3,475.2 311.0,472.0C310.7,468.8 308.7,463.5 308.0,459.5C307.3,455.5 307.7,451.8 306.8,448.0C305.9,444.2 304.2,440.3 302.5,436.8C300.8,433.3 298.2,430.6 296.8,427.0C295.4,423.4 294.2,419.3 294.0,415.5C293.8,411.7 294.0,407.6 295.4,404.0C296.8,400.4 300.1,398.0 302.5,394.0C304.9,390.0 308.0,385.3 309.6,380.0C311.2,374.7 310.4,368.5 312.0,362.0C313.6,355.5 315.7,348.2 319.0,341.0Z" fill="#7e7e7e"/></g>
<g filter="url(#bl5)"><path d="M319.0,341.0C322.3,333.8 327.3,325.7 332.0,319.0C336.7,312.3 341.8,306.2 347.0,301.0C352.2,295.8 356.7,291.3 363.0,288.0C369.3,284.7 377.7,283.3 385.0,281.0C392.3,278.7 399.8,277.8 407.0,274.0C414.2,270.2 417.5,263.3 428.0,258.0C438.5,252.7 454.7,244.5 470.0,242.0C485.3,239.5 505.0,241.7 520.0,243.0C535.0,244.3 546.7,246.8 560.0,250.0C573.3,253.2 588.8,258.5 600.0,262.0C611.2,265.5 617.0,267.2 627.0,271.0C637.0,274.8 650.5,280.7 660.0,285.0C669.5,289.3 675.3,291.3 684.0,297.0C692.7,302.7 704.3,301.8 712.0,319.0C719.7,336.2 728.7,369.8 730.0,400.0C731.3,430.2 725.0,469.2 720.0,500.0C715.0,530.8 708.4,568.1 700.0,585.0C691.6,601.9 676.1,599.3 669.5,601.3C662.9,603.3 664.3,595.7 660.6,596.8C656.9,598.0 652.4,605.6 647.2,608.0C642.1,610.4 634.6,611.3 629.4,611.3C624.2,611.3 619.8,610.0 616.1,608.0C612.4,605.9 610.9,599.4 607.2,599.1C603.5,598.7 598.6,604.3 593.8,605.7C589.0,607.2 582.7,609.1 578.2,608.0C573.8,606.9 570.5,603.5 567.1,599.1C563.8,594.6 561.5,582.0 558.2,581.3C554.9,580.5 550.0,592.0 547.1,594.6C544.1,597.2 542.3,597.6 540.4,596.8C538.5,596.1 538.9,591.3 535.9,590.2C533.0,589.1 526.7,588.3 522.6,590.2C518.5,592.0 515.5,597.4 511.5,601.3C507.4,605.2 499.6,610.2 498.1,613.5C496.6,616.9 502.6,619.3 502.6,621.3C502.6,623.4 500.3,623.2 498.1,625.8C495.9,628.4 491.8,635.8 489.2,636.9C486.6,638.0 485.9,633.2 482.5,632.5C479.2,631.7 472.9,634.7 469.2,632.5C465.5,630.2 462.9,620.6 460.3,619.1C457.7,617.6 455.8,623.2 453.6,623.6C451.4,623.9 448.4,623.6 446.9,621.3C445.4,619.1 448.4,611.9 444.7,610.2C441.0,608.5 431.0,609.8 424.7,611.3C418.3,612.8 412.8,619.1 406.8,619.1C400.9,619.1 395.0,613.9 389.0,611.3C383.1,608.7 377.5,606.3 371.2,603.5C364.9,600.7 357.5,597.6 351.2,594.6C344.9,591.7 335.6,590.2 333.4,585.7C331.2,581.3 339.0,573.8 337.8,567.9C336.7,562.0 327.2,554.3 326.7,550.1C326.2,545.9 334.3,545.4 335.0,543.0C335.7,540.6 332.7,538.1 331.0,536.0C329.3,533.9 325.0,533.2 325.0,530.6C325.0,528.0 330.7,523.5 331.0,520.6C331.3,517.8 327.6,516.6 326.6,513.5C325.6,510.4 325.5,505.3 325.0,502.0C324.5,498.7 325.2,496.4 323.8,493.6C322.4,490.8 319.1,487.4 316.7,485.0C314.3,482.6 310.6,481.2 309.6,479.0C308.7,476.8 311.3,475.2 311.0,472.0C310.7,468.8 308.7,463.5 308.0,459.5C307.3,455.5 307.7,451.8 306.8,448.0C305.9,444.2 304.2,440.3 302.5,436.8C300.8,433.3 298.2,430.6 296.8,427.0C295.4,423.4 294.2,419.3 294.0,415.5C293.8,411.7 294.0,407.6 295.4,404.0C296.8,400.4 300.1,398.0 302.5,394.0C304.9,390.0 308.0,385.3 309.6,380.0C311.2,374.7 310.4,368.5 312.0,362.0C313.6,355.5 315.7,348.2 319.0,341.0Z" fill="#9d9d9d" fill-opacity="0.92"/></g>
<g filter="url(#bl9)"><ellipse cx="650.0" cy="440.0" rx="55.0" ry="110.0" fill="#a5a5a5" transform="rotate(8 650 440)"/><ellipse cx="480.0" cy="416.0" rx="162.0" ry="122.0" fill="#bebebe" transform="rotate(-4 480 416)"/><ellipse cx="476.0" cy="428.0" rx="92.0" ry="102.0" fill="#cccccc"/><path d="M374.0,416.0C375.2,410.2 377.3,391.3 381.5,381.0C385.7,370.7 390.1,362.7 399.0,354.0C407.9,345.3 420.2,333.7 435.0,329.0C449.8,324.3 470.3,325.0 488.0,326.0C505.7,327.0 526.5,332.0 541.0,335.0C555.5,338.0 563.5,339.0 575.0,344.0C586.5,349.0 599.2,355.7 610.0,365.0C620.8,374.3 635.0,394.2 640.0,400.0" fill="none" stroke="#999999" stroke-width="17" stroke-linecap="round" stroke-linejoin="round"/><path d="M420.0,272.0C425.0,270.0 440.0,262.8 450.0,260.0C460.0,257.2 468.3,255.8 480.0,255.0C491.7,254.2 506.7,254.0 520.0,255.0C533.3,256.0 546.7,258.0 560.0,261.0C573.3,264.0 586.7,268.5 600.0,273.0C613.3,277.5 628.3,283.5 640.0,288.0C651.7,292.5 665.0,298.0 670.0,300.0" fill="none" stroke="#a9a9a9" stroke-width="11" stroke-linecap="round" stroke-linejoin="round" stroke-opacity="0.9"/><ellipse cx="430.0" cy="542.0" rx="85.0" ry="16.0" fill="#818181" fill-opacity="0.85" transform="rotate(-4 430 542)"/><ellipse cx="590.0" cy="525.0" rx="50.0" ry="35.0" fill="#898989" fill-opacity="0.8"/></g>
<g filter="url(#bl6)"><ellipse cx="545.0" cy="405.0" rx="60.0" ry="44.0" fill="#d0d0d0" transform="rotate(10 545 405)"/><ellipse cx="473.0" cy="428.0" rx="76.0" ry="88.0" fill="#efefef"/><ellipse cx="520.0" cy="415.0" rx="40.0" ry="50.0" fill="#e7e7e7" transform="rotate(20 520 415)"/></g>
<g filter="url(#bl3)"><path d="M192.0,176.6 L198.5,166.8 L204.0,170.1 L207.3,175.5 L213.8,179.9 L211.7,186.5 L202.9,184.3 L194.1,185.4Z" fill="#8d8d8d" fill-opacity="0.95"/><path d="M218.2,179.9 L222.6,181.0 L225.9,189.8 L223.7,194.1 L219.3,189.8Z" fill="#8d8d8d" fill-opacity="0.95"/><path d="M198.5,229.2 L205.1,225.9 L218.2,227.0 L224.8,222.6 L229.2,227.0 L227.0,235.7 L231.4,240.1 L248.9,231.4 L262.0,227.0 L275.1,220.4 L286.1,213.8 L297.0,207.3 L310.2,202.9 L318.9,198.5 L314.6,209.5 L301.4,216.0 L292.7,222.6 L275.1,231.4 L262.0,240.1 L253.3,246.7 L240.1,251.1 L231.4,253.3 L224.8,262.0 L222.6,273.0 L231.4,275.1 L240.1,281.7 L237.9,290.5 L229.2,290.5 L222.6,286.1 L218.2,292.7 L222.6,303.6 L231.4,308.0 L227.0,318.9 L218.2,321.1 L222.6,329.9 L231.4,338.6 L229.2,347.4 L240.1,354.0 L253.3,361.6 L257.6,366.0 L248.9,368.2 L235.7,366.0 L227.0,371.5 L225.9,384.6 L228.1,395.6 L225.9,408.7 L219.3,406.5 L216.0,393.4 L209.5,384.6 L202.9,378.0 L194.1,382.4 L192.0,375.9 L198.5,369.3 L207.3,362.7 L206.2,351.8 L198.5,340.8 L202.9,332.1 L196.3,325.5 L202.9,314.6 L198.5,303.6 L205.1,297.0 L196.3,288.3 L190.9,286.1 L198.5,279.5 L202.9,268.6 L196.3,262.0 L202.9,253.3 L198.5,242.3Z" fill="#8d8d8d" fill-opacity="0.95"/><path d="M334.3,202.9 L333.2,196.3 L340.8,192.0 L351.8,187.6 L364.9,183.2 L363.8,186.5 L354.0,192.0 L343.0,197.4 L336.4,205.1Z" fill="#8d8d8d" fill-opacity="0.95"/><path d="M335.4,278.4 L340.8,275.1 L351.8,273.0 L362.7,262.0 L369.3,251.1 L366.0,240.1 L375.9,233.5 L391.2,231.4 L402.1,219.3 L410.9,213.8 L419.6,216.0 L424.0,222.6 L421.8,231.4 L415.3,240.1 L406.5,244.5 L410.9,251.1 L424.0,244.5 L428.4,253.3 L428.4,262.0 L406.5,266.4 L391.2,268.6 L382.4,275.1 L371.5,279.5 L360.5,286.1 L356.2,292.7 L343.0,290.5 L336.4,286.1Z" fill="#8d8d8d" fill-opacity="0.95"/><path d="M264.2,281.7 L268.6,276.2 L273.0,286.1 L270.8,297.0 L265.3,300.3 L262.0,292.7Z" fill="#8d8d8d" fill-opacity="0.95"/><path d="M290.5,313.5 L295.9,309.1 L298.1,318.9 L294.9,327.7 L290.5,323.3Z" fill="#8d8d8d" fill-opacity="0.95"/><path d="M310.2,204.0 L318.9,202.5 L315.6,209.5 L310.6,209.0Z" fill="#8d8d8d" fill-opacity="0.95"/><path d="M241.7,527.5 L246.2,516.2 L255.2,519.6 L261.9,525.2 L267.5,534.2 L272.0,543.2 L276.5,551.1 L268.7,549.9 L261.9,548.8 L257.4,543.2 L250.7,538.7 L243.9,536.5Z" fill="#8d8d8d" fill-opacity="0.95"/><path d="M275.4,469.0 L282.1,463.4 L293.4,466.7 L302.4,473.5 L311.4,480.2 L322.6,489.2 L327.1,500.5 L329.4,514.0 L322.6,518.5 L315.9,507.2 L309.1,498.2 L300.1,489.2 L291.1,482.5 L282.1,478.0Z" fill="#8d8d8d" fill-opacity="0.95"/><path d="M202.9,231.4 L218.2,230.3 L222.6,240.1 L220.4,251.1 L209.5,257.6 L202.9,248.9Z" fill="#a5a5a5" fill-opacity="0.95"/><path d="M233.5,244.5 L248.9,235.7 L266.4,229.2 L281.7,221.5 L292.7,218.2 L288.3,223.7 L273.0,233.5 L257.6,242.3 L242.3,250.0Z" fill="#a5a5a5" fill-opacity="0.95"/><path d="M198.5,288.3 L213.8,286.1 L222.6,292.7 L218.2,297.0 L205.1,294.9Z" fill="#a5a5a5" fill-opacity="0.95"/><path d="M209.5,349.6 L222.6,347.4 L229.2,358.3 L235.7,362.7 L224.8,369.3 L221.5,384.6 L222.6,402.1 L218.2,404.3 L213.8,391.2 L209.5,373.7 L211.7,362.7Z" fill="#a5a5a5" fill-opacity="0.95"/><path d="M202.9,303.6 L213.8,305.8 L222.6,310.2 L216.0,316.7 L207.3,314.6Z" fill="#a5a5a5" fill-opacity="0.95"/><path d="M205.1,323.3 L218.2,325.5 L213.8,332.1 L207.3,329.9Z" fill="#a5a5a5" fill-opacity="0.95"/><path d="M366.0,242.3 L375.9,237.9 L389.0,240.1 L404.3,224.8 L415.3,220.4 L418.5,227.0 L410.9,235.7 L402.1,244.5 L391.2,253.3 L380.2,262.0 L369.3,266.4 L362.7,275.1 L354.0,277.3 L360.5,266.4 L367.1,255.4Z" fill="#a5a5a5" fill-opacity="0.95"/><path d="M194.1,178.8 L202.9,176.6 L209.5,181.0 L202.9,183.2Z" fill="#a5a5a5" fill-opacity="0.95"/><path d="M337.5,199.6 L347.4,193.0 L358.3,187.6 L351.8,193.0 L340.8,199.6Z" fill="#a5a5a5" fill-opacity="0.95"/><ellipse cx="369.0" cy="233.5" rx="11.0" ry="4.0" fill="#898989" fill-opacity="0.9" transform="rotate(-30 369 234)"/><ellipse cx="424.0" cy="128.5" rx="13.0" ry="4.0" fill="#818181" fill-opacity="0.9" transform="rotate(-35 424 128)"/><ellipse cx="406.5" cy="148.0" rx="13.0" ry="4.0" fill="#898989" fill-opacity="0.9" transform="rotate(-35 406 148)"/><ellipse cx="432.8" cy="122.0" rx="9.0" ry="4.0" fill="#898989" fill-opacity="0.9" transform="rotate(-35 433 122)"/><ellipse cx="428.4" cy="165.7" rx="11.0" ry="4.0" fill="#818181" fill-opacity="0.9" transform="rotate(-35 428 166)"/><ellipse cx="455.0" cy="140.0" rx="11.0" ry="4.0" fill="#818181" fill-opacity="0.9" transform="rotate(-35 455 140)"/><ellipse cx="300.0" cy="228.0" rx="7.0" ry="4.0" fill="#898989" fill-opacity="0.9" transform="rotate(-30 300 228)"/><ellipse cx="366.7" cy="548.8" rx="8.0" ry="8.0" fill="#b1b1b1" fill-opacity="0.9"/><ellipse cx="381.5" cy="572.5" rx="10.0" ry="8.0" fill="#b8b8b8" fill-opacity="0.9"/><ellipse cx="340.0" cy="587.0" rx="4.0" ry="3.0" fill="#a9a9a9" fill-opacity="0.9"/><ellipse cx="378.6" cy="602.0" rx="14.0" ry="7.0" fill="#bcbcbc" fill-opacity="0.9" transform="rotate(10 379 602)"/><ellipse cx="411.0" cy="603.6" rx="14.0" ry="9.0" fill="#c0c0c0" fill-opacity="0.9"/><ellipse cx="579.7" cy="581.4" rx="16.0" ry="24.0" fill="#b1b1b1" fill-opacity="0.9" transform="rotate(10 580 581)"/><ellipse cx="641.9" cy="568.0" rx="5.0" ry="4.0" fill="#d0d0d0" fill-opacity="0.9"/><ellipse cx="659.6" cy="572.5" rx="11.0" ry="24.0" fill="#bcbcbc" fill-opacity="0.9" transform="rotate(8 660 572)"/><ellipse cx="662.6" cy="510.0" rx="13.0" ry="34.0" fill="#b8b8b8" fill-opacity="0.9" transform="rotate(-12 663 510)"/><ellipse cx="582.7" cy="528.0" rx="7.0" ry="14.0" fill="#a9a9a9" fill-opacity="0.9" transform="rotate(15 583 528)"/><ellipse cx="636.0" cy="347.6" rx="10.0" ry="5.0" fill="#bcbcbc" fill-opacity="0.9" transform="rotate(15 636 348)"/><ellipse cx="634.5" cy="358.0" rx="6.0" ry="4.0" fill="#c0c0c0" fill-opacity="0.9"/><ellipse cx="633.0" cy="313.6" rx="18.0" ry="5.0" fill="#b1b1b1" fill-opacity="0.9" transform="rotate(10 633 314)"/><ellipse cx="461.4" cy="278.0" rx="8.0" ry="5.0" fill="#c0c0c0" fill-opacity="0.9"/><ellipse cx="511.7" cy="288.5" rx="3.0" ry="3.0" fill="#c0c0c0" fill-opacity="0.9"/><ellipse cx="335.7" cy="294.4" rx="3.0" ry="3.0" fill="#b8b8b8" fill-opacity="0.9"/><ellipse cx="328.0" cy="311.5" rx="3.0" ry="3.0" fill="#b8b8b8" fill-opacity="0.9"/><path d="M371.2,541.2C373.8,540.5 383.1,542.7 389.0,543.4C395.0,544.2 400.9,545.1 406.8,545.6C412.8,546.2 418.7,546.2 424.7,546.8C430.6,547.3 437.3,549.2 442.5,549.0C447.7,548.8 451.4,546.6 455.8,545.6C460.3,544.7 464.7,544.7 469.2,543.4C473.6,542.1 478.1,539.7 482.5,537.9C487.0,536.0 491.8,534.0 495.9,532.3C500.0,530.6 504.0,527.5 507.0,527.8C510.0,528.2 513.3,531.9 513.7,534.5C514.1,537.1 511.8,540.8 509.2,543.4C506.6,546.0 502.2,547.9 498.1,550.1C494.0,552.3 488.5,554.6 484.8,556.8C481.0,559.0 479.2,560.5 475.8,563.5C472.5,566.4 468.1,570.9 464.7,574.6C461.4,578.3 458.0,583.5 455.8,585.7C453.6,587.9 451.4,589.4 451.4,587.9C451.4,586.5 453.6,580.5 455.8,576.8C458.0,573.1 464.7,567.9 464.7,565.7C464.7,563.5 458.8,563.6 455.8,563.5C452.8,563.3 450.6,564.8 446.9,564.6C443.2,564.4 438.7,562.9 433.6,562.3C428.4,561.8 421.7,562.2 415.7,561.2C409.8,560.3 403.1,558.4 397.9,556.8C392.7,555.1 388.7,552.7 384.6,551.2C380.5,549.7 375.7,549.5 373.5,547.9C371.2,546.2 368.6,541.9 371.2,541.2Z" fill="#7a7a7a" fill-opacity="0.9"/><path d="M533.7,514.5C532.1,516.7 530.4,523.4 529.3,527.8C528.2,532.3 526.3,536.7 527.0,541.2C527.8,545.6 531.5,551.6 533.7,554.6C535.9,557.5 538.5,560.1 540.4,559.0C542.3,557.9 544.5,552.0 544.9,547.9C545.2,543.8 543.2,538.6 542.6,534.5C542.1,530.4 542.1,526.7 541.5,523.4C541.0,520.1 540.6,516.0 539.3,514.5C538.0,513.0 535.4,512.3 533.7,514.5Z" fill="#7a7a7a" fill-opacity="0.9"/><path d="M455.8,601.3C456.2,604.3 461.0,608.2 464.7,610.2C468.4,612.2 473.3,613.4 478.1,613.5C482.9,613.7 488.8,613.4 493.7,611.3C498.5,609.3 504.0,605.2 507.0,601.3C510.0,597.4 509.2,591.7 511.5,587.9C513.7,584.2 517.4,583.1 520.4,579.0C523.3,575.0 528.2,567.5 529.3,563.5C530.4,559.4 528.9,555.7 527.0,554.6C525.2,553.4 521.5,555.3 518.1,556.8C514.8,558.3 510.7,562.0 507.0,563.5C503.3,564.9 500.0,563.8 495.9,565.7C491.8,567.5 486.2,571.6 482.5,574.6C478.8,577.6 477.0,580.5 473.6,583.5C470.3,586.5 465.5,589.4 462.5,592.4C459.5,595.4 455.4,598.3 455.8,601.3Z" fill="#b8b8b8" fill-opacity="0.9"/><path d="M597.2,643.6C597.5,640.3 600.3,635.4 602.7,632.5C605.1,629.5 609.4,626.2 611.6,625.8C613.9,625.4 616.1,627.3 616.1,630.2C616.1,633.2 613.1,639.7 611.6,643.6C610.1,647.5 609.0,652.1 607.2,653.6C605.3,655.1 602.2,654.2 600.5,652.5C598.8,650.8 596.8,646.9 597.2,643.6Z" fill="#7e7e7e" fill-opacity="0.9"/><path d="M645.0,641.4C644.5,639.1 645.0,633.2 646.1,630.2C647.2,627.3 650.4,623.6 651.7,623.6C653.0,623.6 654.3,626.9 653.9,630.2C653.6,633.6 651.0,641.7 649.5,643.6C648.0,645.4 645.6,643.6 645.0,641.4Z" fill="#7e7e7e" fill-opacity="0.9"/><path d="M523.7,612.4C523.0,611.1 527.6,604.6 529.3,604.6C530.9,604.7 534.7,611.6 533.7,612.9C532.8,614.2 524.4,613.8 523.7,612.4Z" fill="#7e7e7e" fill-opacity="0.9"/></g></g><g filter="url(#bl1_9)"><ellipse cx="454.5" cy="456.5" rx="14.0" ry="14.0" fill="#767676"/><ellipse cx="454.5" cy="456.5" rx="9.0" ry="9.5" fill="#1d1d1d"/></g></g></g>
<g stroke="#fff" stroke-width="2.1" stroke-dasharray="2.1 3.45" fill="none"><path d="M191.0,829.5V101.5"/><path d="M336.8,829.5V101.5"/><path d="M482.0,829.5V101.5"/><path d="M627.9,829.5V101.5"/><path d="M773.0,829.5V101.5"/><path d="M104.7,128.1H833.3"/><path d="M104.7,273.7H833.3"/><path d="M104.7,419.1H833.3"/><path d="M104.7,564.7H833.3"/><path d="M104.7,710.3H833.3"/></g>
</g><rect x="104.7" y="101.5" width="728.6" height="728" fill="none" stroke="#000" stroke-width="2.6"/></g>
<defs><linearGradient id="cbL" x1="0" y1="0" x2="0" y2="1"><stop offset="0" stop-color="#000"/><stop offset="1" stop-color="#fff"/></linearGradient>
<linearGradient id="cbR" x1="0" y1="0" x2="0" y2="1">
<stop offset="0.0000" stop-color="#ffffff"/>
<stop offset="0.3333" stop-color="#ffffff"/>
<stop offset="0.3333" stop-color="#60186e"/>
<stop offset="0.3667" stop-color="#463ca0"/>
<stop offset="0.4000" stop-color="#2855cd"/>
<stop offset="0.4267" stop-color="#057dff"/>
<stop offset="0.4667" stop-color="#3ca5ff"/>
<stop offset="0.5000" stop-color="#64dcff"/>
<stop offset="0.5167" stop-color="#7affff"/>
<stop offset="0.5333" stop-color="#7affcd"/>
<stop offset="0.5667" stop-color="#7dff7d"/>
<stop offset="0.5867" stop-color="#c8ff70"/>
<stop offset="0.6067" stop-color="#ffff7a"/>
<stop offset="0.6333" stop-color="#ffd75a"/>
<stop offset="0.6667" stop-color="#ffa528"/>
<stop offset="0.6933" stop-color="#ff8000"/>
<stop offset="0.7200" stop-color="#de600a"/>
<stop offset="0.7467" stop-color="#be460a"/>
<stop offset="0.7733" stop-color="#961e05"/>
<stop offset="0.7967" stop-color="#800000"/>
<stop offset="1.0000" stop-color="#800000"/>
</linearGradient></defs>
<rect x="839" y="101.3" width="15.6" height="728" fill="url(#cbL)" stroke="#000" stroke-width="1.2"/>
<rect x="1714.4" y="101.3" width="15.2" height="728" fill="url(#cbR)" stroke="#000" stroke-width="1.2"/>
<text x="104.5" y="51.2" font-size="25.5" text-anchor="start" fill="#000" textLength="470.0" lengthAdjust="spacingAndGlyphs">GOES-19 BAND14-DIAS MESOSCALE</text>
<text x="104.5" y="80.5" font-size="25.5" text-anchor="start" fill="#000" textLength="373.0" lengthAdjust="spacingAndGlyphs">Time: 2025/09/28 03:57:53Z</text>
<text x="1706.3" y="38.6" font-size="17" text-anchor="end" fill="#000" textLength="357.6" lengthAdjust="spacingAndGlyphs">[dmax, dmin](BAND14)=(18.63, -76.033)</text>
<text x="1706.3" y="59.9" font-size="17" text-anchor="end" fill="#000" textLength="342.5" lengthAdjust="spacingAndGlyphs">[dmax, dmin](AWV)=(-23.595, -75.208)</text>
<text x="1705.8" y="80.9" font-size="17" text-anchor="end" fill="#000" textLength="274.0" lengthAdjust="spacingAndGlyphs">08L.HUMBERTO | 140kt, 924mb</text>
<text x="96.5" y="132.4" font-size="12.6" text-anchor="end" fill="#000" textLength="34.0" lengthAdjust="spacingAndGlyphs">28°N</text>
<text x="96.5" y="278.0" font-size="12.6" text-anchor="end" fill="#000" textLength="34.0" lengthAdjust="spacingAndGlyphs">26°N</text>
<text x="96.5" y="423.4" font-size="12.6" text-anchor="end" fill="#000" textLength="34.0" lengthAdjust="spacingAndGlyphs">24°N</text>
<text x="96.5" y="569.0" font-size="12.6" text-anchor="end" fill="#000" textLength="34.0" lengthAdjust="spacingAndGlyphs">22°N</text>
<text x="96.5" y="714.6" font-size="12.6" text-anchor="end" fill="#000" textLength="34.0" lengthAdjust="spacingAndGlyphs">20°N</text>
<text x="191.0" y="851.3" font-size="12.6" text-anchor="middle" fill="#000" textLength="37.5" lengthAdjust="spacingAndGlyphs">66°W</text>
<text x="336.8" y="851.3" font-size="12.6" text-anchor="middle" fill="#000" textLength="37.5" lengthAdjust="spacingAndGlyphs">64°W</text>
<text x="482.0" y="851.3" font-size="12.6" text-anchor="middle" fill="#000" textLength="37.5" lengthAdjust="spacingAndGlyphs">62°W</text>
<text x="627.9" y="851.3" font-size="12.6" text-anchor="middle" fill="#000" textLength="37.5" lengthAdjust="spacingAndGlyphs">60°W</text>
<text x="773.0" y="851.3" font-size="12.6" text-anchor="middle" fill="#000" textLength="37.5" lengthAdjust="spacingAndGlyphs">58°W</text>
<text x="971.5" y="132.4" font-size="12.6" text-anchor="end" fill="#000" textLength="34.0" lengthAdjust="spacingAndGlyphs">28°N</text>
<text x="971.5" y="278.0" font-size="12.6" text-anchor="end" fill="#000" textLength="34.0" lengthAdjust="spacingAndGlyphs">26°N</text>
<text x="971.5" y="423.4" font-size="12.6" text-anchor="end" fill="#000" textLength="34.0" lengthAdjust="spacingAndGlyphs">24°N</text>
<text x="971.5" y="569.0" font-size="12.6" text-anchor="end" fill="#000" textLength="34.0" lengthAdjust="spacingAndGlyphs">22°N</text>
<text x="971.5" y="714.6" font-size="12.6" text-anchor="end" fill="#000" textLength="34.0" lengthAdjust="spacingAndGlyphs">20°N</text>
<text x="1066.0" y="851.3" font-size="12.6" text-anchor="middle" fill="#000" textLength="37.5" lengthAdjust="spacingAndGlyphs">66°W</text>
<text x="1211.8" y="851.3" font-size="12.6" text-anchor="middle" fill="#000" textLength="37.5" lengthAdjust="spacingAndGlyphs">64°W</text>
<text x="1357.0" y="851.3" font-size="12.6" text-anchor="middle" fill="#000" textLength="37.5" lengthAdjust="spacingAndGlyphs">62°W</text>
<text x="1502.9" y="851.3" font-size="12.6" text-anchor="middle" fill="#000" textLength="37.5" lengthAdjust="spacingAndGlyphs">60°W</text>
<text x="1648.0" y="851.3" font-size="12.6" text-anchor="middle" fill="#000" textLength="37.5" lengthAdjust="spacingAndGlyphs">58°W</text>
<text x="861.5" y="162.0" font-size="17" text-anchor="start" fill="#000" textLength="19.7" lengthAdjust="spacingAndGlyphs">40</text>
<text x="861.5" y="216.0" font-size="17" text-anchor="start" fill="#000" textLength="19.7" lengthAdjust="spacingAndGlyphs">30</text>
<text x="861.5" y="270.0" font-size="17" text-anchor="start" fill="#000" textLength="19.7" lengthAdjust="spacingAndGlyphs">20</text>
<text x="861.5" y="324.0" font-size="17" text-anchor="start" fill="#000" textLength="19.7" lengthAdjust="spacingAndGlyphs">10</text>
<text x="861.5" y="378.0" font-size="17" text-anchor="start" fill="#000" textLength="9.5" lengthAdjust="spacingAndGlyphs">0</text>
<text x="861.5" y="432.0" font-size="17" text-anchor="start" fill="#000" textLength="33.5" lengthAdjust="spacingAndGlyphs">−10</text>
<text x="861.5" y="486.0" font-size="17" text-anchor="start" fill="#000" textLength="33.5" lengthAdjust="spacingAndGlyphs">−20</text>
<text x="861.5" y="540.0" font-size="17" text-anchor="start" fill="#000" textLength="33.5" lengthAdjust="spacingAndGlyphs">−30</text>
<text x="861.5" y="594.0" font-size="17" text-anchor="start" fill="#000" textLength="33.5" lengthAdjust="spacingAndGlyphs">−40</text>
<text x="861.5" y="648.0" font-size="17" text-anchor="start" fill="#000" textLength="33.5" lengthAdjust="spacingAndGlyphs">−50</text>
<text x="861.5" y="702.0" font-size="17" text-anchor="start" fill="#000" textLength="33.5" lengthAdjust="spacingAndGlyphs">−60</text>
<text x="861.5" y="756.0" font-size="17" text-anchor="start" fill="#000" textLength="33.5" lengthAdjust="spacingAndGlyphs">−70</text>
<text x="861.5" y="810.0" font-size="17" text-anchor="start" fill="#000" textLength="33.5" lengthAdjust="spacingAndGlyphs">−80</text>
<text x="1736.6" y="157.2" font-size="17" text-anchor="start" fill="#000" textLength="19.7" lengthAdjust="spacingAndGlyphs">40</text>
<text x="1736.6" y="205.8" font-size="17" text-anchor="start" fill="#000" textLength="19.7" lengthAdjust="spacingAndGlyphs">30</text>
<text x="1736.6" y="254.3" font-size="17" text-anchor="start" fill="#000" textLength="19.7" lengthAdjust="spacingAndGlyphs">20</text>
<text x="1736.6" y="302.9" font-size="17" text-anchor="start" fill="#000" textLength="19.7" lengthAdjust="spacingAndGlyphs">10</text>
<text x="1736.6" y="351.4" font-size="17" text-anchor="start" fill="#000" textLength="9.5" lengthAdjust="spacingAndGlyphs">0</text>
<text x="1736.6" y="400.0" font-size="17" text-anchor="start" fill="#000" textLength="33.5" lengthAdjust="spacingAndGlyphs">−10</text>
<text x="1736.6" y="448.5" font-size="17" text-anchor="start" fill="#000" textLength="33.5" lengthAdjust="spacingAndGlyphs">−20</text>
<text x="1736.6" y="497.1" font-size="17" text-anchor="start" fill="#000" textLength="33.5" lengthAdjust="spacingAndGlyphs">−30</text>
<text x="1736.6" y="545.6" font-size="17" text-anchor="start" fill="#000" textLength="33.5" lengthAdjust="spacingAndGlyphs">−40</text>
<text x="1736.6" y="594.2" font-size="17" text-anchor="start" fill="#000" textLength="33.5" lengthAdjust="spacingAndGlyphs">−50</text>
<text x="1736.6" y="642.7" font-size="17" text-anchor="start" fill="#000" textLength="33.5" lengthAdjust="spacingAndGlyphs">−60</text>
<text x="1736.6" y="691.3" font-size="17" text-anchor="start" fill="#000" textLength="33.5" lengthAdjust="spacingAndGlyphs">−70</text>
<text x="1736.6" y="739.8" font-size="17" text-anchor="start" fill="#000" textLength="33.5" lengthAdjust="spacingAndGlyphs">−80</text>
<text x="1736.6" y="788.4" font-size="17" text-anchor="start" fill="#000" textLength="33.5" lengthAdjust="spacingAndGlyphs">−90</text>
<text x="849.0" y="93.8" font-size="17" text-anchor="start" fill="#000" textLength="18.5" lengthAdjust="spacingAndGlyphs">°C</text>
<text x="1724.3" y="93.8" font-size="17" text-anchor="start" fill="#000" textLength="18.5" lengthAdjust="spacingAndGlyphs">°C</text>
<path d="M135.6,1260.9 L152.0,1260.9 L168.3,1260.9 L184.7,1260.9 L201.1,1260.9 L217.4,1246.7 L233.8,1246.7 L250.2,1232.6 L266.6,1232.6 L282.9,1218.4 L299.3,1204.2 L315.7,1204.2 L332.0,1204.2 L348.4,1175.8 L364.8,1161.7 L381.1,1133.3 L397.5,1104.9 L413.9,1048.2 L430.3,977.3 L446.6,949.0 L463.0,949.0 L479.4,934.8 L495.7,920.6" fill="none" stroke="#0000ff" stroke-width="5.2" stroke-linejoin="round"/>
<path d="M496.3,919.6 L528.5,919.6 L540.0,924.5 L588.5,946.8 L599.5,954.6 L610.3,963.9 L630.3,981.9 L651.6,1000.2 L672.4,1018.2 L682.4,1027.7 L692.9,1035.7 L705.4,1040.7 L734.2,1040.7 L747.3,1044.8 L758.5,1051.5 L768.6,1060.3 L781.8,1062.0 L796.9,1062.0 L808.1,1066.5 L821.5,1078.5" fill="none" stroke="#0000ff" stroke-width="5.2" stroke-dasharray="5.2 8.6" stroke-dashoffset="0"/>
<rect x="113.7" y="912.9" width="279.7" height="62.1" rx="4" fill="#fff" fill-opacity="0.8" stroke="#ccc" stroke-width="2.6"/>
<path d="M119,928.2H162.3" stroke="#0000ff" stroke-width="5.2"/>
<path d="M121.5,956.4H162.3" stroke="#0000ff" stroke-width="5.2" stroke-dasharray="5.2 8.6"/>
<text x="175.3" y="935.7" font-size="19" text-anchor="start" fill="#000" textLength="155.8" lengthAdjust="spacingAndGlyphs">Wind[max=140]</text>
<text x="175.3" y="963.5" font-size="19" text-anchor="start" fill="#000" textLength="208.4" lengthAdjust="spacingAndGlyphs">Wind Fore.[max=140]</text>
<path d="M135.6,920.5 L152.0,920.5 L168.3,920.5 L184.7,920.5 L201.1,920.5 L217.4,924.5 L233.8,924.5 L250.2,924.5 L266.6,924.5 L282.9,930.7 L299.3,935.4 L315.7,935.4 L332.0,940.1 L348.4,963.6 L364.8,971.4 L381.1,1002.8 L397.5,1034.1 L413.9,1096.7 L430.3,1190.7 L446.6,1222.0 L463.0,1222.0 L479.4,1241.6 L495.7,1261.1" fill="none" stroke="#1f77b4" stroke-width="5.2" stroke-linejoin="round"/>
<rect x="625.6" y="912.3" width="219.1" height="34.3" rx="4" fill="#fff" fill-opacity="0.8" stroke="#ccc" stroke-width="2.6"/>
<path d="M630.8,928.3H674.1" stroke="#1f77b4" stroke-width="5.2"/>
<text x="687.9" y="935.8" font-size="19" text-anchor="start" fill="#000" textLength="147.8" lengthAdjust="spacingAndGlyphs">Pres.[min=924]</text>
<path d="M135.6,1636.7 L152.0,1636.7 L168.3,1636.7 L184.7,1636.7 L201.1,1636.7 L217.4,1636.7 L233.8,1636.7 L250.2,1636.7 L266.6,1636.7 L282.9,1635.6 L299.3,1634.1 L315.7,1632.6 L332.0,1631.1 L348.4,1628.7 L364.8,1625.9 L381.1,1621.9 L397.5,1616.7 L413.9,1608.2 L430.3,1594.8 L446.6,1579.0 L463.0,1563.2 L479.4,1546.1 L495.7,1527.8" fill="none" stroke="#008000" stroke-width="5.2" stroke-linejoin="round"/>
<path d="M495.7,1527.8 L522.9,1498.4 L561.0,1454.0 L590.6,1424.4 L622.3,1396.9 L654.0,1373.6 L690.0,1352.5 L725.9,1332.6 L764.0,1312.3 L793.6,1297.5 L804.2,1294.7 L819.0,1294.7" fill="none" stroke="#008000" stroke-width="5.2" stroke-dasharray="5.2 8.6"/>
<rect x="114.2" y="1288" width="311.8" height="61.7" rx="4" fill="#fff" fill-opacity="0.8" stroke="#ccc" stroke-width="2.6"/>
<path d="M119,1303.8H162.3" stroke="#008000" stroke-width="5.2"/>
<path d="M121.5,1332.6H162.3" stroke="#008000" stroke-width="5.2" stroke-dasharray="5.2 8.6"/>
<text x="174.6" y="1311.3" font-size="19" text-anchor="start" fill="#000" textLength="175.5" lengthAdjust="spacingAndGlyphs">ACE[max=11.645]</text>
<text x="174.6" y="1339.4" font-size="19" text-anchor="start" fill="#000" textLength="242.9" lengthAdjust="spacingAndGlyphs">ACE Fore.[max=36.5456]</text>
<rect x="104.7" y="903.5" width="750" height="750" fill="none" stroke="#000" stroke-width="3.1"/>
<path d="M104.7,1278H854.7" stroke="#000" stroke-width="3.3"/>
<path d="M92.7,1260.9H103.5" stroke="#000" stroke-width="3.1"/>
<text x="77.3" y="1265.3" font-size="12.3" text-anchor="end" fill="#000" textLength="15.5" lengthAdjust="spacingAndGlyphs">20</text>
<path d="M92.7,1204.2H103.5" stroke="#000" stroke-width="3.1"/>
<text x="77.3" y="1208.6" font-size="12.3" text-anchor="end" fill="#000" textLength="15.5" lengthAdjust="spacingAndGlyphs">40</text>
<path d="M92.7,1147.5H103.5" stroke="#000" stroke-width="3.1"/>
<text x="77.3" y="1151.9" font-size="12.3" text-anchor="end" fill="#000" textLength="15.5" lengthAdjust="spacingAndGlyphs">60</text>
<path d="M92.7,1090.8H103.5" stroke="#000" stroke-width="3.1"/>
<text x="77.3" y="1095.2" font-size="12.3" text-anchor="end" fill="#000" textLength="15.5" lengthAdjust="spacingAndGlyphs">80</text>
<path d="M92.7,1034.0H103.5" stroke="#000" stroke-width="3.1"/>
<text x="77.3" y="1038.4" font-size="12.3" text-anchor="end" fill="#000" textLength="23.4" lengthAdjust="spacingAndGlyphs">100</text>
<path d="M92.7,977.3H103.5" stroke="#000" stroke-width="3.1"/>
<text x="77.3" y="981.7" font-size="12.3" text-anchor="end" fill="#000" textLength="23.4" lengthAdjust="spacingAndGlyphs">120</text>
<path d="M92.7,920.6H103.5" stroke="#000" stroke-width="3.1"/>
<text x="77.3" y="925.0" font-size="12.3" text-anchor="end" fill="#000" textLength="23.4" lengthAdjust="spacingAndGlyphs">140</text>
<path d="M92.7,1636.7H103.5" stroke="#000" stroke-width="3.1"/>
<text x="78.1" y="1641.1" font-size="12.3" text-anchor="end" fill="#000" textLength="7.3" lengthAdjust="spacingAndGlyphs">0</text>
<path d="M92.7,1589.9H103.5" stroke="#000" stroke-width="3.1"/>
<text x="78.1" y="1594.3" font-size="12.3" text-anchor="end" fill="#000" textLength="7.3" lengthAdjust="spacingAndGlyphs">5</text>
<path d="M92.7,1543.2H103.5" stroke="#000" stroke-width="3.1"/>
<text x="78.1" y="1547.6" font-size="12.3" text-anchor="end" fill="#000" textLength="15.5" lengthAdjust="spacingAndGlyphs">10</text>
<path d="M92.7,1496.4H103.5" stroke="#000" stroke-width="3.1"/>
<text x="78.1" y="1500.8" font-size="12.3" text-anchor="end" fill="#000" textLength="15.5" lengthAdjust="spacingAndGlyphs">15</text>
<path d="M92.7,1449.6H103.5" stroke="#000" stroke-width="3.1"/>
<text x="78.1" y="1454.0" font-size="12.3" text-anchor="end" fill="#000" textLength="15.5" lengthAdjust="spacingAndGlyphs">20</text>
<path d="M92.7,1402.9H103.5" stroke="#000" stroke-width="3.1"/>
<text x="78.1" y="1407.3" font-size="12.3" text-anchor="end" fill="#000" textLength="15.5" lengthAdjust="spacingAndGlyphs">25</text>
<path d="M92.7,1356.1H103.5" stroke="#000" stroke-width="3.1"/>
<text x="78.1" y="1360.5" font-size="12.3" text-anchor="end" fill="#000" textLength="15.5" lengthAdjust="spacingAndGlyphs">30</text>
<path d="M92.7,1309.3H103.5" stroke="#000" stroke-width="3.1"/>
<text x="78.1" y="1313.7" font-size="12.3" text-anchor="end" fill="#000" textLength="15.5" lengthAdjust="spacingAndGlyphs">35</text>
<path d="M856,1276.8H867" stroke="#000" stroke-width="3.1"/>
<text x="879.0" y="1281.2" font-size="12.3" text-anchor="start" fill="#000" textLength="23.4" lengthAdjust="spacingAndGlyphs">920</text>
<path d="M856,1198.5H867" stroke="#000" stroke-width="3.1"/>
<text x="879.0" y="1202.9" font-size="12.3" text-anchor="start" fill="#000" textLength="23.4" lengthAdjust="spacingAndGlyphs">940</text>
<path d="M856,1120.2H867" stroke="#000" stroke-width="3.1"/>
<text x="879.0" y="1124.6" font-size="12.3" text-anchor="start" fill="#000" textLength="23.4" lengthAdjust="spacingAndGlyphs">960</text>
<path d="M856,1041.9H867" stroke="#000" stroke-width="3.1"/>
<text x="879.0" y="1046.3" font-size="12.3" text-anchor="start" fill="#000" textLength="23.4" lengthAdjust="spacingAndGlyphs">980</text>
<path d="M856,963.6H867" stroke="#000" stroke-width="3.1"/>
<text x="879.0" y="968.0" font-size="12.3" text-anchor="start" fill="#000" textLength="31.3" lengthAdjust="spacingAndGlyphs">1000</text>
<text x="34.5" y="1092.0" font-size="12.3" text-anchor="middle" fill="#000" textLength="28.0" lengthAdjust="spacingAndGlyphs" transform="rotate(-90 34.5 1092.0)">Wind</text>
<text x="44.0" y="1466.0" font-size="12.3" text-anchor="middle" fill="#000" textLength="24.0" lengthAdjust="spacingAndGlyphs" transform="rotate(-90 44.0 1466.0)">ACE</text>
<text x="938.0" y="1092.0" font-size="12.3" text-anchor="middle" fill="#000" textLength="51.0" lengthAdjust="spacingAndGlyphs" transform="rotate(-90 938.0 1092.0)">Pressure</text>
<text x="479.0" y="881.3" font-size="21.3" text-anchor="middle" fill="#000" textLength="318.0" lengthAdjust="spacingAndGlyphs">Wind / Pres. / ACE Diagnosis</text>
<clipPath id="cpP"><rect x="979.7" y="903.5" width="750" height="750"/></clipPath>
<g clip-path="url(#cpP)"><g transform="matrix(15.54,-0.2535,-1.72,15.61,1193.6,1165.4)" shape-rendering="crispEdges">
<rect x="1" y="-11" width="3.06" height="1.05" fill="#000"/>
<rect x="-2" y="-10" width="12.05" height="1.05" fill="#000"/>
<rect x="11" y="-10" width="1.05" height="1.05" fill="#000"/>
<rect x="-4" y="-9" width="17.05" height="1.05" fill="#000"/>
<rect x="-7" y="-8" width="21.05" height="1.05" fill="#000"/>
<rect x="-2" y="-8" width="8.05" height="1.05" fill="#a0a0a0"/>
<rect x="-8" y="-7" width="23.05" height="1.05" fill="#000"/>
<rect x="-4" y="-7" width="12.05" height="1.05" fill="#a0a0a0"/>
<rect x="-8" y="-6" width="23.05" height="1.05" fill="#000"/>
<rect x="-6" y="-6" width="16.05" height="1.05" fill="#a0a0a0"/>
<rect x="-2" y="-6" width="6.05" height="1.05" fill="#707070"/>
<rect x="-9" y="-5" width="24.05" height="1.05" fill="#000"/>
<rect x="-6" y="-5" width="16.05" height="1.05" fill="#a0a0a0"/>
<rect x="-3" y="-5" width="8.05" height="1.05" fill="#707070"/>
<rect x="-10" y="-4" width="26.05" height="1.05" fill="#000"/>
<rect x="18" y="-4" width="1.05" height="1.05" fill="#000"/>
<rect x="-7" y="-4" width="19.05" height="1.05" fill="#a0a0a0"/>
<rect x="-4" y="-4" width="1.05" height="1.05" fill="#707070"/>
<rect x="-3" y="-4" width="2.06" height="1.05" fill="#3c3c3c"/>
<rect x="-1" y="-4" width="1.05" height="1.05" fill="#c8c8c8"/>
<rect x="0" y="-4" width="4.05" height="1.05" fill="#3c3c3c"/>
<rect x="4" y="-4" width="2.06" height="1.05" fill="#707070"/>
<rect x="-11" y="-3" width="28.05" height="1.05" fill="#000"/>
<rect x="-7" y="-3" width="19.05" height="1.05" fill="#a0a0a0"/>
<rect x="-4" y="-3" width="1.05" height="1.05" fill="#3c3c3c"/>
<rect x="-3" y="-3" width="1.05" height="1.05" fill="#c8c8c8"/>
<rect x="-2" y="-3" width="1.05" height="1.05" fill="#b8b8b8"/>
<rect x="-1" y="-3" width="1.05" height="1.05" fill="#b0b0b0"/>
<rect x="0" y="-3" width="1.05" height="1.05" fill="#a8a8a8"/>
<rect x="1" y="-3" width="1.05" height="1.05" fill="#a8a8a8"/>
<rect x="2" y="-3" width="1.05" height="1.05" fill="#b0b0b0"/>
<rect x="3" y="-3" width="1.05" height="1.05" fill="#c0c0c0"/>
<rect x="4" y="-3" width="1.05" height="1.05" fill="#3c3c3c"/>
<rect x="5" y="-3" width="2.06" height="1.05" fill="#707070"/>
<rect x="-11" y="-2" width="28.05" height="1.05" fill="#000"/>
<rect x="-7" y="-2" width="20.05" height="1.05" fill="#a0a0a0"/>
<rect x="-5" y="-2" width="1.05" height="1.05" fill="#707070"/>
<rect x="-4" y="-2" width="1.05" height="1.05" fill="#3c3c3c"/>
<rect x="-3" y="-2" width="1.05" height="1.05" fill="#b0b0b0"/>
<rect x="-2" y="-2" width="1.05" height="1.05" fill="#a0a0a0"/>
<rect x="-1" y="-2" width="1.05" height="1.05" fill="#989898"/>
<rect x="0" y="-2" width="1.05" height="1.05" fill="#909090"/>
<rect x="1" y="-2" width="1.05" height="1.05" fill="#909090"/>
<rect x="2" y="-2" width="1.05" height="1.05" fill="#989898"/>
<rect x="3" y="-2" width="1.05" height="1.05" fill="#a0a0a0"/>
<rect x="4" y="-2" width="1.05" height="1.05" fill="#b0b0b0"/>
<rect x="5" y="-2" width="1.05" height="1.05" fill="#3c3c3c"/>
<rect x="6" y="-2" width="2.06" height="1.05" fill="#707070"/>
<rect x="-11" y="-1" width="27.05" height="1.05" fill="#000"/>
<rect x="-7" y="-1" width="20.05" height="1.05" fill="#a0a0a0"/>
<rect x="-5" y="-1" width="1.05" height="1.05" fill="#707070"/>
<rect x="-4" y="-1" width="1.05" height="1.05" fill="#b8b8b8"/>
<rect x="-3" y="-1" width="1.05" height="1.05" fill="#a0a0a0"/>
<rect x="-2" y="-1" width="1.05" height="1.05" fill="#909090"/>
<rect x="-1" y="-1" width="1.05" height="1.05" fill="#888888"/>
<rect x="0" y="-1" width="1.05" height="1.05" fill="#808080"/>
<rect x="1" y="-1" width="1.05" height="1.05" fill="#808080"/>
<rect x="2" y="-1" width="1.05" height="1.05" fill="#888888"/>
<rect x="3" y="-1" width="1.05" height="1.05" fill="#909090"/>
<rect x="4" y="-1" width="1.05" height="1.05" fill="#a0a0a0"/>
<rect x="5" y="-1" width="1.05" height="1.05" fill="#b8b8b8"/>
<rect x="6" y="-1" width="1.05" height="1.05" fill="#3c3c3c"/>
<rect x="7" y="-1" width="1.05" height="1.05" fill="#707070"/>
<rect x="-11" y="0" width="28.05" height="1.05" fill="#000"/>
<rect x="-8" y="0" width="21.05" height="1.05" fill="#a0a0a0"/>
<rect x="-6" y="0" width="1.05" height="1.05" fill="#707070"/>
<rect x="-5" y="0" width="1.05" height="1.05" fill="#3c3c3c"/>
<rect x="-4" y="0" width="1.05" height="1.05" fill="#a8a8a8"/>
<rect x="-3" y="0" width="1.05" height="1.05" fill="#909090"/>
<rect x="-2" y="0" width="1.05" height="1.05" fill="#787878"/>
<rect x="-1" y="0" width="1.05" height="1.05" fill="#6c6c6c"/>
<rect x="0" y="0" width="1.05" height="1.05" fill="#f8f8f8"/>
<rect x="1" y="0" width="1.05" height="1.05" fill="#f0f0f0"/>
<rect x="2" y="0" width="1.05" height="1.05" fill="#707070"/>
<rect x="3" y="0" width="1.05" height="1.05" fill="#787878"/>
<rect x="4" y="0" width="1.05" height="1.05" fill="#8c8c8c"/>
<rect x="5" y="0" width="1.05" height="1.05" fill="#a8a8a8"/>
<rect x="6" y="0" width="1.05" height="1.05" fill="#3c3c3c"/>
<rect x="7" y="0" width="1.05" height="1.05" fill="#707070"/>
<rect x="-11" y="1" width="28.05" height="1.05" fill="#000"/>
<rect x="-7" y="1" width="20.05" height="1.05" fill="#a0a0a0"/>
<rect x="-6" y="1" width="2.06" height="1.05" fill="#707070"/>
<rect x="-4" y="1" width="1.05" height="1.05" fill="#a8a8a8"/>
<rect x="-3" y="1" width="1.05" height="1.05" fill="#787878"/>
<rect x="-2" y="1" width="1.05" height="1.05" fill="#e8e8e8"/>
<rect x="-1" y="1" width="1.05" height="1.05" fill="#c8c8c8"/>
<rect x="0" y="1" width="1.05" height="1.05" fill="#b0b0b0"/>
<rect x="1" y="1" width="1.05" height="1.05" fill="#a8a8a8"/>
<rect x="2" y="1" width="1.05" height="1.05" fill="#b8b8b8"/>
<rect x="3" y="1" width="1.05" height="1.05" fill="#d8d8d8"/>
<rect x="4" y="1" width="1.05" height="1.05" fill="#808080"/>
<rect x="5" y="1" width="1.05" height="1.05" fill="#989898"/>
<rect x="6" y="1" width="1.05" height="1.05" fill="#b0b0b0"/>
<rect x="7" y="1" width="1.05" height="1.05" fill="#707070"/>
<rect x="-12" y="2" width="29.05" height="1.05" fill="#000"/>
<rect x="-8" y="2" width="21.05" height="1.05" fill="#a0a0a0"/>
<rect x="-5" y="2" width="1.05" height="1.05" fill="#707070"/>
<rect x="-4" y="2" width="1.05" height="1.05" fill="#b8b8b8"/>
<rect x="-3" y="2" width="1.05" height="1.05" fill="#787878"/>
<rect x="-2" y="2" width="1.05" height="1.05" fill="#c0c0c0"/>
<rect x="-1" y="2" width="1.05" height="1.05" fill="#a0a0a0"/>
<rect x="0" y="2" width="1.05" height="1.05" fill="#8c8c8c"/>
<rect x="1" y="2" width="1.05" height="1.05" fill="#888888"/>
<rect x="2" y="2" width="1.05" height="1.05" fill="#909090"/>
<rect x="3" y="2" width="1.05" height="1.05" fill="#b0b0b0"/>
<rect x="4" y="2" width="1.05" height="1.05" fill="#e8e8e8"/>
<rect x="5" y="2" width="1.05" height="1.05" fill="#808080"/>
<rect x="6" y="2" width="1.05" height="1.05" fill="#a0a0a0"/>
<rect x="7" y="2" width="1.05" height="1.05" fill="#707070"/>
<rect x="-12" y="3" width="29.05" height="1.05" fill="#000"/>
<rect x="-7" y="3" width="19.05" height="1.05" fill="#a0a0a0"/>
<rect x="-5" y="3" width="1.05" height="1.05" fill="#707070"/>
<rect x="-4" y="3" width="1.05" height="1.05" fill="#3c3c3c"/>
<rect x="-3" y="3" width="1.05" height="1.05" fill="#a0a0a0"/>
<rect x="-2" y="3" width="1.05" height="1.05" fill="#ececec"/>
<rect x="-1" y="3" width="1.05" height="1.05" fill="#a8a8a8"/>
<rect x="0" y="3" width="1.05" height="1.05" fill="#909090"/>
<rect x="1" y="3" width="1.05" height="1.05" fill="#808080"/>
<rect x="2" y="3" width="1.05" height="1.05" fill="#888888"/>
<rect x="3" y="3" width="1.05" height="1.05" fill="#989898"/>
<rect x="4" y="3" width="1.05" height="1.05" fill="#b0b0b0"/>
<rect x="5" y="3" width="1.05" height="1.05" fill="#808080"/>
<rect x="6" y="3" width="1.05" height="1.05" fill="#a0a0a0"/>
<rect x="7" y="3" width="1.05" height="1.05" fill="#3c3c3c"/>
<rect x="-11" y="4" width="28.05" height="1.05" fill="#000"/>
<rect x="-7" y="4" width="19.05" height="1.05" fill="#a0a0a0"/>
<rect x="-4" y="4" width="1.05" height="1.05" fill="#707070"/>
<rect x="-3" y="4" width="1.05" height="1.05" fill="#3c3c3c"/>
<rect x="-2" y="4" width="1.05" height="1.05" fill="#888888"/>
<rect x="-1" y="4" width="1.05" height="1.05" fill="#a8a8a8"/>
<rect x="0" y="4" width="1.05" height="1.05" fill="#909090"/>
<rect x="1" y="4" width="1.05" height="1.05" fill="#808080"/>
<rect x="2" y="4" width="1.05" height="1.05" fill="#808080"/>
<rect x="3" y="4" width="1.05" height="1.05" fill="#808080"/>
<rect x="4" y="4" width="1.05" height="1.05" fill="#a0a0a0"/>
<rect x="5" y="4" width="1.05" height="1.05" fill="#f8f8f8"/>
<rect x="6" y="4" width="1.05" height="1.05" fill="#a8a8a8"/>
<rect x="7" y="4" width="1.05" height="1.05" fill="#707070"/>
<rect x="-10" y="5" width="27.05" height="1.05" fill="#000"/>
<rect x="-7" y="5" width="19.05" height="1.05" fill="#a0a0a0"/>
<rect x="-3" y="5" width="1.05" height="1.05" fill="#707070"/>
<rect x="-2" y="5" width="1.05" height="1.05" fill="#b0b0b0"/>
<rect x="-1" y="5" width="1.05" height="1.05" fill="#707070"/>
<rect x="0" y="5" width="1.05" height="1.05" fill="#989898"/>
<rect x="1" y="5" width="1.05" height="1.05" fill="#808080"/>
<rect x="2" y="5" width="1.05" height="1.05" fill="#787878"/>
<rect x="3" y="5" width="1.05" height="1.05" fill="#888888"/>
<rect x="4" y="5" width="1.05" height="1.05" fill="#a0a0a0"/>
<rect x="5" y="5" width="1.05" height="1.05" fill="#808080"/>
<rect x="6" y="5" width="1.05" height="1.05" fill="#c8c8c8"/>
<rect x="7" y="5" width="1.05" height="1.05" fill="#707070"/>
<rect x="-10" y="6" width="28.05" height="1.05" fill="#000"/>
<rect x="-6" y="6" width="17.05" height="1.05" fill="#a0a0a0"/>
<rect x="-2" y="6" width="1.05" height="1.05" fill="#707070"/>
<rect x="-1" y="6" width="1.05" height="1.05" fill="#989898"/>
<rect x="0" y="6" width="1.05" height="1.05" fill="#707070"/>
<rect x="1" y="6" width="1.05" height="1.05" fill="#c0c0c0"/>
<rect x="2" y="6" width="1.05" height="1.05" fill="#b8b8b8"/>
<rect x="3" y="6" width="1.05" height="1.05" fill="#707070"/>
<rect x="4" y="6" width="1.05" height="1.05" fill="#808080"/>
<rect x="5" y="6" width="1.05" height="1.05" fill="#a8a8a8"/>
<rect x="6" y="6" width="1.05" height="1.05" fill="#707070"/>
<rect x="-10" y="7" width="27.05" height="1.05" fill="#000"/>
<rect x="-6" y="7" width="17.05" height="1.05" fill="#a0a0a0"/>
<rect x="-1" y="7" width="1.05" height="1.05" fill="#707070"/>
<rect x="0" y="7" width="1.05" height="1.05" fill="#d8d8d8"/>
<rect x="1" y="7" width="1.05" height="1.05" fill="#b8b8b8"/>
<rect x="2" y="7" width="1.05" height="1.05" fill="#b0b0b0"/>
<rect x="3" y="7" width="1.05" height="1.05" fill="#b8b8b8"/>
<rect x="4" y="7" width="1.05" height="1.05" fill="#3c3c3c"/>
<rect x="5" y="7" width="1.05" height="1.05" fill="#707070"/>
<rect x="-10" y="8" width="27.05" height="1.05" fill="#000"/>
<rect x="-5" y="8" width="13.05" height="1.05" fill="#a0a0a0"/>
<rect x="1" y="8" width="3.06" height="1.05" fill="#707070"/>
<rect x="-9" y="9" width="25.05" height="1.05" fill="#000"/>
<rect x="-4" y="9" width="11.05" height="1.05" fill="#a0a0a0"/>
<rect x="-9" y="10" width="25.05" height="1.05" fill="#000"/>
<rect x="-3" y="10" width="9.05" height="1.05" fill="#a0a0a0"/>
<rect x="12" y="10" width="1.05" height="1.05" fill="#fff"/>
<rect x="-5" y="11" width="20.05" height="1.05" fill="#000"/>
<rect x="-6" y="12" width="20.05" height="1.05" fill="#000"/>
<rect x="9" y="12" width="1.05" height="1.05" fill="#fff"/>
<rect x="-5" y="13" width="18.05" height="1.05" fill="#000"/>
<rect x="9" y="13" width="1.05" height="1.05" fill="#fff"/>
<rect x="-5" y="14" width="16.05" height="1.05" fill="#000"/>
<rect x="6" y="14" width="3.06" height="1.05" fill="#fff"/>
<rect x="0" y="15" width="10.05" height="1.05" fill="#000"/>
<rect x="6" y="15" width="1.05" height="1.05" fill="#fff"/>
<rect x="5" y="16" width="5.05" height="1.05" fill="#000"/>
<rect x="-1" y="16" width="1.05" height="1.05" fill="#000"/>
<rect x="6" y="17" width="2.06" height="1.05" fill="#000"/>
<rect x="35" y="20" width="1.05" height="1.05" fill="#000"/>
<rect x="34" y="21" width="2.06" height="1.05" fill="#000"/>
<rect x="35" y="22" width="1.05" height="1.05" fill="#000"/>
<rect x="35" y="23" width="1.05" height="1.05" fill="#000"/>
<rect x="36" y="24" width="1.05" height="1.05" fill="#000"/>
<rect x="-7" y="24" width="1.05" height="1.05" fill="#888888"/>
<rect x="36" y="25" width="1.05" height="1.05" fill="#000"/>
<rect x="36" y="26" width="1.05" height="1.05" fill="#000"/>
<rect x="36" y="27" width="1.05" height="1.05" fill="#000"/>
<rect x="30" y="27" width="1.05" height="1.05" fill="#000"/>
<rect x="32" y="27" width="1.05" height="1.05" fill="#000"/>
<rect x="29" y="28" width="5.05" height="1.05" fill="#000"/>
<rect x="28" y="29" width="6.05" height="1.05" fill="#000"/>
<rect x="36" y="29" width="1.05" height="1.05" fill="#000"/>
<rect x="28" y="30" width="8.05" height="1.05" fill="#000"/>
</g></g>
<rect x="979.7" y="903.5" width="750" height="750" fill="none" stroke="#000" stroke-width="3.1"/>
<rect x="991.4" y="917.4" width="194.2" height="31" rx="4.5" fill="#000"/>
<text x="998.4" y="938.9" font-size="21" text-anchor="start" fill="#fff" font-weight="bold" textLength="179.7" lengthAdjust="spacingAndGlyphs">WMG Count: 36</text>
</svg></body></html>
